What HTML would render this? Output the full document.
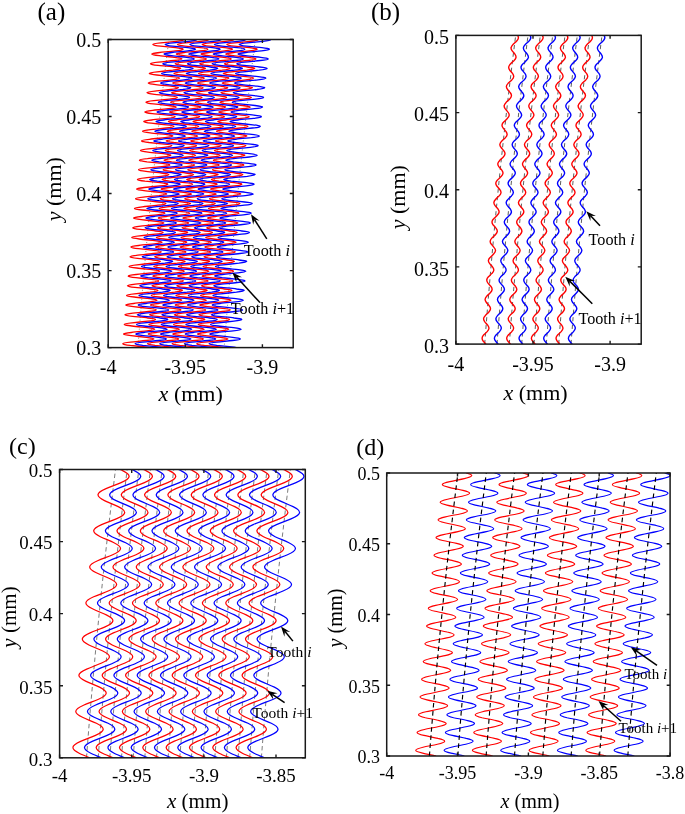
<!DOCTYPE html>
<html><head><meta charset="utf-8"><title>Figure</title>
<style>
html,body{margin:0;padding:0;background:#fff;}
body{width:685px;height:814px;overflow:hidden;}
svg{display:block;will-change:transform;font-family:"Liberation Serif",serif;fill:#000;}
</style></head><body>
<svg width="685" height="814" viewBox="0 0 685 814">
<rect width="685" height="814" fill="#fff"/>
<clipPath id="c0"><rect x="108.2" y="39.5" width="185" height="308.1"/></clipPath>
<g clip-path="url(#c0)" fill="none" stroke-linejoin="round"><g>
<g stroke="#333" stroke-width="0.6" stroke-dasharray="1 2"><path d="M137.9 347.6c1.3 -17.1 2.7 -34.2 4.1 -51.3c1.4 -17.2 2.9 -34.3 4.5 -51.4c1.6 -17.1 3.2 -34.2 4.9 -51.4c1.8 -17.1 3.6 -34.2 5.4 -51.3c1.9 -17.1 3.8 -34.2 5.8 -51.3c2.1 -17.2 4.1 -34.3 6.3 -51.4"/><path d="M150.2 347.6c1.3 -17.1 2.7 -34.2 4.1 -51.3c1.4 -17.2 3 -34.3 4.5 -51.4c1.6 -17.1 3.3 -34.2 5 -51.4c1.7 -17.1 3.5 -34.2 5.4 -51.3c1.8 -17.1 3.8 -34.2 5.8 -51.3c2 -17.2 4.1 -34.3 6.2 -51.4"/><path d="M162.6 347.6c1.3 -17.1 2.6 -34.2 4 -51.3c1.5 -17.2 3 -34.3 4.6 -51.4c1.5 -17.1 3.2 -34.2 4.9 -51.4c1.7 -17.1 3.5 -34.2 5.4 -51.3c1.9 -17.1 3.8 -34.2 5.8 -51.3c2 -17.2 4.1 -34.3 6.3 -51.4"/><path d="M174.9 347.6c1.3 -17.1 2.7 -34.2 4.1 -51.3c1.4 -17.2 2.9 -34.3 4.5 -51.4c1.6 -17.1 3.2 -34.2 4.9 -51.4c1.8 -17.1 3.6 -34.2 5.4 -51.3c1.9 -17.1 3.8 -34.2 5.8 -51.3c2.1 -17.2 4.1 -34.3 6.3 -51.4"/><path d="M187.2 347.6c1.3 -17.1 2.7 -34.2 4.1 -51.3c1.4 -17.2 3 -34.3 4.5 -51.4c1.6 -17.1 3.3 -34.2 5 -51.4c1.7 -17.1 3.5 -34.2 5.4 -51.3c1.8 -17.1 3.8 -34.2 5.8 -51.3c2 -17.2 4.1 -34.3 6.2 -51.4"/><path d="M199.6 347.6c1.3 -17.1 2.6 -34.2 4 -51.3c1.5 -17.2 3 -34.3 4.6 -51.4c1.5 -17.1 3.2 -34.2 4.9 -51.4c1.7 -17.1 3.5 -34.2 5.4 -51.3c1.9 -17.1 3.8 -34.2 5.8 -51.3c2 -17.2 4.1 -34.3 6.3 -51.4"/><path d="M211.9 347.6c1.3 -17.1 2.7 -34.2 4.1 -51.3c1.4 -17.2 2.9 -34.3 4.5 -51.4c1.6 -17.1 3.2 -34.2 4.9 -51.4c1.8 -17.1 3.6 -34.2 5.4 -51.3c1.9 -17.1 3.8 -34.2 5.8 -51.3c2.1 -17.2 4.1 -34.3 6.3 -51.4"/><path d="M224.2 347.6c1.3 -17.1 2.7 -34.2 4.1 -51.3c1.4 -17.2 3 -34.3 4.5 -51.4c1.6 -17.1 3.3 -34.2 5 -51.4c1.7 -17.1 3.5 -34.2 5.4 -51.3c1.8 -17.1 3.8 -34.2 5.8 -51.3c2 -17.2 4.1 -34.3 6.2 -51.4"/></g>
<path d="M150.1 347.6c-1.2 -0.2 -2.7 -0.4 -4.4 -0.6c-4.7 -0.5 -10.7 -1.1 -15.3 -1.6c-4.7 -0.6 -7.7 -1.1 -7.6 -1.6c0 -0.6 3.1 -1.1 7.8 -1.6c4.7 -0.6 10.8 -1.1 15.5 -1.7c4.7 -0.5 7.8 -1 7.9 -1.6c0 -0.5 -3 -1 -7.6 -1.6c-4.6 -0.5 -10.7 -1.1 -15.3 -1.6c-4.6 -0.5 -7.6 -1.1 -7.6 -1.6c0.1 -0.5 3.1 -1.1 7.8 -1.6c4.8 -0.6 10.9 -1.1 15.6 -1.6c4.7 -0.6 7.8 -1.1 7.8 -1.6c0.1 -0.6 -2.9 -1.1 -7.6 -1.7c-4.6 -0.5 -10.6 -1 -15.2 -1.6c-4.7 -0.5 -7.7 -1 -7.6 -1.6c0 -0.5 3.1 -1.1 7.8 -1.6c4.7 -0.5 10.9 -1.1 15.6 -1.6c4.7 -0.5 7.7 -1.1 7.8 -1.6c0 -0.6 -3 -1.1 -7.6 -1.6c-4.6 -0.6 -10.7 -1.1 -15.3 -1.6c-4.6 -0.6 -7.6 -1.1 -7.6 -1.7c0.1 -0.5 3.2 -1 7.9 -1.6c4.7 -0.5 10.8 -1 15.5 -1.6c4.7 -0.5 7.8 -1 7.9 -1.6c0 -0.5 -3 -1.1 -7.6 -1.6c-4.6 -0.5 -10.7 -1.1 -15.3 -1.6c-4.6 -0.5 -7.6 -1.1 -7.6 -1.6c0.1 -0.6 3.2 -1.1 7.9 -1.6c4.7 -0.6 10.8 -1.1 15.5 -1.6c4.7 -0.6 7.8 -1.1 7.9 -1.7c0 -0.5 -3 -1 -7.6 -1.6c-4.6 -0.5 -10.7 -1 -15.3 -1.6c-4.6 -0.5 -7.6 -1.1 -7.6 -1.6c0.1 -0.5 3.2 -1.1 7.9 -1.6c4.7 -0.5 10.8 -1.1 15.5 -1.6c4.7 -0.6 7.8 -1.1 7.9 -1.6c0 -0.6 -3 -1.1 -7.6 -1.6c-4.6 -0.6 -10.7 -1.1 -15.3 -1.6c-4.6 -0.6 -7.6 -1.1 -7.5 -1.7c0 -0.5 3.1 -1 7.8 -1.6c4.7 -0.5 10.8 -1 15.6 -1.6c4.7 -0.5 7.8 -1.1 7.8 -1.6c0 -0.5 -3 -1.1 -7.6 -1.6c-4.6 -0.5 -10.6 -1.1 -15.2 -1.6c-4.7 -0.6 -7.7 -1.1 -7.6 -1.6c0 -0.6 3.1 -1.1 7.8 -1.6c4.7 -0.6 10.9 -1.1 15.6 -1.7c4.7 -0.5 7.8 -1 7.8 -1.6c0.1 -0.5 -2.9 -1 -7.5 -1.6c-4.6 -0.5 -10.7 -1 -15.3 -1.6c-4.6 -0.5 -7.6 -1.1 -7.6 -1.6c0.1 -0.5 3.2 -1.1 7.9 -1.6c4.7 -0.5 10.8 -1.1 15.5 -1.6c4.8 -0.6 7.9 -1.1 7.9 -1.6c0 -0.6 -3 -1.1 -7.6 -1.6c-4.6 -0.6 -10.6 -1.1 -15.2 -1.6c-4.6 -0.6 -7.6 -1.1 -7.6 -1.7c0 -0.5 3.1 -1 7.9 -1.6c4.7 -0.5 10.8 -1 15.5 -1.6c4.7 -0.5 7.8 -1.1 7.9 -1.6c0 -0.5 -3 -1.1 -7.6 -1.6c-4.6 -0.5 -10.6 -1.1 -15.3 -1.6c-4.6 -0.5 -7.6 -1.1 -7.5 -1.6c0 -0.6 3.1 -1.1 7.8 -1.6c4.7 -0.6 10.9 -1.1 15.6 -1.6c4.7 -0.6 7.8 -1.1 7.9 -1.7c0 -0.5 -3 -1 -7.6 -1.6c-4.6 -0.5 -10.7 -1 -15.3 -1.6c-4.6 -0.5 -7.6 -1 -7.5 -1.6c0 -0.5 3.1 -1.1 7.8 -1.6c4.7 -0.5 10.9 -1.1 15.6 -1.6c4.7 -0.5 7.8 -1.1 7.9 -1.6c0 -0.6 -3 -1.1 -7.6 -1.6c-4.6 -0.6 -10.7 -1.1 -15.3 -1.6c-4.6 -0.6 -7.6 -1.1 -7.5 -1.6c0 -0.6 3.1 -1.1 7.8 -1.7c4.8 -0.5 10.9 -1 15.6 -1.6c4.7 -0.5 7.8 -1 7.9 -1.6c0 -0.5 -3 -1 -7.6 -1.6c-4.6 -0.5 -10.6 -1.1 -15.2 -1.6c-4.6 -0.5 -7.6 -1.1 -7.6 -1.6c0.1 -0.5 3.2 -1.1 7.9 -1.6c4.7 -0.6 10.8 -1.1 15.5 -1.6c4.8 -0.6 7.9 -1.1 7.9 -1.6c0.1 -0.6 -2.9 -1.1 -7.5 -1.6c-4.6 -0.6 -10.7 -1.1 -15.3 -1.7c-4.6 -0.5 -7.6 -1 -7.6 -1.6c0.1 -0.5 3.2 -1 7.9 -1.6c4.7 -0.5 10.9 -1 15.6 -1.6c4.7 -0.5 7.8 -1.1 7.9 -1.6c0 -0.5 -3 -1.1 -7.6 -1.6c-4.6 -0.5 -10.6 -1.1 -15.2 -1.6c-4.7 -0.5 -7.6 -1.1 -7.6 -1.6c0.1 -0.6 3.2 -1.1 7.9 -1.6c4.7 -0.6 10.8 -1.1 15.6 -1.6c4.7 -0.6 7.8 -1.1 7.8 -1.6c0.1 -0.6 -2.9 -1.1 -7.5 -1.7c-4.6 -0.5 -10.7 -1 -15.3 -1.6c-4.6 -0.5 -7.6 -1 -7.5 -1.6c0 -0.5 3.1 -1 7.8 -1.6c4.8 -0.5 10.9 -1.1 15.6 -1.6c4.7 -0.5 7.8 -1.1 7.9 -1.6c0.1 -0.5 -2.9 -1.1 -7.5 -1.6c-4.7 -0.5 -10.7 -1.1 -15.3 -1.6c-4.6 -0.6 -7.6 -1.1 -7.5 -1.6c0 -0.6 3.1 -1.1 7.8 -1.6c4.7 -0.6 10.9 -1.1 15.6 -1.6c4.7 -0.6 7.8 -1.1 7.9 -1.7c0 -0.5 -2.9 -1 -7.5 -1.6c-4.7 -0.5 -10.7 -1 -15.3 -1.6c-4.6 -0.5 -7.6 -1 -7.5 -1.6c0 -0.5 3.1 -1.1 7.8 -1.6c4.8 -0.5 10.9 -1.1 15.6 -1.6c4.7 -0.5 7.8 -1.1 7.9 -1.6c0.1 -0.5 -2.9 -1.1 -7.5 -1.6c-4.6 -0.5 -10.7 -1.1 -15.3 -1.6c-4.6 -0.6 -7.6 -1.1 -7.5 -1.6c0 -0.6 3.1 -1.1 7.9 -1.6c4.7 -0.6 10.8 -1.1 15.5 -1.6c4.8 -0.6 7.9 -1.1 7.9 -1.7c0.1 -0.5 -2.9 -1 -7.5 -1.6c-4.6 -0.5 -10.7 -1 -15.3 -1.6c-4.6 -0.5 -7.5 -1 -7.5 -1.6c0.1 -0.5 3.2 -1.1 7.9 -1.6c4.7 -0.5 10.9 -1.1 15.6 -1.6c4.7 -0.5 7.8 -1.1 7.9 -1.6c0 -0.5 -3 -1.1 -7.6 -1.6c-4.6 -0.5 -10.6 -1.1 -15.2 -1.6c-4.6 -0.6 -7.6 -1.1 -7.5 -1.6c0 -0.6 3.1 -1.1 7.8 -1.6c4.8 -0.6 10.9 -1.1 15.6 -1.6c4.8 -0.6 7.9 -1.1 7.9 -1.6c0.1 -0.6 -2.9 -1.1 -7.5 -1.7c-4.6 -0.5 -10.7 -1 -15.3 -1.6c-4.6 -0.5 -7.5 -1 -7.5 -1.6c0.1 -0.5 3.2 -1 7.9 -1.6c4.7 -0.5 10.9 -1.1 15.6 -1.6c4.7 -0.5 7.8 -1.1 7.9 -1.6c0 -0.5 -2.9 -1.1 -7.5 -1.6c-4.6 -0.5 -10.7 -1.1 -15.3 -1.6c-4.6 -0.5 -7.6 -1.1 -7.5 -1.6c0.1 -0.6 3.2 -1.1 7.9 -1.6c4.7 -0.6 10.9 -1.1 15.6 -1.6c4.7 -0.6 7.8 -1.1 7.9 -1.6c0 -0.6 -3 -1.1 -7.6 -1.6c-4.6 -0.6 -10.6 -1.1 -15.2 -1.6c-4.6 -0.6 -7.6 -1.1 -7.5 -1.7c0 -0.5 3.2 -1 7.9 -1.6c4.7 -0.5 10.9 -1 15.6 -1.6c4.7 -0.5 7.8 -1 7.9 -1.6c0 -0.5 -3 -1 -7.6 -1.6c-4.6 -0.5 -10.6 -1.1 -15.2 -1.6c-4.6 -0.5 -7.6 -1.1 -7.5 -1.6c0.1 -0.5 3.2 -1.1 7.9 -1.6c4.7 -0.5 10.9 -1.1 15.6 -1.6c4.7 -0.5 7.8 -1.1 7.9 -1.6c0 -0.6 -2.9 -1.1 -7.5 -1.6c-4.6 -0.6 -10.7 -1.1 -15.3 -1.6c-4.6 -0.6 -7.5 -1.1 -7.5 -1.6c0.1 -0.6 3.2 -1.1 7.9 -1.6c4.7 -0.6 10.9 -1.1 15.6 -1.6c4.7 -0.6 7.9 -1.1 7.9 -1.7c0.1 -0.5 -2.9 -1 -7.5 -1.6c-4.6 -0.5 -10.6 -1 -15.2 -1.6c-4.6 -0.5 -7.6 -1 -7.5 -1.6c0 -0.5 3.1 -1 7.9 -1.6c4.7 -0.5 10.8 -1 15.6 -1.6c4.7 -0.5 7.8 -1.1 7.9 -1.6c0 -0.5 -3 -1.1 -7.6 -1.6c-4.6 -0.5 -10.6 -1.1 -15.2 -1.6c-4.6 -0.5 -7.6 -1.1 -7.5 -1.6c0.1 -0.5 3.2 -1.1 7.9 -1.6c4.7 -0.5 10.9 -1.1 15.6 -1.6c4.7 -0.6 7.9 -1.1 7.9 -1.6c0.1 -0.6 -2.9 -1.1 -7.5 -1.6c-4.6 -0.6 -10.6 -1.1 -15.2 -1.6c-4.6 -0.6 -7.6 -1.1 -7.5 -1.6c0 -0.6 3.2 -1.1 7.9 -1.6c4.7 -0.6 10.9 -1.1 15.6 -1.7c4.7 -0.5 7.8 -1 7.9 -1.6c0.1 -0.5 -2.9 -1 -7.5 -1.6c-4.6 -0.5 -10.6 -1 -15.2 -1.6c-4.6 -0.5 -7.6 -1 -7.5 -1.6c0 -0.5 3.1 -1 7.9 -1.6c4.7 -0.5 10.9 -1 15.6 -1.6c4.7 -0.5 7.8 -1.1 7.9 -1.6c0.1 -0.5 -2.9 -1.1 -7.5 -1.6c-4.6 -0.5 -10.6 -1.1 -15.2 -1.6c-4.6 -0.5 -7.6 -1.1 -7.5 -1.6c0 -0.5 3.1 -1.1 7.9 -1.6c4.7 -0.5 10.9 -1.1 15.6 -1.6c4.7 -0.5 7.8 -1.1 7.9 -1.6c0 -0.1 -0 -0.1 -0.1 -0.2" stroke="#f00" stroke-width="1.3"/>
<path d="M174.8 347.6c-1.2 -0.2 -2.7 -0.4 -4.5 -0.6c-4.6 -0.5 -10.7 -1.1 -15.3 -1.6c-4.6 -0.6 -7.6 -1.1 -7.6 -1.6c0.1 -0.6 3.2 -1.1 7.9 -1.6c4.7 -0.6 10.8 -1.1 15.5 -1.7c4.7 -0.5 7.8 -1 7.8 -1.6c0.1 -0.5 -2.9 -1 -7.5 -1.6c-4.7 -0.5 -10.7 -1.1 -15.3 -1.6c-4.7 -0.5 -7.7 -1.1 -7.6 -1.6c0 -0.5 3.1 -1.1 7.8 -1.6c4.7 -0.6 10.9 -1.1 15.6 -1.6c4.7 -0.6 7.8 -1.1 7.8 -1.6c0 -0.6 -3 -1.1 -7.6 -1.7c-4.6 -0.5 -10.7 -1 -15.3 -1.6c-4.6 -0.5 -7.6 -1 -7.6 -1.6c0.1 -0.5 3.2 -1.1 7.9 -1.6c4.7 -0.5 10.8 -1.1 15.5 -1.6c4.7 -0.5 7.8 -1.1 7.9 -1.6c0 -0.6 -3 -1.1 -7.6 -1.6c-4.6 -0.6 -10.7 -1.1 -15.3 -1.6c-4.6 -0.6 -7.6 -1.1 -7.6 -1.7c0.1 -0.5 3.1 -1 7.9 -1.6c4.7 -0.5 10.8 -1 15.5 -1.6c4.7 -0.5 7.8 -1 7.8 -1.6c0.1 -0.5 -2.9 -1.1 -7.5 -1.6c-4.7 -0.5 -10.7 -1.1 -15.3 -1.6c-4.6 -0.5 -7.6 -1.1 -7.6 -1.6c0 -0.6 3.1 -1.1 7.8 -1.6c4.7 -0.6 10.9 -1.1 15.6 -1.6c4.7 -0.6 7.8 -1.1 7.8 -1.7c0.1 -0.5 -2.9 -1 -7.5 -1.6c-4.7 -0.5 -10.7 -1 -15.3 -1.6c-4.6 -0.5 -7.6 -1.1 -7.6 -1.6c0 -0.5 3.1 -1.1 7.8 -1.6c4.8 -0.5 10.9 -1.1 15.6 -1.6c4.7 -0.6 7.8 -1.1 7.8 -1.6c0.1 -0.6 -2.9 -1.1 -7.5 -1.6c-4.6 -0.6 -10.7 -1.1 -15.3 -1.6c-4.6 -0.6 -7.6 -1.1 -7.6 -1.7c0.1 -0.5 3.2 -1 7.9 -1.6c4.7 -0.5 10.8 -1 15.5 -1.6c4.7 -0.5 7.8 -1.1 7.9 -1.6c0 -0.5 -3 -1.1 -7.6 -1.6c-4.6 -0.5 -10.7 -1.1 -15.3 -1.6c-4.6 -0.6 -7.6 -1.1 -7.5 -1.6c0 -0.6 3.1 -1.1 7.8 -1.6c4.7 -0.6 10.9 -1.1 15.6 -1.7c4.7 -0.5 7.8 -1 7.8 -1.6c0.1 -0.5 -2.9 -1 -7.6 -1.6c-4.6 -0.5 -10.6 -1 -15.2 -1.6c-4.6 -0.5 -7.6 -1.1 -7.6 -1.6c0.1 -0.5 3.1 -1.1 7.9 -1.6c4.7 -0.5 10.8 -1.1 15.5 -1.6c4.7 -0.6 7.8 -1.1 7.9 -1.6c0 -0.6 -3 -1.1 -7.6 -1.6c-4.6 -0.6 -10.7 -1.1 -15.3 -1.6c-4.6 -0.6 -7.6 -1.1 -7.5 -1.7c0 -0.5 3.1 -1 7.8 -1.6c4.7 -0.5 10.9 -1 15.6 -1.6c4.7 -0.5 7.8 -1.1 7.8 -1.6c0.1 -0.5 -2.9 -1.1 -7.5 -1.6c-4.6 -0.5 -10.7 -1.1 -15.3 -1.6c-4.6 -0.5 -7.6 -1.1 -7.6 -1.6c0.1 -0.6 3.2 -1.1 7.9 -1.6c4.7 -0.6 10.9 -1.1 15.6 -1.6c4.7 -0.6 7.8 -1.1 7.8 -1.7c0.1 -0.5 -2.9 -1 -7.5 -1.6c-4.6 -0.5 -10.7 -1 -15.3 -1.6c-4.6 -0.5 -7.6 -1 -7.6 -1.6c0.1 -0.5 3.2 -1.1 7.9 -1.6c4.7 -0.5 10.9 -1.1 15.6 -1.6c4.7 -0.5 7.8 -1.1 7.8 -1.6c0.1 -0.6 -2.9 -1.1 -7.5 -1.6c-4.6 -0.6 -10.7 -1.1 -15.3 -1.6c-4.6 -0.6 -7.6 -1.1 -7.5 -1.6c0 -0.6 3.1 -1.1 7.8 -1.7c4.7 -0.5 10.9 -1 15.6 -1.6c4.7 -0.5 7.8 -1 7.8 -1.6c0.1 -0.5 -2.9 -1 -7.5 -1.6c-4.6 -0.5 -10.7 -1.1 -15.3 -1.6c-4.6 -0.5 -7.6 -1.1 -7.5 -1.6c0 -0.5 3.1 -1.1 7.8 -1.6c4.8 -0.6 10.9 -1.1 15.6 -1.6c4.7 -0.6 7.8 -1.1 7.9 -1.6c0 -0.6 -3 -1.1 -7.6 -1.6c-4.6 -0.6 -10.6 -1.1 -15.2 -1.7c-4.6 -0.5 -7.6 -1 -7.6 -1.6c0.1 -0.5 3.2 -1 7.9 -1.6c4.7 -0.5 10.8 -1 15.6 -1.6c4.7 -0.5 7.8 -1.1 7.8 -1.6c0.1 -0.5 -2.9 -1.1 -7.5 -1.6c-4.6 -0.5 -10.7 -1.1 -15.3 -1.6c-4.6 -0.5 -7.6 -1.1 -7.5 -1.6c0 -0.6 3.1 -1.1 7.8 -1.6c4.8 -0.6 10.9 -1.1 15.6 -1.6c4.7 -0.6 7.8 -1.1 7.9 -1.6c0 -0.6 -3 -1.1 -7.6 -1.7c-4.6 -0.5 -10.6 -1 -15.2 -1.6c-4.6 -0.5 -7.6 -1 -7.6 -1.6c0.1 -0.5 3.2 -1 7.9 -1.6c4.7 -0.5 10.9 -1.1 15.6 -1.6c4.7 -0.5 7.8 -1.1 7.9 -1.6c0 -0.5 -3 -1.1 -7.6 -1.6c-4.6 -0.5 -10.6 -1.1 -15.2 -1.6c-4.6 -0.6 -7.6 -1.1 -7.6 -1.6c0.1 -0.6 3.2 -1.1 7.9 -1.6c4.7 -0.6 10.9 -1.1 15.6 -1.6c4.7 -0.6 7.8 -1.1 7.9 -1.7c0 -0.5 -3 -1 -7.6 -1.6c-4.6 -0.5 -10.6 -1 -15.2 -1.6c-4.6 -0.5 -7.6 -1 -7.6 -1.6c0.1 -0.5 3.2 -1.1 7.9 -1.6c4.7 -0.5 10.9 -1.1 15.6 -1.6c4.7 -0.5 7.8 -1.1 7.9 -1.6c0 -0.5 -3 -1.1 -7.6 -1.6c-4.6 -0.5 -10.6 -1.1 -15.2 -1.6c-4.6 -0.6 -7.6 -1.1 -7.6 -1.6c0.1 -0.6 3.2 -1.1 7.9 -1.6c4.7 -0.6 10.9 -1.1 15.6 -1.6c4.7 -0.6 7.8 -1.1 7.9 -1.7c0 -0.5 -2.9 -1 -7.5 -1.6c-4.6 -0.5 -10.7 -1 -15.3 -1.6c-4.6 -0.5 -7.6 -1 -7.5 -1.6c0 -0.5 3.1 -1.1 7.9 -1.6c4.7 -0.5 10.8 -1.1 15.5 -1.6c4.8 -0.5 7.9 -1.1 7.9 -1.6c0.1 -0.5 -2.9 -1.1 -7.5 -1.6c-4.6 -0.5 -10.6 -1.1 -15.2 -1.6c-4.6 -0.6 -7.6 -1.1 -7.6 -1.6c0.1 -0.6 3.2 -1.1 7.9 -1.6c4.7 -0.6 10.9 -1.1 15.6 -1.6c4.7 -0.6 7.8 -1.1 7.9 -1.6c0 -0.6 -2.9 -1.1 -7.5 -1.7c-4.6 -0.5 -10.7 -1 -15.3 -1.6c-4.6 -0.5 -7.6 -1 -7.5 -1.6c0 -0.5 3.1 -1 7.9 -1.6c4.7 -0.5 10.8 -1.1 15.6 -1.6c4.7 -0.5 7.8 -1.1 7.9 -1.6c0 -0.5 -3 -1.1 -7.6 -1.6c-4.6 -0.5 -10.6 -1.1 -15.2 -1.6c-4.6 -0.5 -7.6 -1.1 -7.5 -1.6c0 -0.6 3.1 -1.1 7.8 -1.6c4.8 -0.6 10.9 -1.1 15.6 -1.6c4.8 -0.6 7.9 -1.1 7.9 -1.6c0.1 -0.6 -2.9 -1.1 -7.5 -1.6c-4.6 -0.6 -10.6 -1.1 -15.2 -1.6c-4.6 -0.6 -7.6 -1.1 -7.5 -1.7c0 -0.5 3.1 -1 7.8 -1.6c4.8 -0.5 10.9 -1 15.6 -1.6c4.8 -0.5 7.9 -1 7.9 -1.6c0.1 -0.5 -2.9 -1 -7.5 -1.6c-4.6 -0.5 -10.6 -1.1 -15.2 -1.6c-4.6 -0.5 -7.6 -1.1 -7.5 -1.6c0 -0.5 3.1 -1.1 7.9 -1.6c4.7 -0.5 10.8 -1.1 15.6 -1.6c4.7 -0.5 7.8 -1.1 7.9 -1.6c0 -0.6 -3 -1.1 -7.6 -1.6c-4.6 -0.6 -10.6 -1.1 -15.2 -1.6c-4.6 -0.6 -7.6 -1.1 -7.5 -1.6c0 -0.6 3.2 -1.1 7.9 -1.6c4.7 -0.6 10.9 -1.1 15.6 -1.6c4.7 -0.6 7.8 -1.1 7.9 -1.7c0 -0.5 -2.9 -1 -7.5 -1.6c-4.6 -0.5 -10.7 -1 -15.3 -1.6c-4.6 -0.5 -7.5 -1 -7.5 -1.6c0.1 -0.5 3.2 -1 7.9 -1.6c4.7 -0.5 10.9 -1 15.6 -1.6c4.8 -0.5 7.9 -1.1 7.9 -1.6c0.1 -0.5 -2.9 -1.1 -7.5 -1.6c-4.6 -0.5 -10.6 -1.1 -15.2 -1.6c-4.6 -0.5 -7.6 -1.1 -7.5 -1.6c0 -0.5 3.1 -1.1 7.9 -1.6c4.7 -0.5 10.9 -1.1 15.6 -1.6c4.7 -0.6 7.8 -1.1 7.9 -1.6c0.1 -0.6 -2.9 -1.1 -7.5 -1.6c-4.6 -0.6 -10.7 -1.1 -15.2 -1.6c-4.6 -0.6 -7.6 -1.1 -7.6 -1.6c0.1 -0.6 3.2 -1.1 7.9 -1.6c4.8 -0.6 10.9 -1.1 15.7 -1.7c4.7 -0.5 7.8 -1 7.9 -1.6c0 -0.5 -3 -1 -7.5 -1.6c-4.6 -0.5 -10.7 -1 -15.3 -1.6c-4.6 -0.5 -7.5 -1 -7.5 -1.6c0.1 -0.5 3.2 -1 7.9 -1.6c4.8 -0.5 10.9 -1 15.6 -1.6c4.8 -0.5 7.9 -1.1 8 -1.6c0 -0.5 -3 -1.1 -7.6 -1.6c-4.5 -0.5 -10.6 -1.1 -15.2 -1.6c-4.6 -0.5 -7.5 -1.1 -7.5 -1.6c0.1 -0.5 3.2 -1.1 7.9 -1.6c4.8 -0.5 10.9 -1.1 15.6 -1.6c4.8 -0.5 7.9 -1.1 8 -1.6c-0 -0.1 -0.1 -0.1 -0.1 -0.2" stroke="#f00" stroke-width="1.3"/>
<path d="M199.5 347.6c-1.3 -0.2 -2.8 -0.4 -4.5 -0.6c-4.6 -0.5 -10.7 -1.1 -15.3 -1.6c-4.6 -0.6 -7.6 -1.1 -7.6 -1.6c0 -0.6 3.1 -1.1 7.8 -1.6c4.7 -0.6 10.9 -1.1 15.6 -1.7c4.7 -0.5 7.8 -1 7.8 -1.6c0.1 -0.5 -3 -1 -7.6 -1.6c-4.6 -0.5 -10.6 -1.1 -15.3 -1.6c-4.6 -0.5 -7.6 -1.1 -7.6 -1.6c0.1 -0.5 3.2 -1.1 7.9 -1.6c4.7 -0.6 10.8 -1.1 15.5 -1.6c4.7 -0.6 7.8 -1.1 7.9 -1.6c0 -0.6 -3 -1.1 -7.6 -1.7c-4.6 -0.5 -10.7 -1 -15.3 -1.6c-4.6 -0.5 -7.6 -1 -7.6 -1.6c0 -0.5 3.1 -1.1 7.8 -1.6c4.7 -0.5 10.9 -1.1 15.6 -1.6c4.7 -0.5 7.8 -1.1 7.8 -1.6c0.1 -0.6 -2.9 -1.1 -7.6 -1.6c-4.6 -0.6 -10.6 -1.1 -15.2 -1.6c-4.7 -0.6 -7.7 -1.1 -7.6 -1.7c0 -0.5 3.1 -1 7.8 -1.6c4.7 -0.5 10.9 -1 15.6 -1.6c4.7 -0.5 7.8 -1 7.8 -1.6c0 -0.5 -3 -1.1 -7.6 -1.6c-4.6 -0.5 -10.6 -1.1 -15.3 -1.6c-4.6 -0.5 -7.6 -1.1 -7.5 -1.6c0 -0.6 3.1 -1.1 7.8 -1.6c4.7 -0.6 10.9 -1.1 15.6 -1.6c4.7 -0.6 7.8 -1.1 7.8 -1.7c0 -0.5 -3 -1 -7.6 -1.6c-4.6 -0.5 -10.6 -1 -15.3 -1.6c-4.6 -0.5 -7.6 -1.1 -7.5 -1.6c0 -0.5 3.1 -1.1 7.8 -1.6c4.7 -0.5 10.9 -1.1 15.6 -1.6c4.7 -0.6 7.8 -1.1 7.8 -1.6c0.1 -0.6 -2.9 -1.1 -7.6 -1.6c-4.6 -0.6 -10.6 -1.1 -15.2 -1.6c-4.7 -0.6 -7.7 -1.1 -7.6 -1.7c0 -0.5 3.1 -1 7.8 -1.6c4.7 -0.5 10.9 -1 15.6 -1.6c4.7 -0.5 7.8 -1.1 7.8 -1.6c0.1 -0.5 -2.9 -1.1 -7.5 -1.6c-4.6 -0.5 -10.7 -1.1 -15.3 -1.6c-4.6 -0.6 -7.6 -1.1 -7.6 -1.6c0.1 -0.6 3.2 -1.1 7.9 -1.6c4.7 -0.6 10.8 -1.1 15.5 -1.7c4.7 -0.5 7.8 -1 7.9 -1.6c0 -0.5 -3 -1 -7.6 -1.6c-4.6 -0.5 -10.7 -1 -15.3 -1.6c-4.6 -0.5 -7.6 -1.1 -7.5 -1.6c0 -0.5 3.1 -1.1 7.8 -1.6c4.7 -0.5 10.9 -1.1 15.6 -1.6c4.7 -0.6 7.8 -1.1 7.8 -1.6c0.1 -0.6 -2.9 -1.1 -7.5 -1.6c-4.6 -0.6 -10.7 -1.1 -15.3 -1.6c-4.6 -0.6 -7.6 -1.1 -7.6 -1.7c0.1 -0.5 3.2 -1 7.9 -1.6c4.7 -0.5 10.8 -1 15.6 -1.6c4.7 -0.5 7.8 -1.1 7.8 -1.6c0.1 -0.5 -2.9 -1.1 -7.6 -1.6c-4.6 -0.5 -10.6 -1.1 -15.2 -1.6c-4.6 -0.5 -7.6 -1.1 -7.6 -1.6c0.1 -0.6 3.2 -1.1 7.9 -1.6c4.7 -0.6 10.8 -1.1 15.5 -1.6c4.7 -0.6 7.8 -1.1 7.9 -1.7c0 -0.5 -3 -1 -7.6 -1.6c-4.6 -0.5 -10.6 -1 -15.2 -1.6c-4.6 -0.5 -7.6 -1 -7.6 -1.6c0.1 -0.5 3.2 -1.1 7.9 -1.6c4.7 -0.5 10.8 -1.1 15.5 -1.6c4.7 -0.5 7.8 -1.1 7.9 -1.6c0 -0.6 -3 -1.1 -7.6 -1.6c-4.6 -0.6 -10.6 -1.1 -15.2 -1.6c-4.6 -0.6 -7.6 -1.1 -7.6 -1.6c0.1 -0.6 3.2 -1.1 7.9 -1.7c4.7 -0.5 10.8 -1 15.5 -1.6c4.8 -0.5 7.9 -1 7.9 -1.6c0.1 -0.5 -2.9 -1 -7.5 -1.6c-4.7 -0.5 -10.7 -1.1 -15.3 -1.6c-4.6 -0.5 -7.6 -1.1 -7.6 -1.6c0.1 -0.5 3.2 -1.1 7.9 -1.6c4.7 -0.6 10.9 -1.1 15.6 -1.6c4.7 -0.6 7.8 -1.1 7.8 -1.6c0.1 -0.6 -2.9 -1.1 -7.5 -1.6c-4.6 -0.6 -10.7 -1.1 -15.3 -1.7c-4.6 -0.5 -7.6 -1 -7.5 -1.6c0 -0.5 3.1 -1 7.8 -1.6c4.8 -0.5 10.9 -1 15.6 -1.6c4.7 -0.5 7.8 -1.1 7.9 -1.6c0 -0.5 -3 -1.1 -7.6 -1.6c-4.6 -0.5 -10.6 -1.1 -15.2 -1.6c-4.6 -0.5 -7.6 -1.1 -7.6 -1.6c0.1 -0.6 3.2 -1.1 7.9 -1.6c4.7 -0.6 10.9 -1.1 15.6 -1.6c4.7 -0.6 7.8 -1.1 7.9 -1.6c0 -0.6 -3 -1.1 -7.6 -1.7c-4.6 -0.5 -10.6 -1 -15.2 -1.6c-4.7 -0.5 -7.6 -1 -7.6 -1.6c0.1 -0.5 3.2 -1 7.9 -1.6c4.7 -0.5 10.8 -1.1 15.6 -1.6c4.7 -0.5 7.8 -1.1 7.8 -1.6c0.1 -0.5 -2.9 -1.1 -7.5 -1.6c-4.6 -0.5 -10.7 -1.1 -15.3 -1.6c-4.6 -0.6 -7.6 -1.1 -7.5 -1.6c0 -0.6 3.2 -1.1 7.9 -1.6c4.7 -0.6 10.8 -1.1 15.6 -1.6c4.7 -0.6 7.8 -1.1 7.8 -1.7c0.1 -0.5 -2.9 -1 -7.5 -1.6c-4.6 -0.5 -10.7 -1 -15.3 -1.6c-4.6 -0.5 -7.6 -1 -7.5 -1.6c0.1 -0.5 3.2 -1.1 7.9 -1.6c4.7 -0.5 10.8 -1.1 15.6 -1.6c4.7 -0.5 7.8 -1.1 7.8 -1.6c0.1 -0.5 -2.9 -1.1 -7.5 -1.6c-4.6 -0.5 -10.6 -1.1 -15.3 -1.6c-4.6 -0.6 -7.5 -1.1 -7.5 -1.6c0.1 -0.6 3.2 -1.1 7.9 -1.6c4.7 -0.6 10.9 -1.1 15.6 -1.6c4.7 -0.6 7.8 -1.1 7.9 -1.7c0 -0.5 -3 -1 -7.6 -1.6c-4.6 -0.5 -10.6 -1 -15.2 -1.6c-4.6 -0.5 -7.6 -1 -7.6 -1.6c0.1 -0.5 3.2 -1.1 7.9 -1.6c4.7 -0.5 10.9 -1.1 15.6 -1.6c4.7 -0.5 7.8 -1.1 7.9 -1.6c0.1 -0.5 -2.9 -1.1 -7.5 -1.6c-4.6 -0.5 -10.7 -1.1 -15.3 -1.6c-4.6 -0.6 -7.6 -1.1 -7.5 -1.6c0 -0.6 3.2 -1.1 7.9 -1.6c4.7 -0.6 10.8 -1.1 15.6 -1.6c4.7 -0.6 7.8 -1.1 7.9 -1.6c0 -0.6 -3 -1.1 -7.6 -1.7c-4.6 -0.5 -10.6 -1 -15.2 -1.6c-4.6 -0.5 -7.6 -1 -7.6 -1.6c0.1 -0.5 3.2 -1 7.9 -1.6c4.8 -0.5 10.9 -1.1 15.6 -1.6c4.8 -0.5 7.9 -1.1 7.9 -1.6c0.1 -0.5 -2.9 -1.1 -7.5 -1.6c-4.6 -0.5 -10.6 -1.1 -15.2 -1.6c-4.6 -0.5 -7.6 -1.1 -7.6 -1.6c0.1 -0.6 3.2 -1.1 7.9 -1.6c4.7 -0.6 10.9 -1.1 15.6 -1.6c4.7 -0.6 7.8 -1.1 7.9 -1.6c0.1 -0.6 -2.9 -1.1 -7.5 -1.6c-4.6 -0.6 -10.7 -1.1 -15.3 -1.6c-4.6 -0.6 -7.5 -1.1 -7.5 -1.7c0.1 -0.5 3.2 -1 7.9 -1.6c4.7 -0.5 10.9 -1 15.6 -1.6c4.7 -0.5 7.8 -1 7.9 -1.6c0.1 -0.5 -2.9 -1 -7.5 -1.6c-4.6 -0.5 -10.7 -1.1 -15.3 -1.6c-4.6 -0.5 -7.5 -1.1 -7.5 -1.6c0.1 -0.5 3.2 -1.1 7.9 -1.6c4.7 -0.5 10.9 -1.1 15.6 -1.6c4.7 -0.5 7.9 -1.1 7.9 -1.6c0.1 -0.6 -2.9 -1.1 -7.5 -1.6c-4.6 -0.6 -10.6 -1.1 -15.2 -1.6c-4.6 -0.6 -7.6 -1.1 -7.6 -1.6c0.1 -0.6 3.2 -1.1 7.9 -1.6c4.8 -0.6 10.9 -1.1 15.7 -1.6c4.7 -0.6 7.8 -1.1 7.8 -1.7c0.1 -0.5 -2.9 -1 -7.5 -1.6c-4.6 -0.5 -10.6 -1 -15.2 -1.6c-4.6 -0.5 -7.6 -1 -7.5 -1.6c0 -0.5 3.2 -1 7.9 -1.6c4.7 -0.5 10.9 -1 15.6 -1.6c4.7 -0.5 7.8 -1.1 7.9 -1.6c0.1 -0.5 -2.9 -1.1 -7.5 -1.6c-4.6 -0.5 -10.6 -1.1 -15.2 -1.6c-4.6 -0.5 -7.6 -1.1 -7.6 -1.6c0.1 -0.5 3.2 -1.1 7.9 -1.6c4.8 -0.5 10.9 -1.1 15.7 -1.6c4.7 -0.6 7.8 -1.1 7.9 -1.6c0 -0.6 -3 -1.1 -7.6 -1.6c-4.6 -0.6 -10.6 -1.1 -15.2 -1.6c-4.6 -0.6 -7.6 -1.1 -7.5 -1.6c0.1 -0.6 3.2 -1.1 7.9 -1.6c4.7 -0.6 10.9 -1.1 15.6 -1.7c4.8 -0.5 7.9 -1 7.9 -1.6c0.1 -0.5 -2.9 -1 -7.5 -1.6c-4.6 -0.5 -10.6 -1 -15.2 -1.6c-4.6 -0.5 -7.6 -1 -7.5 -1.6c0.1 -0.5 3.2 -1 7.9 -1.6c4.7 -0.5 10.9 -1 15.6 -1.6c4.7 -0.5 7.9 -1.1 7.9 -1.6c0.1 -0.5 -2.9 -1.1 -7.5 -1.6c-4.6 -0.5 -10.6 -1.1 -15.2 -1.6c-4.6 -0.5 -7.6 -1.1 -7.5 -1.6c0.1 -0.5 3.2 -1.1 7.9 -1.6c4.7 -0.5 10.9 -1.1 15.6 -1.6c4.7 -0.5 7.9 -1.1 7.9 -1.6c0 -0.1 0 -0.1 -0.1 -0.2" stroke="#f00" stroke-width="1.3"/>
<path d="M224.1 347.6c-1.2 -0.2 -2.7 -0.4 -4.4 -0.6c-4.7 -0.5 -10.7 -1.1 -15.3 -1.6c-4.7 -0.6 -7.7 -1.1 -7.6 -1.6c0 -0.6 3.1 -1.1 7.8 -1.6c4.7 -0.6 10.8 -1.1 15.5 -1.7c4.7 -0.5 7.8 -1 7.9 -1.6c0 -0.5 -3 -1 -7.6 -1.6c-4.6 -0.5 -10.7 -1.1 -15.3 -1.6c-4.6 -0.5 -7.6 -1.1 -7.6 -1.6c0.1 -0.5 3.1 -1.1 7.8 -1.6c4.8 -0.6 10.9 -1.1 15.6 -1.6c4.7 -0.6 7.8 -1.1 7.8 -1.6c0.1 -0.6 -2.9 -1.1 -7.6 -1.7c-4.6 -0.5 -10.6 -1 -15.2 -1.6c-4.7 -0.5 -7.7 -1 -7.6 -1.6c0 -0.5 3.1 -1.1 7.8 -1.6c4.7 -0.5 10.9 -1.1 15.6 -1.6c4.7 -0.5 7.7 -1.1 7.8 -1.6c0 -0.6 -3 -1.1 -7.6 -1.6c-4.6 -0.6 -10.7 -1.1 -15.3 -1.6c-4.6 -0.6 -7.6 -1.1 -7.6 -1.7c0.1 -0.5 3.2 -1 7.9 -1.6c4.7 -0.5 10.8 -1 15.5 -1.6c4.7 -0.5 7.8 -1 7.9 -1.6c0 -0.5 -3 -1.1 -7.6 -1.6c-4.6 -0.5 -10.7 -1.1 -15.3 -1.6c-4.6 -0.5 -7.6 -1.1 -7.6 -1.6c0.1 -0.6 3.2 -1.1 7.9 -1.6c4.7 -0.6 10.8 -1.1 15.5 -1.6c4.7 -0.6 7.8 -1.1 7.9 -1.7c0 -0.5 -3 -1 -7.6 -1.6c-4.6 -0.5 -10.7 -1 -15.3 -1.6c-4.6 -0.5 -7.6 -1.1 -7.6 -1.6c0.1 -0.5 3.2 -1.1 7.9 -1.6c4.7 -0.5 10.8 -1.1 15.5 -1.6c4.7 -0.6 7.8 -1.1 7.9 -1.6c0 -0.6 -3 -1.1 -7.6 -1.6c-4.6 -0.6 -10.7 -1.1 -15.3 -1.6c-4.6 -0.6 -7.6 -1.1 -7.5 -1.7c0 -0.5 3.1 -1 7.8 -1.6c4.7 -0.5 10.8 -1 15.6 -1.6c4.7 -0.5 7.8 -1.1 7.8 -1.6c0 -0.5 -3 -1.1 -7.6 -1.6c-4.6 -0.5 -10.6 -1.1 -15.2 -1.6c-4.7 -0.6 -7.7 -1.1 -7.6 -1.6c0 -0.6 3.1 -1.1 7.8 -1.6c4.7 -0.6 10.9 -1.1 15.6 -1.7c4.7 -0.5 7.8 -1 7.8 -1.6c0.1 -0.5 -2.9 -1 -7.5 -1.6c-4.6 -0.5 -10.7 -1 -15.3 -1.6c-4.6 -0.5 -7.6 -1.1 -7.6 -1.6c0.1 -0.5 3.2 -1.1 7.9 -1.6c4.7 -0.5 10.8 -1.1 15.5 -1.6c4.8 -0.6 7.9 -1.1 7.9 -1.6c0 -0.6 -3 -1.1 -7.6 -1.6c-4.6 -0.6 -10.6 -1.1 -15.2 -1.6c-4.6 -0.6 -7.6 -1.1 -7.6 -1.7c0 -0.5 3.1 -1 7.9 -1.6c4.7 -0.5 10.8 -1 15.5 -1.6c4.7 -0.5 7.8 -1.1 7.9 -1.6c0 -0.5 -3 -1.1 -7.6 -1.6c-4.6 -0.5 -10.6 -1.1 -15.3 -1.6c-4.6 -0.5 -7.6 -1.1 -7.5 -1.6c0 -0.6 3.1 -1.1 7.8 -1.6c4.7 -0.6 10.9 -1.1 15.6 -1.6c4.7 -0.6 7.8 -1.1 7.9 -1.7c0 -0.5 -3 -1 -7.6 -1.6c-4.6 -0.5 -10.7 -1 -15.3 -1.6c-4.6 -0.5 -7.6 -1 -7.5 -1.6c0 -0.5 3.1 -1.1 7.8 -1.6c4.7 -0.5 10.9 -1.1 15.6 -1.6c4.7 -0.5 7.8 -1.1 7.9 -1.6c0 -0.6 -3 -1.1 -7.6 -1.6c-4.6 -0.6 -10.7 -1.1 -15.3 -1.6c-4.6 -0.6 -7.6 -1.1 -7.5 -1.6c0 -0.6 3.1 -1.1 7.8 -1.7c4.8 -0.5 10.9 -1 15.6 -1.6c4.7 -0.5 7.8 -1 7.9 -1.6c0 -0.5 -3 -1 -7.6 -1.6c-4.6 -0.5 -10.6 -1.1 -15.2 -1.6c-4.6 -0.5 -7.6 -1.1 -7.6 -1.6c0.1 -0.5 3.2 -1.1 7.9 -1.6c4.7 -0.6 10.8 -1.1 15.5 -1.6c4.8 -0.6 7.9 -1.1 7.9 -1.6c0.1 -0.6 -2.9 -1.1 -7.5 -1.6c-4.6 -0.6 -10.7 -1.1 -15.3 -1.7c-4.6 -0.5 -7.6 -1 -7.6 -1.6c0.1 -0.5 3.2 -1 7.9 -1.6c4.7 -0.5 10.9 -1 15.6 -1.6c4.7 -0.5 7.8 -1.1 7.9 -1.6c0 -0.5 -3 -1.1 -7.6 -1.6c-4.6 -0.5 -10.6 -1.1 -15.2 -1.6c-4.7 -0.5 -7.6 -1.1 -7.6 -1.6c0.1 -0.6 3.2 -1.1 7.9 -1.6c4.7 -0.6 10.8 -1.1 15.6 -1.6c4.7 -0.6 7.8 -1.1 7.8 -1.6c0.1 -0.6 -2.9 -1.1 -7.5 -1.7c-4.6 -0.5 -10.7 -1 -15.3 -1.6c-4.6 -0.5 -7.6 -1 -7.5 -1.6c0 -0.5 3.1 -1 7.8 -1.6c4.8 -0.5 10.9 -1.1 15.6 -1.6c4.7 -0.5 7.8 -1.1 7.9 -1.6c0.1 -0.5 -2.9 -1.1 -7.5 -1.6c-4.7 -0.5 -10.7 -1.1 -15.3 -1.6c-4.6 -0.6 -7.6 -1.1 -7.5 -1.6c0 -0.6 3.1 -1.1 7.8 -1.6c4.7 -0.6 10.9 -1.1 15.6 -1.6c4.7 -0.6 7.8 -1.1 7.9 -1.7c0 -0.5 -2.9 -1 -7.5 -1.6c-4.7 -0.5 -10.7 -1 -15.3 -1.6c-4.6 -0.5 -7.6 -1 -7.5 -1.6c0 -0.5 3.1 -1.1 7.8 -1.6c4.8 -0.5 10.9 -1.1 15.6 -1.6c4.7 -0.5 7.8 -1.1 7.9 -1.6c0.1 -0.5 -2.9 -1.1 -7.5 -1.6c-4.6 -0.5 -10.7 -1.1 -15.3 -1.6c-4.6 -0.6 -7.6 -1.1 -7.5 -1.6c0 -0.6 3.1 -1.1 7.9 -1.6c4.7 -0.6 10.8 -1.1 15.5 -1.6c4.8 -0.6 7.9 -1.1 7.9 -1.7c0.1 -0.5 -2.9 -1 -7.5 -1.6c-4.6 -0.5 -10.7 -1 -15.3 -1.6c-4.6 -0.5 -7.5 -1 -7.5 -1.6c0.1 -0.5 3.2 -1.1 7.9 -1.6c4.7 -0.5 10.9 -1.1 15.6 -1.6c4.7 -0.5 7.8 -1.1 7.9 -1.6c0 -0.5 -3 -1.1 -7.6 -1.6c-4.6 -0.5 -10.6 -1.1 -15.2 -1.6c-4.6 -0.6 -7.6 -1.1 -7.5 -1.6c0 -0.6 3.1 -1.1 7.8 -1.6c4.8 -0.6 10.9 -1.1 15.6 -1.6c4.8 -0.6 7.9 -1.1 7.9 -1.6c0.1 -0.6 -2.9 -1.1 -7.5 -1.7c-4.6 -0.5 -10.7 -1 -15.3 -1.6c-4.6 -0.5 -7.5 -1 -7.5 -1.6c0.1 -0.5 3.2 -1 7.9 -1.6c4.7 -0.5 10.9 -1.1 15.6 -1.6c4.7 -0.5 7.8 -1.1 7.9 -1.6c0 -0.5 -2.9 -1.1 -7.5 -1.6c-4.6 -0.5 -10.7 -1.1 -15.3 -1.6c-4.6 -0.5 -7.6 -1.1 -7.5 -1.6c0.1 -0.6 3.2 -1.1 7.9 -1.6c4.7 -0.6 10.9 -1.1 15.6 -1.6c4.7 -0.6 7.8 -1.1 7.9 -1.6c0 -0.6 -3 -1.1 -7.6 -1.6c-4.6 -0.6 -10.6 -1.1 -15.2 -1.6c-4.6 -0.6 -7.6 -1.1 -7.5 -1.7c0 -0.5 3.2 -1 7.9 -1.6c4.7 -0.5 10.9 -1 15.6 -1.6c4.7 -0.5 7.8 -1 7.9 -1.6c0 -0.5 -3 -1 -7.6 -1.6c-4.6 -0.5 -10.6 -1.1 -15.2 -1.6c-4.6 -0.5 -7.6 -1.1 -7.5 -1.6c0.1 -0.5 3.2 -1.1 7.9 -1.6c4.7 -0.5 10.9 -1.1 15.6 -1.6c4.7 -0.5 7.8 -1.1 7.9 -1.6c0 -0.6 -2.9 -1.1 -7.5 -1.6c-4.6 -0.6 -10.7 -1.1 -15.3 -1.6c-4.6 -0.6 -7.5 -1.1 -7.5 -1.6c0.1 -0.6 3.2 -1.1 7.9 -1.6c4.7 -0.6 10.9 -1.1 15.6 -1.6c4.7 -0.6 7.9 -1.1 7.9 -1.7c0.1 -0.5 -2.9 -1 -7.5 -1.6c-4.6 -0.5 -10.6 -1 -15.2 -1.6c-4.6 -0.5 -7.6 -1 -7.5 -1.6c0 -0.5 3.1 -1 7.9 -1.6c4.7 -0.5 10.8 -1 15.6 -1.6c4.7 -0.5 7.8 -1.1 7.9 -1.6c0 -0.5 -3 -1.1 -7.6 -1.6c-4.6 -0.5 -10.6 -1.1 -15.2 -1.6c-4.6 -0.5 -7.6 -1.1 -7.5 -1.6c0.1 -0.5 3.2 -1.1 7.9 -1.6c4.7 -0.5 10.9 -1.1 15.6 -1.6c4.7 -0.6 7.9 -1.1 7.9 -1.6c0.1 -0.6 -2.9 -1.1 -7.5 -1.6c-4.6 -0.6 -10.6 -1.1 -15.2 -1.6c-4.6 -0.6 -7.6 -1.1 -7.5 -1.6c0 -0.6 3.2 -1.1 7.9 -1.6c4.7 -0.6 10.9 -1.1 15.6 -1.7c4.7 -0.5 7.8 -1 7.9 -1.6c0.1 -0.5 -2.9 -1 -7.5 -1.6c-4.6 -0.5 -10.6 -1 -15.2 -1.6c-4.6 -0.5 -7.6 -1 -7.5 -1.6c0 -0.5 3.1 -1 7.9 -1.6c4.7 -0.5 10.9 -1 15.6 -1.6c4.7 -0.5 7.8 -1.1 7.9 -1.6c0.1 -0.5 -2.9 -1.1 -7.5 -1.6c-4.6 -0.5 -10.6 -1.1 -15.2 -1.6c-4.6 -0.5 -7.6 -1.1 -7.5 -1.6c0 -0.5 3.1 -1.1 7.9 -1.6c4.7 -0.5 10.9 -1.1 15.6 -1.6c4.7 -0.5 7.8 -1.1 7.9 -1.6c0 -0.1 -0 -0.1 -0.1 -0.2" stroke="#f00" stroke-width="1.3"/>
<path d="M162.5 347.6c-1.3 -0.2 -2.8 -0.4 -4.5 -0.6c-4.6 -0.5 -10.7 -1.1 -15.3 -1.6c-4.6 -0.6 -7.6 -1.1 -7.6 -1.6c0 -0.6 3.1 -1.1 7.8 -1.6c4.7 -0.6 10.9 -1.1 15.6 -1.7c4.7 -0.5 7.8 -1 7.8 -1.6c0.1 -0.5 -3 -1 -7.6 -1.6c-4.6 -0.5 -10.6 -1.1 -15.3 -1.6c-4.6 -0.5 -7.6 -1.1 -7.6 -1.6c0.1 -0.5 3.2 -1.1 7.9 -1.6c4.7 -0.6 10.8 -1.1 15.5 -1.6c4.7 -0.6 7.8 -1.1 7.9 -1.6c0 -0.6 -3 -1.1 -7.6 -1.7c-4.6 -0.5 -10.7 -1 -15.3 -1.6c-4.6 -0.5 -7.6 -1 -7.6 -1.6c0 -0.5 3.1 -1.1 7.8 -1.6c4.7 -0.5 10.9 -1.1 15.6 -1.6c4.7 -0.5 7.8 -1.1 7.8 -1.6c0.1 -0.6 -2.9 -1.1 -7.6 -1.6c-4.6 -0.6 -10.6 -1.1 -15.2 -1.6c-4.7 -0.6 -7.7 -1.1 -7.6 -1.7c0 -0.5 3.1 -1 7.8 -1.6c4.7 -0.5 10.9 -1 15.6 -1.6c4.7 -0.5 7.8 -1 7.8 -1.6c0 -0.5 -3 -1.1 -7.6 -1.6c-4.6 -0.5 -10.6 -1.1 -15.3 -1.6c-4.6 -0.5 -7.6 -1.1 -7.5 -1.6c0 -0.6 3.1 -1.1 7.8 -1.6c4.7 -0.6 10.9 -1.1 15.6 -1.6c4.7 -0.6 7.8 -1.1 7.8 -1.7c0 -0.5 -3 -1 -7.6 -1.6c-4.6 -0.5 -10.6 -1 -15.3 -1.6c-4.6 -0.5 -7.6 -1.1 -7.5 -1.6c0 -0.5 3.1 -1.1 7.8 -1.6c4.7 -0.5 10.9 -1.1 15.6 -1.6c4.7 -0.6 7.8 -1.1 7.8 -1.6c0.1 -0.6 -2.9 -1.1 -7.6 -1.6c-4.6 -0.6 -10.6 -1.1 -15.2 -1.6c-4.7 -0.6 -7.7 -1.1 -7.6 -1.7c0 -0.5 3.1 -1 7.8 -1.6c4.7 -0.5 10.9 -1 15.6 -1.6c4.7 -0.5 7.8 -1.1 7.8 -1.6c0.1 -0.5 -2.9 -1.1 -7.5 -1.6c-4.6 -0.5 -10.7 -1.1 -15.3 -1.6c-4.6 -0.6 -7.6 -1.1 -7.6 -1.6c0.1 -0.6 3.2 -1.1 7.9 -1.6c4.7 -0.6 10.8 -1.1 15.5 -1.7c4.7 -0.5 7.8 -1 7.9 -1.6c0 -0.5 -3 -1 -7.6 -1.6c-4.6 -0.5 -10.7 -1 -15.3 -1.6c-4.6 -0.5 -7.6 -1.1 -7.5 -1.6c0 -0.5 3.1 -1.1 7.8 -1.6c4.7 -0.5 10.9 -1.1 15.6 -1.6c4.7 -0.6 7.8 -1.1 7.8 -1.6c0.1 -0.6 -2.9 -1.1 -7.5 -1.6c-4.6 -0.6 -10.7 -1.1 -15.3 -1.6c-4.6 -0.6 -7.6 -1.1 -7.6 -1.7c0.1 -0.5 3.2 -1 7.9 -1.6c4.7 -0.5 10.8 -1 15.6 -1.6c4.7 -0.5 7.8 -1.1 7.8 -1.6c0.1 -0.5 -2.9 -1.1 -7.6 -1.6c-4.6 -0.5 -10.6 -1.1 -15.2 -1.6c-4.6 -0.5 -7.6 -1.1 -7.6 -1.6c0.1 -0.6 3.2 -1.1 7.9 -1.6c4.7 -0.6 10.8 -1.1 15.5 -1.6c4.7 -0.6 7.8 -1.1 7.9 -1.7c0 -0.5 -3 -1 -7.6 -1.6c-4.6 -0.5 -10.6 -1 -15.2 -1.6c-4.6 -0.5 -7.6 -1 -7.6 -1.6c0.1 -0.5 3.2 -1.1 7.9 -1.6c4.7 -0.5 10.8 -1.1 15.5 -1.6c4.7 -0.5 7.8 -1.1 7.9 -1.6c0 -0.6 -3 -1.1 -7.6 -1.6c-4.6 -0.6 -10.6 -1.1 -15.2 -1.6c-4.6 -0.6 -7.6 -1.1 -7.6 -1.6c0.1 -0.6 3.2 -1.1 7.9 -1.7c4.7 -0.5 10.8 -1 15.5 -1.6c4.8 -0.5 7.9 -1 7.9 -1.6c0.1 -0.5 -2.9 -1 -7.5 -1.6c-4.7 -0.5 -10.7 -1.1 -15.3 -1.6c-4.6 -0.5 -7.6 -1.1 -7.6 -1.6c0.1 -0.5 3.2 -1.1 7.9 -1.6c4.7 -0.6 10.9 -1.1 15.6 -1.6c4.7 -0.6 7.8 -1.1 7.8 -1.6c0.1 -0.6 -2.9 -1.1 -7.5 -1.6c-4.6 -0.6 -10.7 -1.1 -15.3 -1.7c-4.6 -0.5 -7.6 -1 -7.5 -1.6c0 -0.5 3.1 -1 7.8 -1.6c4.8 -0.5 10.9 -1 15.6 -1.6c4.7 -0.5 7.8 -1.1 7.9 -1.6c0 -0.5 -3 -1.1 -7.6 -1.6c-4.6 -0.5 -10.6 -1.1 -15.2 -1.6c-4.6 -0.5 -7.6 -1.1 -7.6 -1.6c0.1 -0.6 3.2 -1.1 7.9 -1.6c4.7 -0.6 10.9 -1.1 15.6 -1.6c4.7 -0.6 7.8 -1.1 7.9 -1.6c0 -0.6 -3 -1.1 -7.6 -1.7c-4.6 -0.5 -10.6 -1 -15.2 -1.6c-4.7 -0.5 -7.6 -1 -7.6 -1.6c0.1 -0.5 3.2 -1 7.9 -1.6c4.7 -0.5 10.8 -1.1 15.6 -1.6c4.7 -0.5 7.8 -1.1 7.8 -1.6c0.1 -0.5 -2.9 -1.1 -7.5 -1.6c-4.6 -0.5 -10.7 -1.1 -15.3 -1.6c-4.6 -0.6 -7.6 -1.1 -7.5 -1.6c0 -0.6 3.2 -1.1 7.9 -1.6c4.7 -0.6 10.8 -1.1 15.6 -1.6c4.7 -0.6 7.8 -1.1 7.8 -1.7c0.1 -0.5 -2.9 -1 -7.5 -1.6c-4.6 -0.5 -10.7 -1 -15.3 -1.6c-4.6 -0.5 -7.6 -1 -7.5 -1.6c0.1 -0.5 3.2 -1.1 7.9 -1.6c4.7 -0.5 10.8 -1.1 15.6 -1.6c4.7 -0.5 7.8 -1.1 7.8 -1.6c0.1 -0.5 -2.9 -1.1 -7.5 -1.6c-4.6 -0.5 -10.6 -1.1 -15.3 -1.6c-4.6 -0.6 -7.5 -1.1 -7.5 -1.6c0.1 -0.6 3.2 -1.1 7.9 -1.6c4.7 -0.6 10.9 -1.1 15.6 -1.6c4.7 -0.6 7.8 -1.1 7.9 -1.7c0 -0.5 -3 -1 -7.6 -1.6c-4.6 -0.5 -10.6 -1 -15.2 -1.6c-4.6 -0.5 -7.6 -1 -7.6 -1.6c0.1 -0.5 3.2 -1.1 7.9 -1.6c4.7 -0.5 10.9 -1.1 15.6 -1.6c4.7 -0.5 7.8 -1.1 7.9 -1.6c0.1 -0.5 -2.9 -1.1 -7.5 -1.6c-4.6 -0.5 -10.7 -1.1 -15.3 -1.6c-4.6 -0.6 -7.6 -1.1 -7.5 -1.6c0 -0.6 3.2 -1.1 7.9 -1.6c4.7 -0.6 10.8 -1.1 15.6 -1.6c4.7 -0.6 7.8 -1.1 7.9 -1.6c0 -0.6 -3 -1.1 -7.6 -1.7c-4.6 -0.5 -10.6 -1 -15.2 -1.6c-4.6 -0.5 -7.6 -1 -7.6 -1.6c0.1 -0.5 3.2 -1 7.9 -1.6c4.8 -0.5 10.9 -1.1 15.6 -1.6c4.8 -0.5 7.9 -1.1 7.9 -1.6c0.1 -0.5 -2.9 -1.1 -7.5 -1.6c-4.6 -0.5 -10.6 -1.1 -15.2 -1.6c-4.6 -0.5 -7.6 -1.1 -7.6 -1.6c0.1 -0.6 3.2 -1.1 7.9 -1.6c4.7 -0.6 10.9 -1.1 15.6 -1.6c4.7 -0.6 7.8 -1.1 7.9 -1.6c0.1 -0.6 -2.9 -1.1 -7.5 -1.6c-4.6 -0.6 -10.7 -1.1 -15.3 -1.6c-4.6 -0.6 -7.5 -1.1 -7.5 -1.7c0.1 -0.5 3.2 -1 7.9 -1.6c4.7 -0.5 10.9 -1 15.6 -1.6c4.7 -0.5 7.8 -1 7.9 -1.6c0.1 -0.5 -2.9 -1 -7.5 -1.6c-4.6 -0.5 -10.7 -1.1 -15.3 -1.6c-4.6 -0.5 -7.5 -1.1 -7.5 -1.6c0.1 -0.5 3.2 -1.1 7.9 -1.6c4.7 -0.5 10.9 -1.1 15.6 -1.6c4.7 -0.5 7.9 -1.1 7.9 -1.6c0.1 -0.6 -2.9 -1.1 -7.5 -1.6c-4.6 -0.6 -10.6 -1.1 -15.2 -1.6c-4.6 -0.6 -7.6 -1.1 -7.6 -1.6c0.1 -0.6 3.2 -1.1 7.9 -1.6c4.8 -0.6 10.9 -1.1 15.7 -1.6c4.7 -0.6 7.8 -1.1 7.8 -1.7c0.1 -0.5 -2.9 -1 -7.5 -1.6c-4.6 -0.5 -10.6 -1 -15.2 -1.6c-4.6 -0.5 -7.6 -1 -7.5 -1.6c0 -0.5 3.2 -1 7.9 -1.6c4.7 -0.5 10.9 -1 15.6 -1.6c4.7 -0.5 7.8 -1.1 7.9 -1.6c0.1 -0.5 -2.9 -1.1 -7.5 -1.6c-4.6 -0.5 -10.6 -1.1 -15.2 -1.6c-4.6 -0.5 -7.6 -1.1 -7.6 -1.6c0.1 -0.5 3.2 -1.1 7.9 -1.6c4.8 -0.5 10.9 -1.1 15.7 -1.6c4.7 -0.6 7.8 -1.1 7.9 -1.6c0 -0.6 -3 -1.1 -7.6 -1.6c-4.6 -0.6 -10.6 -1.1 -15.2 -1.6c-4.6 -0.6 -7.6 -1.1 -7.5 -1.6c0.1 -0.6 3.2 -1.1 7.9 -1.6c4.7 -0.6 10.9 -1.1 15.6 -1.7c4.8 -0.5 7.9 -1 7.9 -1.6c0.1 -0.5 -2.9 -1 -7.5 -1.6c-4.6 -0.5 -10.6 -1 -15.2 -1.6c-4.6 -0.5 -7.6 -1 -7.5 -1.6c0.1 -0.5 3.2 -1 7.9 -1.6c4.7 -0.5 10.9 -1 15.6 -1.6c4.7 -0.5 7.9 -1.1 7.9 -1.6c0.1 -0.5 -2.9 -1.1 -7.5 -1.6c-4.6 -0.5 -10.6 -1.1 -15.2 -1.6c-4.6 -0.5 -7.6 -1.1 -7.5 -1.6c0.1 -0.5 3.2 -1.1 7.9 -1.6c4.7 -0.5 10.9 -1.1 15.6 -1.6c4.7 -0.5 7.9 -1.1 7.9 -1.6c0 -0.1 0 -0.1 -0.1 -0.2" stroke="#00f" stroke-width="1.3"/>
<path d="M187.1 347.6c-1.2 -0.2 -2.7 -0.4 -4.4 -0.6c-4.7 -0.5 -10.7 -1.1 -15.3 -1.6c-4.7 -0.6 -7.7 -1.1 -7.6 -1.6c0 -0.6 3.1 -1.1 7.8 -1.6c4.7 -0.6 10.8 -1.1 15.5 -1.7c4.7 -0.5 7.8 -1 7.9 -1.6c0 -0.5 -3 -1 -7.6 -1.6c-4.6 -0.5 -10.7 -1.1 -15.3 -1.6c-4.6 -0.5 -7.6 -1.1 -7.6 -1.6c0.1 -0.5 3.1 -1.1 7.8 -1.6c4.8 -0.6 10.9 -1.1 15.6 -1.6c4.7 -0.6 7.8 -1.1 7.8 -1.6c0.1 -0.6 -2.9 -1.1 -7.6 -1.7c-4.6 -0.5 -10.6 -1 -15.2 -1.6c-4.7 -0.5 -7.7 -1 -7.6 -1.6c0 -0.5 3.1 -1.1 7.8 -1.6c4.7 -0.5 10.9 -1.1 15.6 -1.6c4.7 -0.5 7.7 -1.1 7.8 -1.6c0 -0.6 -3 -1.1 -7.6 -1.6c-4.6 -0.6 -10.7 -1.1 -15.3 -1.6c-4.6 -0.6 -7.6 -1.1 -7.6 -1.7c0.1 -0.5 3.2 -1 7.9 -1.6c4.7 -0.5 10.8 -1 15.5 -1.6c4.7 -0.5 7.8 -1 7.9 -1.6c0 -0.5 -3 -1.1 -7.6 -1.6c-4.6 -0.5 -10.7 -1.1 -15.3 -1.6c-4.6 -0.5 -7.6 -1.1 -7.6 -1.6c0.1 -0.6 3.2 -1.1 7.9 -1.6c4.7 -0.6 10.8 -1.1 15.5 -1.6c4.7 -0.6 7.8 -1.1 7.9 -1.7c0 -0.5 -3 -1 -7.6 -1.6c-4.6 -0.5 -10.7 -1 -15.3 -1.6c-4.6 -0.5 -7.6 -1.1 -7.6 -1.6c0.1 -0.5 3.2 -1.1 7.9 -1.6c4.7 -0.5 10.8 -1.1 15.5 -1.6c4.7 -0.6 7.8 -1.1 7.9 -1.6c0 -0.6 -3 -1.1 -7.6 -1.6c-4.6 -0.6 -10.7 -1.1 -15.3 -1.6c-4.6 -0.6 -7.6 -1.1 -7.5 -1.7c0 -0.5 3.1 -1 7.8 -1.6c4.7 -0.5 10.8 -1 15.6 -1.6c4.7 -0.5 7.8 -1.1 7.8 -1.6c0 -0.5 -3 -1.1 -7.6 -1.6c-4.6 -0.5 -10.6 -1.1 -15.2 -1.6c-4.7 -0.6 -7.7 -1.1 -7.6 -1.6c0 -0.6 3.1 -1.1 7.8 -1.6c4.7 -0.6 10.9 -1.1 15.6 -1.7c4.7 -0.5 7.8 -1 7.8 -1.6c0.1 -0.5 -2.9 -1 -7.5 -1.6c-4.6 -0.5 -10.7 -1 -15.3 -1.6c-4.6 -0.5 -7.6 -1.1 -7.6 -1.6c0.1 -0.5 3.2 -1.1 7.9 -1.6c4.7 -0.5 10.8 -1.1 15.5 -1.6c4.8 -0.6 7.9 -1.1 7.9 -1.6c0 -0.6 -3 -1.1 -7.6 -1.6c-4.6 -0.6 -10.6 -1.1 -15.2 -1.6c-4.6 -0.6 -7.6 -1.1 -7.6 -1.7c0 -0.5 3.1 -1 7.9 -1.6c4.7 -0.5 10.8 -1 15.5 -1.6c4.7 -0.5 7.8 -1.1 7.9 -1.6c0 -0.5 -3 -1.1 -7.6 -1.6c-4.6 -0.5 -10.6 -1.1 -15.3 -1.6c-4.6 -0.5 -7.6 -1.1 -7.5 -1.6c0 -0.6 3.1 -1.1 7.8 -1.6c4.7 -0.6 10.9 -1.1 15.6 -1.6c4.7 -0.6 7.8 -1.1 7.9 -1.7c0 -0.5 -3 -1 -7.6 -1.6c-4.6 -0.5 -10.7 -1 -15.3 -1.6c-4.6 -0.5 -7.6 -1 -7.5 -1.6c0 -0.5 3.1 -1.1 7.8 -1.6c4.7 -0.5 10.9 -1.1 15.6 -1.6c4.7 -0.5 7.8 -1.1 7.9 -1.6c0 -0.6 -3 -1.1 -7.6 -1.6c-4.6 -0.6 -10.7 -1.1 -15.3 -1.6c-4.6 -0.6 -7.6 -1.1 -7.5 -1.6c0 -0.6 3.1 -1.1 7.8 -1.7c4.8 -0.5 10.9 -1 15.6 -1.6c4.7 -0.5 7.8 -1 7.9 -1.6c0 -0.5 -3 -1 -7.6 -1.6c-4.6 -0.5 -10.6 -1.1 -15.2 -1.6c-4.6 -0.5 -7.6 -1.1 -7.6 -1.6c0.1 -0.5 3.2 -1.1 7.9 -1.6c4.7 -0.6 10.8 -1.1 15.5 -1.6c4.8 -0.6 7.9 -1.1 7.9 -1.6c0.1 -0.6 -2.9 -1.1 -7.5 -1.6c-4.6 -0.6 -10.7 -1.1 -15.3 -1.7c-4.6 -0.5 -7.6 -1 -7.6 -1.6c0.1 -0.5 3.2 -1 7.9 -1.6c4.7 -0.5 10.9 -1 15.6 -1.6c4.7 -0.5 7.8 -1.1 7.9 -1.6c0 -0.5 -3 -1.1 -7.6 -1.6c-4.6 -0.5 -10.6 -1.1 -15.2 -1.6c-4.7 -0.5 -7.6 -1.1 -7.6 -1.6c0.1 -0.6 3.2 -1.1 7.9 -1.6c4.7 -0.6 10.8 -1.1 15.6 -1.6c4.7 -0.6 7.8 -1.1 7.8 -1.6c0.1 -0.6 -2.9 -1.1 -7.5 -1.7c-4.6 -0.5 -10.7 -1 -15.3 -1.6c-4.6 -0.5 -7.6 -1 -7.5 -1.6c0 -0.5 3.1 -1 7.8 -1.6c4.8 -0.5 10.9 -1.1 15.6 -1.6c4.7 -0.5 7.8 -1.1 7.9 -1.6c0.1 -0.5 -2.9 -1.1 -7.5 -1.6c-4.7 -0.5 -10.7 -1.1 -15.3 -1.6c-4.6 -0.6 -7.6 -1.1 -7.5 -1.6c0 -0.6 3.1 -1.1 7.8 -1.6c4.7 -0.6 10.9 -1.1 15.6 -1.6c4.7 -0.6 7.8 -1.1 7.9 -1.7c0 -0.5 -2.9 -1 -7.5 -1.6c-4.7 -0.5 -10.7 -1 -15.3 -1.6c-4.6 -0.5 -7.6 -1 -7.5 -1.6c0 -0.5 3.1 -1.1 7.8 -1.6c4.8 -0.5 10.9 -1.1 15.6 -1.6c4.7 -0.5 7.8 -1.1 7.9 -1.6c0.1 -0.5 -2.9 -1.1 -7.5 -1.6c-4.6 -0.5 -10.7 -1.1 -15.3 -1.6c-4.6 -0.6 -7.6 -1.1 -7.5 -1.6c0 -0.6 3.1 -1.1 7.9 -1.6c4.7 -0.6 10.8 -1.1 15.5 -1.6c4.8 -0.6 7.9 -1.1 7.9 -1.7c0.1 -0.5 -2.9 -1 -7.5 -1.6c-4.6 -0.5 -10.7 -1 -15.3 -1.6c-4.6 -0.5 -7.5 -1 -7.5 -1.6c0.1 -0.5 3.2 -1.1 7.9 -1.6c4.7 -0.5 10.9 -1.1 15.6 -1.6c4.7 -0.5 7.8 -1.1 7.9 -1.6c0 -0.5 -3 -1.1 -7.6 -1.6c-4.6 -0.5 -10.6 -1.1 -15.2 -1.6c-4.6 -0.6 -7.6 -1.1 -7.5 -1.6c0 -0.6 3.1 -1.1 7.8 -1.6c4.8 -0.6 10.9 -1.1 15.6 -1.6c4.8 -0.6 7.9 -1.1 7.9 -1.6c0.1 -0.6 -2.9 -1.1 -7.5 -1.7c-4.6 -0.5 -10.7 -1 -15.3 -1.6c-4.6 -0.5 -7.5 -1 -7.5 -1.6c0.1 -0.5 3.2 -1 7.9 -1.6c4.7 -0.5 10.9 -1.1 15.6 -1.6c4.7 -0.5 7.8 -1.1 7.9 -1.6c0 -0.5 -2.9 -1.1 -7.5 -1.6c-4.6 -0.5 -10.7 -1.1 -15.3 -1.6c-4.6 -0.5 -7.6 -1.1 -7.5 -1.6c0.1 -0.6 3.2 -1.1 7.9 -1.6c4.7 -0.6 10.9 -1.1 15.6 -1.6c4.7 -0.6 7.8 -1.1 7.9 -1.6c0 -0.6 -3 -1.1 -7.6 -1.6c-4.6 -0.6 -10.6 -1.1 -15.2 -1.6c-4.6 -0.6 -7.6 -1.1 -7.5 -1.7c0 -0.5 3.2 -1 7.9 -1.6c4.7 -0.5 10.9 -1 15.6 -1.6c4.7 -0.5 7.8 -1 7.9 -1.6c0 -0.5 -3 -1 -7.6 -1.6c-4.6 -0.5 -10.6 -1.1 -15.2 -1.6c-4.6 -0.5 -7.6 -1.1 -7.5 -1.6c0.1 -0.5 3.2 -1.1 7.9 -1.6c4.7 -0.5 10.9 -1.1 15.6 -1.6c4.7 -0.5 7.8 -1.1 7.9 -1.6c0 -0.6 -2.9 -1.1 -7.5 -1.6c-4.6 -0.6 -10.7 -1.1 -15.3 -1.6c-4.6 -0.6 -7.5 -1.1 -7.5 -1.6c0.1 -0.6 3.2 -1.1 7.9 -1.6c4.7 -0.6 10.9 -1.1 15.6 -1.6c4.7 -0.6 7.9 -1.1 7.9 -1.7c0.1 -0.5 -2.9 -1 -7.5 -1.6c-4.6 -0.5 -10.6 -1 -15.2 -1.6c-4.6 -0.5 -7.6 -1 -7.5 -1.6c0 -0.5 3.1 -1 7.9 -1.6c4.7 -0.5 10.8 -1 15.6 -1.6c4.7 -0.5 7.8 -1.1 7.9 -1.6c0 -0.5 -3 -1.1 -7.6 -1.6c-4.6 -0.5 -10.6 -1.1 -15.2 -1.6c-4.6 -0.5 -7.6 -1.1 -7.5 -1.6c0.1 -0.5 3.2 -1.1 7.9 -1.6c4.7 -0.5 10.9 -1.1 15.6 -1.6c4.7 -0.6 7.9 -1.1 7.9 -1.6c0.1 -0.6 -2.9 -1.1 -7.5 -1.6c-4.6 -0.6 -10.6 -1.1 -15.2 -1.6c-4.6 -0.6 -7.6 -1.1 -7.5 -1.6c0 -0.6 3.2 -1.1 7.9 -1.6c4.7 -0.6 10.9 -1.1 15.6 -1.7c4.7 -0.5 7.8 -1 7.9 -1.6c0.1 -0.5 -2.9 -1 -7.5 -1.6c-4.6 -0.5 -10.6 -1 -15.2 -1.6c-4.6 -0.5 -7.6 -1 -7.5 -1.6c0 -0.5 3.1 -1 7.9 -1.6c4.7 -0.5 10.9 -1 15.6 -1.6c4.7 -0.5 7.8 -1.1 7.9 -1.6c0.1 -0.5 -2.9 -1.1 -7.5 -1.6c-4.6 -0.5 -10.6 -1.1 -15.2 -1.6c-4.6 -0.5 -7.6 -1.1 -7.5 -1.6c0 -0.5 3.1 -1.1 7.9 -1.6c4.7 -0.5 10.9 -1.1 15.6 -1.6c4.7 -0.5 7.8 -1.1 7.9 -1.6c0 -0.1 -0 -0.1 -0.1 -0.2" stroke="#00f" stroke-width="1.3"/>
<path d="M211.8 347.6c-1.2 -0.2 -2.7 -0.4 -4.5 -0.6c-4.6 -0.5 -10.7 -1.1 -15.3 -1.6c-4.6 -0.6 -7.6 -1.1 -7.6 -1.6c0.1 -0.6 3.2 -1.1 7.9 -1.6c4.7 -0.6 10.8 -1.1 15.5 -1.7c4.7 -0.5 7.8 -1 7.8 -1.6c0.1 -0.5 -2.9 -1 -7.5 -1.6c-4.7 -0.5 -10.7 -1.1 -15.3 -1.6c-4.7 -0.5 -7.7 -1.1 -7.6 -1.6c0 -0.5 3.1 -1.1 7.8 -1.6c4.7 -0.6 10.9 -1.1 15.6 -1.6c4.7 -0.6 7.8 -1.1 7.8 -1.6c0 -0.6 -3 -1.1 -7.6 -1.7c-4.6 -0.5 -10.7 -1 -15.3 -1.6c-4.6 -0.5 -7.6 -1 -7.6 -1.6c0.1 -0.5 3.2 -1.1 7.9 -1.6c4.7 -0.5 10.8 -1.1 15.5 -1.6c4.7 -0.5 7.8 -1.1 7.9 -1.6c0 -0.6 -3 -1.1 -7.6 -1.6c-4.6 -0.6 -10.7 -1.1 -15.3 -1.6c-4.6 -0.6 -7.6 -1.1 -7.6 -1.7c0.1 -0.5 3.1 -1 7.9 -1.6c4.7 -0.5 10.8 -1 15.5 -1.6c4.7 -0.5 7.8 -1 7.8 -1.6c0.1 -0.5 -2.9 -1.1 -7.5 -1.6c-4.7 -0.5 -10.7 -1.1 -15.3 -1.6c-4.6 -0.5 -7.6 -1.1 -7.6 -1.6c0 -0.6 3.1 -1.1 7.8 -1.6c4.7 -0.6 10.9 -1.1 15.6 -1.6c4.7 -0.6 7.8 -1.1 7.8 -1.7c0.1 -0.5 -2.9 -1 -7.5 -1.6c-4.7 -0.5 -10.7 -1 -15.3 -1.6c-4.6 -0.5 -7.6 -1.1 -7.6 -1.6c0 -0.5 3.1 -1.1 7.8 -1.6c4.8 -0.5 10.9 -1.1 15.6 -1.6c4.7 -0.6 7.8 -1.1 7.8 -1.6c0.1 -0.6 -2.9 -1.1 -7.5 -1.6c-4.6 -0.6 -10.7 -1.1 -15.3 -1.6c-4.6 -0.6 -7.6 -1.1 -7.6 -1.7c0.1 -0.5 3.2 -1 7.9 -1.6c4.7 -0.5 10.8 -1 15.5 -1.6c4.7 -0.5 7.8 -1.1 7.9 -1.6c0 -0.5 -3 -1.1 -7.6 -1.6c-4.6 -0.5 -10.7 -1.1 -15.3 -1.6c-4.6 -0.6 -7.6 -1.1 -7.5 -1.6c0 -0.6 3.1 -1.1 7.8 -1.6c4.7 -0.6 10.9 -1.1 15.6 -1.7c4.7 -0.5 7.8 -1 7.8 -1.6c0.1 -0.5 -2.9 -1 -7.6 -1.6c-4.6 -0.5 -10.6 -1 -15.2 -1.6c-4.6 -0.5 -7.6 -1.1 -7.6 -1.6c0.1 -0.5 3.1 -1.1 7.9 -1.6c4.7 -0.5 10.8 -1.1 15.5 -1.6c4.7 -0.6 7.8 -1.1 7.9 -1.6c0 -0.6 -3 -1.1 -7.6 -1.6c-4.6 -0.6 -10.7 -1.1 -15.3 -1.6c-4.6 -0.6 -7.6 -1.1 -7.5 -1.7c0 -0.5 3.1 -1 7.8 -1.6c4.7 -0.5 10.9 -1 15.6 -1.6c4.7 -0.5 7.8 -1.1 7.8 -1.6c0.1 -0.5 -2.9 -1.1 -7.5 -1.6c-4.6 -0.5 -10.7 -1.1 -15.3 -1.6c-4.6 -0.5 -7.6 -1.1 -7.6 -1.6c0.1 -0.6 3.2 -1.1 7.9 -1.6c4.7 -0.6 10.9 -1.1 15.6 -1.6c4.7 -0.6 7.8 -1.1 7.8 -1.7c0.1 -0.5 -2.9 -1 -7.5 -1.6c-4.6 -0.5 -10.7 -1 -15.3 -1.6c-4.6 -0.5 -7.6 -1 -7.6 -1.6c0.1 -0.5 3.2 -1.1 7.9 -1.6c4.7 -0.5 10.9 -1.1 15.6 -1.6c4.7 -0.5 7.8 -1.1 7.8 -1.6c0.1 -0.6 -2.9 -1.1 -7.5 -1.6c-4.6 -0.6 -10.7 -1.1 -15.3 -1.6c-4.6 -0.6 -7.6 -1.1 -7.5 -1.6c0 -0.6 3.1 -1.1 7.8 -1.7c4.7 -0.5 10.9 -1 15.6 -1.6c4.7 -0.5 7.8 -1 7.8 -1.6c0.1 -0.5 -2.9 -1 -7.5 -1.6c-4.6 -0.5 -10.7 -1.1 -15.3 -1.6c-4.6 -0.5 -7.6 -1.1 -7.5 -1.6c0 -0.5 3.1 -1.1 7.8 -1.6c4.8 -0.6 10.9 -1.1 15.6 -1.6c4.7 -0.6 7.8 -1.1 7.9 -1.6c0 -0.6 -3 -1.1 -7.6 -1.6c-4.6 -0.6 -10.6 -1.1 -15.2 -1.7c-4.6 -0.5 -7.6 -1 -7.6 -1.6c0.1 -0.5 3.2 -1 7.9 -1.6c4.7 -0.5 10.8 -1 15.6 -1.6c4.7 -0.5 7.8 -1.1 7.8 -1.6c0.1 -0.5 -2.9 -1.1 -7.5 -1.6c-4.6 -0.5 -10.7 -1.1 -15.3 -1.6c-4.6 -0.5 -7.6 -1.1 -7.5 -1.6c0 -0.6 3.1 -1.1 7.8 -1.6c4.8 -0.6 10.9 -1.1 15.6 -1.6c4.7 -0.6 7.8 -1.1 7.9 -1.6c0 -0.6 -3 -1.1 -7.6 -1.7c-4.6 -0.5 -10.6 -1 -15.2 -1.6c-4.6 -0.5 -7.6 -1 -7.6 -1.6c0.1 -0.5 3.2 -1 7.9 -1.6c4.7 -0.5 10.9 -1.1 15.6 -1.6c4.7 -0.5 7.8 -1.1 7.9 -1.6c0 -0.5 -3 -1.1 -7.6 -1.6c-4.6 -0.5 -10.6 -1.1 -15.2 -1.6c-4.6 -0.6 -7.6 -1.1 -7.6 -1.6c0.1 -0.6 3.2 -1.1 7.9 -1.6c4.7 -0.6 10.9 -1.1 15.6 -1.6c4.7 -0.6 7.8 -1.1 7.9 -1.7c0 -0.5 -3 -1 -7.6 -1.6c-4.6 -0.5 -10.6 -1 -15.2 -1.6c-4.6 -0.5 -7.6 -1 -7.6 -1.6c0.1 -0.5 3.2 -1.1 7.9 -1.6c4.7 -0.5 10.9 -1.1 15.6 -1.6c4.7 -0.5 7.8 -1.1 7.9 -1.6c0 -0.5 -3 -1.1 -7.6 -1.6c-4.6 -0.5 -10.6 -1.1 -15.2 -1.6c-4.6 -0.6 -7.6 -1.1 -7.6 -1.6c0.1 -0.6 3.2 -1.1 7.9 -1.6c4.7 -0.6 10.9 -1.1 15.6 -1.6c4.7 -0.6 7.8 -1.1 7.9 -1.7c0 -0.5 -2.9 -1 -7.5 -1.6c-4.6 -0.5 -10.7 -1 -15.3 -1.6c-4.6 -0.5 -7.6 -1 -7.5 -1.6c0 -0.5 3.1 -1.1 7.9 -1.6c4.7 -0.5 10.8 -1.1 15.5 -1.6c4.8 -0.5 7.9 -1.1 7.9 -1.6c0.1 -0.5 -2.9 -1.1 -7.5 -1.6c-4.6 -0.5 -10.6 -1.1 -15.2 -1.6c-4.6 -0.6 -7.6 -1.1 -7.6 -1.6c0.1 -0.6 3.2 -1.1 7.9 -1.6c4.7 -0.6 10.9 -1.1 15.6 -1.6c4.7 -0.6 7.8 -1.1 7.9 -1.6c0 -0.6 -2.9 -1.1 -7.5 -1.7c-4.6 -0.5 -10.7 -1 -15.3 -1.6c-4.6 -0.5 -7.6 -1 -7.5 -1.6c0 -0.5 3.1 -1 7.9 -1.6c4.7 -0.5 10.8 -1.1 15.6 -1.6c4.7 -0.5 7.8 -1.1 7.9 -1.6c0 -0.5 -3 -1.1 -7.6 -1.6c-4.6 -0.5 -10.6 -1.1 -15.2 -1.6c-4.6 -0.5 -7.6 -1.1 -7.5 -1.6c0 -0.6 3.1 -1.1 7.8 -1.6c4.8 -0.6 10.9 -1.1 15.6 -1.6c4.8 -0.6 7.9 -1.1 7.9 -1.6c0.1 -0.6 -2.9 -1.1 -7.5 -1.6c-4.6 -0.6 -10.6 -1.1 -15.2 -1.6c-4.6 -0.6 -7.6 -1.1 -7.5 -1.7c0 -0.5 3.1 -1 7.8 -1.6c4.8 -0.5 10.9 -1 15.6 -1.6c4.8 -0.5 7.9 -1 7.9 -1.6c0.1 -0.5 -2.9 -1 -7.5 -1.6c-4.6 -0.5 -10.6 -1.1 -15.2 -1.6c-4.6 -0.5 -7.6 -1.1 -7.5 -1.6c0 -0.5 3.1 -1.1 7.9 -1.6c4.7 -0.5 10.8 -1.1 15.6 -1.6c4.7 -0.5 7.8 -1.1 7.9 -1.6c0 -0.6 -3 -1.1 -7.6 -1.6c-4.6 -0.6 -10.6 -1.1 -15.2 -1.6c-4.6 -0.6 -7.6 -1.1 -7.5 -1.6c0 -0.6 3.2 -1.1 7.9 -1.6c4.7 -0.6 10.9 -1.1 15.6 -1.6c4.7 -0.6 7.8 -1.1 7.9 -1.7c0 -0.5 -2.9 -1 -7.5 -1.6c-4.6 -0.5 -10.7 -1 -15.3 -1.6c-4.6 -0.5 -7.5 -1 -7.5 -1.6c0.1 -0.5 3.2 -1 7.9 -1.6c4.7 -0.5 10.9 -1 15.6 -1.6c4.8 -0.5 7.9 -1.1 7.9 -1.6c0.1 -0.5 -2.9 -1.1 -7.5 -1.6c-4.6 -0.5 -10.6 -1.1 -15.2 -1.6c-4.6 -0.5 -7.6 -1.1 -7.5 -1.6c0 -0.5 3.1 -1.1 7.9 -1.6c4.7 -0.5 10.9 -1.1 15.6 -1.6c4.7 -0.6 7.8 -1.1 7.9 -1.6c0.1 -0.6 -2.9 -1.1 -7.5 -1.6c-4.6 -0.6 -10.7 -1.1 -15.2 -1.6c-4.6 -0.6 -7.6 -1.1 -7.6 -1.6c0.1 -0.6 3.2 -1.1 7.9 -1.6c4.8 -0.6 10.9 -1.1 15.7 -1.7c4.7 -0.5 7.8 -1 7.9 -1.6c0 -0.5 -3 -1 -7.5 -1.6c-4.6 -0.5 -10.7 -1 -15.3 -1.6c-4.6 -0.5 -7.5 -1 -7.5 -1.6c0.1 -0.5 3.2 -1 7.9 -1.6c4.8 -0.5 10.9 -1 15.6 -1.6c4.8 -0.5 7.9 -1.1 8 -1.6c0 -0.5 -3 -1.1 -7.6 -1.6c-4.5 -0.5 -10.6 -1.1 -15.2 -1.6c-4.6 -0.5 -7.5 -1.1 -7.5 -1.6c0.1 -0.5 3.2 -1.1 7.9 -1.6c4.8 -0.5 10.9 -1.1 15.6 -1.6c4.8 -0.5 7.9 -1.1 8 -1.6c-0 -0.1 -0.1 -0.1 -0.1 -0.2" stroke="#00f" stroke-width="1.3"/>
<path d="M236.5 347.6c-1.3 -0.2 -2.8 -0.4 -4.5 -0.6c-4.6 -0.5 -10.7 -1.1 -15.3 -1.6c-4.6 -0.6 -7.6 -1.1 -7.6 -1.6c0 -0.6 3.1 -1.1 7.8 -1.6c4.7 -0.6 10.9 -1.1 15.6 -1.7c4.7 -0.5 7.8 -1 7.8 -1.6c0.1 -0.5 -3 -1 -7.6 -1.6c-4.6 -0.5 -10.6 -1.1 -15.3 -1.6c-4.6 -0.5 -7.6 -1.1 -7.6 -1.6c0.1 -0.5 3.2 -1.1 7.9 -1.6c4.7 -0.6 10.8 -1.1 15.5 -1.6c4.7 -0.6 7.8 -1.1 7.9 -1.6c0 -0.6 -3 -1.1 -7.6 -1.7c-4.6 -0.5 -10.7 -1 -15.3 -1.6c-4.6 -0.5 -7.6 -1 -7.6 -1.6c0 -0.5 3.1 -1.1 7.8 -1.6c4.7 -0.5 10.9 -1.1 15.6 -1.6c4.7 -0.5 7.8 -1.1 7.8 -1.6c0.1 -0.6 -2.9 -1.1 -7.6 -1.6c-4.6 -0.6 -10.6 -1.1 -15.2 -1.6c-4.7 -0.6 -7.7 -1.1 -7.6 -1.7c0 -0.5 3.1 -1 7.8 -1.6c4.7 -0.5 10.9 -1 15.6 -1.6c4.7 -0.5 7.8 -1 7.8 -1.6c0 -0.5 -3 -1.1 -7.6 -1.6c-4.6 -0.5 -10.6 -1.1 -15.3 -1.6c-4.6 -0.5 -7.6 -1.1 -7.5 -1.6c0 -0.6 3.1 -1.1 7.8 -1.6c4.7 -0.6 10.9 -1.1 15.6 -1.6c4.7 -0.6 7.8 -1.1 7.8 -1.7c0 -0.5 -3 -1 -7.6 -1.6c-4.6 -0.5 -10.6 -1 -15.3 -1.6c-4.6 -0.5 -7.6 -1.1 -7.5 -1.6c0 -0.5 3.1 -1.1 7.8 -1.6c4.7 -0.5 10.9 -1.1 15.6 -1.6c4.7 -0.6 7.8 -1.1 7.8 -1.6c0.1 -0.6 -2.9 -1.1 -7.6 -1.6c-4.6 -0.6 -10.6 -1.1 -15.2 -1.6c-4.7 -0.6 -7.7 -1.1 -7.6 -1.7c0 -0.5 3.1 -1 7.8 -1.6c4.7 -0.5 10.9 -1 15.6 -1.6c4.7 -0.5 7.8 -1.1 7.8 -1.6c0.1 -0.5 -2.9 -1.1 -7.5 -1.6c-4.6 -0.5 -10.7 -1.1 -15.3 -1.6c-4.6 -0.6 -7.6 -1.1 -7.6 -1.6c0.1 -0.6 3.2 -1.1 7.9 -1.6c4.7 -0.6 10.8 -1.1 15.5 -1.7c4.7 -0.5 7.8 -1 7.9 -1.6c0 -0.5 -3 -1 -7.6 -1.6c-4.6 -0.5 -10.7 -1 -15.3 -1.6c-4.6 -0.5 -7.6 -1.1 -7.5 -1.6c0 -0.5 3.1 -1.1 7.8 -1.6c4.7 -0.5 10.9 -1.1 15.6 -1.6c4.7 -0.6 7.8 -1.1 7.8 -1.6c0.1 -0.6 -2.9 -1.1 -7.5 -1.6c-4.6 -0.6 -10.7 -1.1 -15.3 -1.6c-4.6 -0.6 -7.6 -1.1 -7.6 -1.7c0.1 -0.5 3.2 -1 7.9 -1.6c4.7 -0.5 10.8 -1 15.6 -1.6c4.7 -0.5 7.8 -1.1 7.8 -1.6c0.1 -0.5 -2.9 -1.1 -7.6 -1.6c-4.6 -0.5 -10.6 -1.1 -15.2 -1.6c-4.6 -0.5 -7.6 -1.1 -7.6 -1.6c0.1 -0.6 3.2 -1.1 7.9 -1.6c4.7 -0.6 10.8 -1.1 15.5 -1.6c4.7 -0.6 7.8 -1.1 7.9 -1.7c0 -0.5 -3 -1 -7.6 -1.6c-4.6 -0.5 -10.6 -1 -15.2 -1.6c-4.6 -0.5 -7.6 -1 -7.6 -1.6c0.1 -0.5 3.2 -1.1 7.9 -1.6c4.7 -0.5 10.8 -1.1 15.5 -1.6c4.7 -0.5 7.8 -1.1 7.9 -1.6c0 -0.6 -3 -1.1 -7.6 -1.6c-4.6 -0.6 -10.6 -1.1 -15.2 -1.6c-4.6 -0.6 -7.6 -1.1 -7.6 -1.6c0.1 -0.6 3.2 -1.1 7.9 -1.7c4.7 -0.5 10.8 -1 15.5 -1.6c4.8 -0.5 7.9 -1 7.9 -1.6c0.1 -0.5 -2.9 -1 -7.5 -1.6c-4.7 -0.5 -10.7 -1.1 -15.3 -1.6c-4.6 -0.5 -7.6 -1.1 -7.6 -1.6c0.1 -0.5 3.2 -1.1 7.9 -1.6c4.7 -0.6 10.9 -1.1 15.6 -1.6c4.7 -0.6 7.8 -1.1 7.8 -1.6c0.1 -0.6 -2.9 -1.1 -7.5 -1.6c-4.6 -0.6 -10.7 -1.1 -15.3 -1.7c-4.6 -0.5 -7.6 -1 -7.5 -1.6c0 -0.5 3.1 -1 7.8 -1.6c4.8 -0.5 10.9 -1 15.6 -1.6c4.7 -0.5 7.8 -1.1 7.9 -1.6c0 -0.5 -3 -1.1 -7.6 -1.6c-4.6 -0.5 -10.6 -1.1 -15.2 -1.6c-4.6 -0.5 -7.6 -1.1 -7.6 -1.6c0.1 -0.6 3.2 -1.1 7.9 -1.6c4.7 -0.6 10.9 -1.1 15.6 -1.6c4.7 -0.6 7.8 -1.1 7.9 -1.6c0 -0.6 -3 -1.1 -7.6 -1.7c-4.6 -0.5 -10.6 -1 -15.2 -1.6c-4.7 -0.5 -7.6 -1 -7.6 -1.6c0.1 -0.5 3.2 -1 7.9 -1.6c4.7 -0.5 10.8 -1.1 15.6 -1.6c4.7 -0.5 7.8 -1.1 7.8 -1.6c0.1 -0.5 -2.9 -1.1 -7.5 -1.6c-4.6 -0.5 -10.7 -1.1 -15.3 -1.6c-4.6 -0.6 -7.6 -1.1 -7.5 -1.6c0 -0.6 3.2 -1.1 7.9 -1.6c4.7 -0.6 10.8 -1.1 15.6 -1.6c4.7 -0.6 7.8 -1.1 7.8 -1.7c0.1 -0.5 -2.9 -1 -7.5 -1.6c-4.6 -0.5 -10.7 -1 -15.3 -1.6c-4.6 -0.5 -7.6 -1 -7.5 -1.6c0.1 -0.5 3.2 -1.1 7.9 -1.6c4.7 -0.5 10.8 -1.1 15.6 -1.6c4.7 -0.5 7.8 -1.1 7.8 -1.6c0.1 -0.5 -2.9 -1.1 -7.5 -1.6c-4.6 -0.5 -10.6 -1.1 -15.3 -1.6c-4.6 -0.6 -7.5 -1.1 -7.5 -1.6c0.1 -0.6 3.2 -1.1 7.9 -1.6c4.7 -0.6 10.9 -1.1 15.6 -1.6c4.7 -0.6 7.8 -1.1 7.9 -1.7c0 -0.5 -3 -1 -7.6 -1.6c-4.6 -0.5 -10.6 -1 -15.2 -1.6c-4.6 -0.5 -7.6 -1 -7.6 -1.6c0.1 -0.5 3.2 -1.1 7.9 -1.6c4.7 -0.5 10.9 -1.1 15.6 -1.6c4.7 -0.5 7.8 -1.1 7.9 -1.6c0.1 -0.5 -2.9 -1.1 -7.5 -1.6c-4.6 -0.5 -10.7 -1.1 -15.3 -1.6c-4.6 -0.6 -7.6 -1.1 -7.5 -1.6c0 -0.6 3.2 -1.1 7.9 -1.6c4.7 -0.6 10.8 -1.1 15.6 -1.6c4.7 -0.6 7.8 -1.1 7.9 -1.6c0 -0.6 -3 -1.1 -7.6 -1.7c-4.6 -0.5 -10.6 -1 -15.2 -1.6c-4.6 -0.5 -7.6 -1 -7.6 -1.6c0.1 -0.5 3.2 -1 7.9 -1.6c4.8 -0.5 10.9 -1.1 15.6 -1.6c4.8 -0.5 7.9 -1.1 7.9 -1.6c0.1 -0.5 -2.9 -1.1 -7.5 -1.6c-4.6 -0.5 -10.6 -1.1 -15.2 -1.6c-4.6 -0.5 -7.6 -1.1 -7.6 -1.6c0.1 -0.6 3.2 -1.1 7.9 -1.6c4.7 -0.6 10.9 -1.1 15.6 -1.6c4.7 -0.6 7.8 -1.1 7.9 -1.6c0.1 -0.6 -2.9 -1.1 -7.5 -1.6c-4.6 -0.6 -10.7 -1.1 -15.3 -1.6c-4.6 -0.6 -7.5 -1.1 -7.5 -1.7c0.1 -0.5 3.2 -1 7.9 -1.6c4.7 -0.5 10.9 -1 15.6 -1.6c4.7 -0.5 7.8 -1 7.9 -1.6c0.1 -0.5 -2.9 -1 -7.5 -1.6c-4.6 -0.5 -10.7 -1.1 -15.3 -1.6c-4.6 -0.5 -7.5 -1.1 -7.5 -1.6c0.1 -0.5 3.2 -1.1 7.9 -1.6c4.7 -0.5 10.9 -1.1 15.6 -1.6c4.7 -0.5 7.9 -1.1 7.9 -1.6c0.1 -0.6 -2.9 -1.1 -7.5 -1.6c-4.6 -0.6 -10.6 -1.1 -15.2 -1.6c-4.6 -0.6 -7.6 -1.1 -7.6 -1.6c0.1 -0.6 3.2 -1.1 7.9 -1.6c4.8 -0.6 10.9 -1.1 15.7 -1.6c4.7 -0.6 7.8 -1.1 7.8 -1.7c0.1 -0.5 -2.9 -1 -7.5 -1.6c-4.6 -0.5 -10.6 -1 -15.2 -1.6c-4.6 -0.5 -7.6 -1 -7.5 -1.6c0 -0.5 3.2 -1 7.9 -1.6c4.7 -0.5 10.9 -1 15.6 -1.6c4.7 -0.5 7.8 -1.1 7.9 -1.6c0.1 -0.5 -2.9 -1.1 -7.5 -1.6c-4.6 -0.5 -10.6 -1.1 -15.2 -1.6c-4.6 -0.5 -7.6 -1.1 -7.6 -1.6c0.1 -0.5 3.2 -1.1 7.9 -1.6c4.8 -0.5 10.9 -1.1 15.7 -1.6c4.7 -0.6 7.8 -1.1 7.9 -1.6c0 -0.6 -3 -1.1 -7.6 -1.6c-4.6 -0.6 -10.6 -1.1 -15.2 -1.6c-4.6 -0.6 -7.6 -1.1 -7.5 -1.6c0.1 -0.6 3.2 -1.1 7.9 -1.6c4.7 -0.6 10.9 -1.1 15.6 -1.7c4.8 -0.5 7.9 -1 7.9 -1.6c0.1 -0.5 -2.9 -1 -7.5 -1.6c-4.6 -0.5 -10.6 -1 -15.2 -1.6c-4.6 -0.5 -7.6 -1 -7.5 -1.6c0.1 -0.5 3.2 -1 7.9 -1.6c4.7 -0.5 10.9 -1 15.6 -1.6c4.7 -0.5 7.9 -1.1 7.9 -1.6c0.1 -0.5 -2.9 -1.1 -7.5 -1.6c-4.6 -0.5 -10.6 -1.1 -15.2 -1.6c-4.6 -0.5 -7.6 -1.1 -7.5 -1.6c0.1 -0.5 3.2 -1.1 7.9 -1.6c4.7 -0.5 10.9 -1.1 15.6 -1.6c4.7 -0.5 7.9 -1.1 7.9 -1.6c0 -0.1 0 -0.1 -0.1 -0.2" stroke="#00f" stroke-width="1.3"/>
</g></g>
<rect x="108.2" y="39.5" width="185" height="308.1" fill="none" stroke="#1a1a1a" stroke-width="1.5"/>
<path d="M108.2 347.6 v-3.4 M108.2 39.5 v3.4 M185.3 347.6 v-3.4 M185.3 39.5 v3.4 M262.4 347.6 v-3.4 M262.4 39.5 v3.4 M108.2 347.6 h3.4 M293.2 347.6 h-3.4 M108.2 270.6 h3.4 M293.2 270.6 h-3.4 M108.2 193.5 h3.4 M293.2 193.5 h-3.4 M108.2 116.5 h3.4 M293.2 116.5 h-3.4 M108.2 39.5 h3.4 M293.2 39.5 h-3.4" stroke="#1a1a1a" stroke-width="1.4" fill="none"/>
<g font-size="20">
<text x="108.2" y="374.1" text-anchor="middle">-4</text>
<text x="185.3" y="374.1" text-anchor="middle">-3.95</text>
<text x="262.4" y="374.1" text-anchor="middle">-3.9</text>
<text x="101.2" y="355.4" text-anchor="end">0.3</text>
<text x="101.2" y="278.4" text-anchor="end">0.35</text>
<text x="101.2" y="201.3" text-anchor="end">0.4</text>
<text x="101.2" y="124.3" text-anchor="end">0.45</text>
<text x="101.2" y="47.3" text-anchor="end">0.5</text>
<text x="190.7" y="400.5" font-size="22.0" text-anchor="middle"><tspan font-style="italic">x</tspan> (mm)</text>
<text transform="translate(60.6 189.2) rotate(-90)" font-size="22.0" text-anchor="middle"><tspan font-style="italic">y</tspan> (mm)</text>
</g>
<text x="37.5" y="20.3" font-size="25">(a)</text>
<text x="243.8" y="256.3" font-size="16.2">Tooth <tspan font-style="italic">i</tspan></text>
<text x="230.8" y="314.3" font-size="16.2">Tooth <tspan font-style="italic">i</tspan>+1</text>
<path d="M266.8 238.9 L254.4 219.5" stroke="#000" stroke-width="1.5" fill="none"/><polygon points="251,214.3 259.6,220.7 254.4,219.5 253.2,224.8" fill="#000"/>
<path d="M259.9 302.6 L236.6 277.1" stroke="#000" stroke-width="1.5" fill="none"/><polygon points="232.4,272.5 242,277.3 236.6,277.1 236.3,282.4" fill="#000"/>
<clipPath id="c1"><rect x="455.9" y="35.4" width="185.3" height="308.7"/></clipPath>
<g clip-path="url(#c1)" fill="none" stroke-linejoin="round"><g>
<g stroke="#333" stroke-width="0.8" stroke-dasharray="4.2 3.4"><path d="M484.7 344.1c1.3 -17.1 2.6 -34.3 4.1 -51.4c1.4 -17.2 2.9 -34.3 4.5 -51.5c1.5 -17.1 3.2 -34.3 4.9 -51.4c1.7 -17.2 3.5 -34.4 5.4 -51.5c1.9 -17.2 3.8 -34.3 5.8 -51.5c2 -17.1 4.1 -34.2 6.3 -51.4"/><path d="M497 344.1c1.3 -17.1 2.7 -34.3 4.1 -51.4c1.4 -17.2 2.9 -34.3 4.5 -51.5c1.6 -17.1 3.2 -34.3 5 -51.4c1.7 -17.2 3.5 -34.4 5.3 -51.5c1.9 -17.2 3.8 -34.3 5.9 -51.5c2 -17.1 4 -34.2 6.2 -51.4"/><path d="M509.3 344.1c1.3 -17.1 2.7 -34.3 4.1 -51.4c1.5 -17.2 3 -34.3 4.5 -51.5c1.6 -17.1 3.3 -34.3 5 -51.4c1.7 -17.2 3.5 -34.4 5.4 -51.5c1.8 -17.2 3.8 -34.3 5.8 -51.5c2 -17.1 4.1 -34.2 6.2 -51.4"/><path d="M521.7 344.1c1.3 -17.1 2.6 -34.3 4.1 -51.4c1.4 -17.2 2.9 -34.3 4.5 -51.5c1.5 -17.1 3.2 -34.3 4.9 -51.4c1.7 -17.2 3.5 -34.4 5.4 -51.5c1.9 -17.2 3.8 -34.3 5.8 -51.5c2 -17.1 4.1 -34.2 6.3 -51.4"/><path d="M534 344.1c1.3 -17.1 2.7 -34.3 4.1 -51.4c1.4 -17.2 2.9 -34.3 4.5 -51.5c1.6 -17.1 3.2 -34.3 4.9 -51.4c1.8 -17.2 3.6 -34.4 5.4 -51.5c1.9 -17.2 3.8 -34.3 5.8 -51.5c2.1 -17.1 4.1 -34.2 6.3 -51.4"/><path d="M546.3 344.1c1.3 -17.1 2.7 -34.3 4.1 -51.4c1.5 -17.2 3 -34.3 4.5 -51.5c1.6 -17.1 3.3 -34.3 5 -51.4c1.7 -17.2 3.5 -34.4 5.4 -51.5c1.8 -17.2 3.8 -34.3 5.8 -51.5c2 -17.1 4.1 -34.2 6.2 -51.4"/><path d="M558.7 344.1c1.3 -17.1 2.6 -34.3 4.1 -51.4c1.4 -17.2 2.9 -34.3 4.5 -51.5c1.5 -17.1 3.2 -34.3 4.9 -51.4c1.7 -17.2 3.5 -34.4 5.4 -51.5c1.9 -17.2 3.8 -34.3 5.8 -51.5c2 -17.1 4.1 -34.2 6.3 -51.4"/><path d="M571 344.1c1.3 -17.1 2.7 -34.3 4.1 -51.4c1.4 -17.2 2.9 -34.3 4.5 -51.5c1.6 -17.1 3.2 -34.3 4.9 -51.4c1.8 -17.2 3.6 -34.4 5.4 -51.5c1.9 -17.2 3.8 -34.3 5.8 -51.5c2.1 -17.1 4.1 -34.2 6.3 -51.4"/></g>
<path d="M485.9 344.1c-0.8 -0.9 -1.8 -1.9 -2.6 -2.8c-0.8 -1.1 -1.3 -2.2 -1.2 -3.3c0 -1 0.7 -2.1 1.7 -3.2c1.1 -1.1 2.4 -2.1 3.4 -3.2c1 -1.1 1.7 -2.2 1.8 -3.3c0 -1 -0.5 -2.1 -1.3 -3.2c-0.9 -1.1 -2 -2.1 -2.9 -3.2c-0.8 -1.1 -1.3 -2.2 -1.2 -3.3c0 -1 0.7 -2.1 1.8 -3.2c1 -1.1 2.3 -2.1 3.3 -3.2c1 -1.1 1.7 -2.2 1.8 -3.3c0.1 -1 -0.4 -2.1 -1.3 -3.2c-0.8 -1.1 -2 -2.1 -2.8 -3.2c-0.8 -1.1 -1.4 -2.2 -1.3 -3.2c0.1 -1.1 0.8 -2.2 1.8 -3.3c1.1 -1.1 2.4 -2.1 3.4 -3.2c1 -1.1 1.7 -2.2 1.8 -3.2c0.1 -1.1 -0.4 -2.2 -1.3 -3.3c-0.8 -1 -1.9 -2.1 -2.8 -3.2c-0.8 -1.1 -1.3 -2.2 -1.2 -3.2c0 -1.1 0.7 -2.2 1.8 -3.3c1 -1 2.3 -2.1 3.3 -3.2c1.1 -1.1 1.8 -2.1 1.9 -3.2c0.1 -1.1 -0.5 -2.2 -1.3 -3.3c-0.8 -1 -2 -2.1 -2.8 -3.2c-0.8 -1.1 -1.4 -2.1 -1.3 -3.2c0.1 -1.1 0.8 -2.2 1.9 -3.2c1 -1.1 2.3 -2.2 3.3 -3.3c1.1 -1 1.8 -2.1 1.9 -3.2c0.1 -1.1 -0.4 -2.2 -1.3 -3.2c-0.8 -1.1 -1.9 -2.2 -2.8 -3.3c-0.8 -1 -1.3 -2.1 -1.2 -3.2c0.1 -1.1 0.8 -2.1 1.8 -3.2c1.1 -1.1 2.4 -2.2 3.4 -3.2c1 -1.1 1.8 -2.2 1.9 -3.3c0.1 -1.1 -0.4 -2.1 -1.3 -3.2c-0.8 -1.1 -1.9 -2.2 -2.8 -3.2c-0.8 -1.1 -1.3 -2.2 -1.2 -3.3c0.1 -1 0.8 -2.1 1.9 -3.2c1 -1.1 2.3 -2.1 3.3 -3.2c1.1 -1.1 1.8 -2.2 1.9 -3.2c0.1 -1.1 -0.4 -2.2 -1.2 -3.3c-0.9 -1 -2 -2.1 -2.8 -3.2c-0.8 -1.1 -1.3 -2.1 -1.2 -3.2c0.1 -1.1 0.8 -2.2 1.8 -3.2c1.1 -1.1 2.4 -2.2 3.4 -3.3c1.1 -1.1 1.8 -2.1 1.9 -3.2c0.1 -1.1 -0.4 -2.2 -1.2 -3.2c-0.8 -1.1 -1.9 -2.2 -2.8 -3.3c-0.8 -1 -1.3 -2.1 -1.2 -3.2c0.1 -1.1 0.8 -2.1 1.9 -3.2c1 -1.1 2.4 -2.2 3.4 -3.2c1 -1.1 1.8 -2.2 1.9 -3.3c0.1 -1 -0.4 -2.1 -1.2 -3.2c-0.9 -1.1 -2 -2.1 -2.8 -3.2c-0.8 -1.1 -1.3 -2.2 -1.2 -3.2c0.1 -1.1 0.8 -2.2 1.9 -3.3c1 -1 2.4 -2.1 3.4 -3.2c1.1 -1.1 1.8 -2.1 1.9 -3.2c0.1 -1.1 -0.4 -2.2 -1.2 -3.2c-0.8 -1.1 -1.9 -2.2 -2.7 -3.3c-0.9 -1 -1.4 -2.1 -1.2 -3.2c0.1 -1.1 0.8 -2.1 1.9 -3.2c1 -1.1 2.3 -2.1 3.4 -3.2c1 -1.1 1.8 -2.2 1.9 -3.2c0.1 -1.1 -0.4 -2.2 -1.2 -3.3c-0.8 -1 -1.9 -2.1 -2.7 -3.2c-0.8 -1.1 -1.3 -2.1 -1.2 -3.2c0.1 -1.1 0.8 -2.2 1.9 -3.2c1 -1.1 2.4 -2.2 3.4 -3.3c1.1 -1 1.8 -2.1 1.9 -3.2c0.1 -1.1 -0.3 -2.1 -1.2 -3.2c-0.8 -1.1 -1.9 -2.2 -2.7 -3.2c-0.8 -1.1 -1.3 -2.2 -1.1 -3.2c0.1 -1.1 0.8 -2.2 1.9 -3.3c1 -1 2.4 -2.1 3.4 -3.2c1.1 -1.1 1.8 -2.1 1.9 -3.2c0.2 -1.1 -0.3 -2.2 -1.1 -3.2c-0.8 -1.1 -1.9 -2.2 -2.7 -3.3c-0.8 -1 -1.3 -2.1 -1.2 -3.2c0.1 -1 0.9 -2.1 1.9 -3.2c1.1 -1.1 2.4 -2.1 3.5 -3.2c1 -1.1 1.8 -2.2 1.9 -3.2c0.1 -1.1 -0.4 -2.2 -1.2 -3.3c-0.8 -1 -1.8 -2.1 -2.7 -3.2c-0.8 -1 -1.2 -2.1 -1.1 -3.2c0.1 -1.1 0.9 -2.1 1.9 -3.2c1.1 -1.1 2.4 -2.2 3.5 -3.2c1.1 -1.1 1.8 -2.2 1.9 -3.2c0.2 -1.1 -0.3 -2.2 -1.1 -3.3c-0.8 -1 -1.9 -2.1 -2.7 -3.2c-0.8 -1.1 -1.3 -2.1 -1.1 -3.2c0.1 -1.1 0.8 -2.1 1.9 -3.2c1.1 -1.1 2.4 -2.2 3.5 -3.2c1 -1.1 1.8 -2.2 1.9 -3.3c0.1 -0.8 -0.2 -1.7 -0.7 -2.6" stroke="#f00" stroke-width="1.4"/>
<path d="M510.5 344.1c-0.8 -0.9 -1.7 -1.9 -2.5 -2.8c-0.8 -1.1 -1.4 -2.2 -1.3 -3.3c0.1 -1 0.8 -2.1 1.8 -3.2c1 -1.1 2.3 -2.1 3.3 -3.2c1.1 -1.1 1.7 -2.2 1.8 -3.3c0.1 -1 -0.4 -2.1 -1.3 -3.2c-0.8 -1.1 -1.9 -2.1 -2.8 -3.2c-0.8 -1.1 -1.4 -2.2 -1.3 -3.3c0.1 -1 0.8 -2.1 1.8 -3.2c1 -1.1 2.3 -2.1 3.4 -3.2c1 -1.1 1.7 -2.2 1.8 -3.3c0.1 -1 -0.5 -2.1 -1.3 -3.2c-0.9 -1.1 -2 -2.1 -2.8 -3.2c-0.9 -1.1 -1.4 -2.2 -1.3 -3.2c0.1 -1.1 0.8 -2.2 1.8 -3.3c1 -1.1 2.3 -2.1 3.4 -3.2c1 -1.1 1.7 -2.2 1.8 -3.2c0.1 -1.1 -0.5 -2.2 -1.3 -3.3c-0.8 -1 -2 -2.1 -2.8 -3.2c-0.9 -1.1 -1.4 -2.2 -1.3 -3.2c0.1 -1.1 0.8 -2.2 1.8 -3.3c1.1 -1 2.4 -2.1 3.4 -3.2c1 -1.1 1.7 -2.1 1.8 -3.2c0.1 -1.1 -0.4 -2.2 -1.2 -3.3c-0.9 -1 -2 -2.1 -2.8 -3.2c-0.9 -1.1 -1.4 -2.1 -1.3 -3.2c0.1 -1.1 0.8 -2.2 1.8 -3.2c1.1 -1.1 2.4 -2.2 3.4 -3.3c1 -1 1.7 -2.1 1.8 -3.2c0.1 -1.1 -0.4 -2.2 -1.2 -3.2c-0.8 -1.1 -2 -2.2 -2.8 -3.3c-0.8 -1 -1.3 -2.1 -1.2 -3.2c0.1 -1.1 0.8 -2.1 1.8 -3.2c1 -1.1 2.4 -2.2 3.4 -3.2c1 -1.1 1.7 -2.2 1.8 -3.3c0.1 -1.1 -0.4 -2.1 -1.2 -3.2c-0.8 -1.1 -2 -2.2 -2.8 -3.2c-0.8 -1.1 -1.3 -2.2 -1.2 -3.3c0.1 -1 0.8 -2.1 1.8 -3.2c1.1 -1.1 2.4 -2.1 3.4 -3.2c1.1 -1.1 1.8 -2.2 1.9 -3.2c0.1 -1.1 -0.4 -2.2 -1.3 -3.3c-0.8 -1 -1.9 -2.1 -2.7 -3.2c-0.9 -1.1 -1.4 -2.1 -1.3 -3.2c0.2 -1.1 0.9 -2.2 1.9 -3.2c1 -1.1 2.4 -2.2 3.4 -3.3c1 -1.1 1.8 -2.1 1.9 -3.2c0.1 -1.1 -0.4 -2.2 -1.2 -3.2c-0.9 -1.1 -2 -2.2 -2.8 -3.3c-0.8 -1 -1.3 -2.1 -1.2 -3.2c0.1 -1.1 0.8 -2.1 1.8 -3.2c1.1 -1.1 2.4 -2.2 3.5 -3.2c1 -1.1 1.7 -2.2 1.8 -3.3c0.1 -1 -0.4 -2.1 -1.2 -3.2c-0.8 -1.1 -1.9 -2.1 -2.7 -3.2c-0.8 -1.1 -1.3 -2.2 -1.2 -3.2c0.1 -1.1 0.8 -2.2 1.9 -3.3c1 -1 2.3 -2.1 3.4 -3.2c1 -1.1 1.7 -2.1 1.9 -3.2c0.1 -1.1 -0.4 -2.2 -1.2 -3.2c-0.9 -1.1 -2 -2.2 -2.8 -3.3c-0.8 -1 -1.3 -2.1 -1.2 -3.2c0.1 -1.1 0.9 -2.1 1.9 -3.2c1.1 -1.1 2.4 -2.1 3.5 -3.2c1 -1.1 1.7 -2.2 1.8 -3.2c0.2 -1.1 -0.3 -2.2 -1.1 -3.3c-0.9 -1 -2 -2.1 -2.8 -3.2c-0.8 -1.1 -1.3 -2.1 -1.2 -3.2c0.2 -1.1 0.9 -2.2 1.9 -3.2c1.1 -1.1 2.4 -2.2 3.5 -3.3c1 -1 1.8 -2.1 1.9 -3.2c0.1 -1.1 -0.4 -2.1 -1.2 -3.2c-0.8 -1.1 -1.9 -2.2 -2.7 -3.2c-0.8 -1.1 -1.3 -2.2 -1.2 -3.2c0.1 -1.1 0.9 -2.2 1.9 -3.3c1.1 -1 2.4 -2.1 3.5 -3.2c1 -1.1 1.8 -2.1 1.9 -3.2c0.1 -1.1 -0.4 -2.2 -1.2 -3.2c-0.8 -1.1 -1.9 -2.2 -2.7 -3.3c-0.8 -1 -1.3 -2.1 -1.1 -3.2c0.1 -1 0.8 -2.1 1.9 -3.2c1 -1.1 2.4 -2.1 3.4 -3.2c1.1 -1.1 1.8 -2.2 2 -3.2c0.1 -1.1 -0.4 -2.2 -1.2 -3.3c-0.8 -1 -1.9 -2.1 -2.7 -3.2c-0.8 -1 -1.3 -2.1 -1.1 -3.2c0.1 -1.1 0.8 -2.1 1.9 -3.2c1.1 -1.1 2.4 -2.2 3.5 -3.2c1 -1.1 1.8 -2.2 1.9 -3.2c0.1 -1.1 -0.3 -2.2 -1.1 -3.3c-0.8 -1 -1.9 -2.1 -2.7 -3.2c-0.8 -1.1 -1.3 -2.1 -1.2 -3.2c0.2 -1.1 0.9 -2.1 2 -3.2c1 -1.1 2.4 -2.2 3.4 -3.2c1.1 -1.1 1.9 -2.2 2 -3.3c0.1 -0.8 -0.2 -1.7 -0.8 -2.6" stroke="#f00" stroke-width="1.4"/>
<path d="M535.2 344.1c-0.8 -0.9 -1.8 -1.9 -2.5 -2.8c-0.9 -1.1 -1.4 -2.2 -1.3 -3.3c0.1 -1 0.8 -2.1 1.8 -3.2c1 -1.1 2.3 -2.1 3.3 -3.2c1 -1.1 1.7 -2.2 1.8 -3.3c0.1 -1 -0.4 -2.1 -1.3 -3.2c-0.8 -1.1 -2 -2.1 -2.8 -3.2c-0.9 -1.1 -1.4 -2.2 -1.3 -3.3c0.1 -1 0.8 -2.1 1.8 -3.2c1 -1.1 2.3 -2.1 3.3 -3.2c1 -1.1 1.7 -2.2 1.8 -3.3c0.1 -1 -0.4 -2.1 -1.2 -3.2c-0.9 -1.1 -2 -2.1 -2.9 -3.2c-0.8 -1.1 -1.3 -2.2 -1.2 -3.2c0 -1.1 0.7 -2.2 1.8 -3.3c1 -1.1 2.3 -2.1 3.3 -3.2c1 -1.1 1.7 -2.2 1.8 -3.2c0.1 -1.1 -0.4 -2.2 -1.2 -3.3c-0.9 -1 -2 -2.1 -2.8 -3.2c-0.9 -1.1 -1.4 -2.2 -1.3 -3.2c0.1 -1.1 0.8 -2.2 1.8 -3.3c1 -1 2.3 -2.1 3.4 -3.2c1 -1.1 1.7 -2.1 1.8 -3.2c0.1 -1.1 -0.4 -2.2 -1.3 -3.3c-0.8 -1 -1.9 -2.1 -2.8 -3.2c-0.8 -1.1 -1.3 -2.1 -1.2 -3.2c0.1 -1.1 0.8 -2.2 1.8 -3.2c1 -1.1 2.3 -2.2 3.4 -3.3c1 -1 1.7 -2.1 1.8 -3.2c0.1 -1.1 -0.4 -2.2 -1.2 -3.2c-0.9 -1.1 -2 -2.2 -2.8 -3.3c-0.9 -1 -1.4 -2.1 -1.3 -3.2c0.1 -1.1 0.8 -2.1 1.9 -3.2c1 -1.1 2.3 -2.2 3.3 -3.2c1.1 -1.1 1.8 -2.2 1.9 -3.3c0.1 -1.1 -0.4 -2.1 -1.2 -3.2c-0.9 -1.1 -2 -2.2 -2.8 -3.2c-0.9 -1.1 -1.4 -2.2 -1.3 -3.3c0.1 -1 0.9 -2.1 1.9 -3.2c1 -1.1 2.3 -2.1 3.4 -3.2c1 -1.1 1.7 -2.2 1.8 -3.2c0.1 -1.1 -0.4 -2.2 -1.2 -3.3c-0.8 -1 -1.9 -2.1 -2.8 -3.2c-0.8 -1.1 -1.3 -2.1 -1.2 -3.2c0.1 -1.1 0.8 -2.2 1.9 -3.2c1 -1.1 2.3 -2.2 3.4 -3.3c1 -1.1 1.7 -2.1 1.8 -3.2c0.1 -1.1 -0.4 -2.2 -1.2 -3.2c-0.8 -1.1 -1.9 -2.2 -2.7 -3.3c-0.9 -1 -1.4 -2.1 -1.3 -3.2c0.2 -1.1 0.9 -2.1 1.9 -3.2c1.1 -1.1 2.4 -2.2 3.4 -3.2c1.1 -1.1 1.8 -2.2 1.9 -3.3c0.1 -1 -0.4 -2.1 -1.2 -3.2c-0.8 -1.1 -1.9 -2.1 -2.8 -3.2c-0.8 -1.1 -1.3 -2.2 -1.2 -3.2c0.2 -1.1 0.9 -2.2 1.9 -3.3c1.1 -1 2.4 -2.1 3.4 -3.2c1.1 -1.1 1.8 -2.1 1.9 -3.2c0.1 -1.1 -0.4 -2.2 -1.2 -3.2c-0.8 -1.1 -1.9 -2.2 -2.7 -3.3c-0.8 -1 -1.3 -2.1 -1.2 -3.2c0.1 -1.1 0.8 -2.1 1.9 -3.2c1 -1.1 2.4 -2.1 3.4 -3.2c1.1 -1.1 1.8 -2.2 1.9 -3.2c0.1 -1.1 -0.4 -2.2 -1.2 -3.3c-0.8 -1 -1.9 -2.1 -2.7 -3.2c-0.8 -1.1 -1.3 -2.1 -1.2 -3.2c0.1 -1.1 0.9 -2.2 1.9 -3.2c1.1 -1.1 2.4 -2.2 3.5 -3.3c1 -1 1.7 -2.1 1.9 -3.2c0.1 -1.1 -0.4 -2.1 -1.2 -3.2c-0.8 -1.1 -1.9 -2.2 -2.7 -3.2c-0.8 -1.1 -1.3 -2.2 -1.2 -3.2c0.1 -1.1 0.8 -2.2 1.9 -3.3c1.1 -1 2.4 -2.1 3.5 -3.2c1 -1.1 1.7 -2.1 1.9 -3.2c0.1 -1.1 -0.4 -2.2 -1.2 -3.2c-0.8 -1.1 -1.9 -2.2 -2.7 -3.3c-0.8 -1 -1.3 -2.1 -1.2 -3.2c0.2 -1 0.9 -2.1 1.9 -3.2c1.1 -1.1 2.5 -2.1 3.5 -3.2c1.1 -1.1 1.8 -2.2 1.9 -3.2c0.2 -1.1 -0.3 -2.2 -1.1 -3.3c-0.8 -1 -1.9 -2.1 -2.7 -3.2c-0.8 -1 -1.3 -2.1 -1.2 -3.2c0.2 -1.1 0.9 -2.1 2 -3.2c1 -1.1 2.4 -2.2 3.4 -3.2c1.1 -1.1 1.8 -2.2 2 -3.2c0.1 -1.1 -0.4 -2.2 -1.2 -3.3c-0.8 -1 -1.9 -2.1 -2.7 -3.2c-0.8 -1.1 -1.2 -2.1 -1.1 -3.2c0.1 -1.1 0.9 -2.1 1.9 -3.2c1.1 -1.1 2.4 -2.2 3.5 -3.2c1.1 -1.1 1.8 -2.2 2 -3.3c0.1 -0.8 -0.2 -1.7 -0.8 -2.6" stroke="#f00" stroke-width="1.4"/>
<path d="M559.8 344.1c-0.7 -0.9 -1.7 -1.9 -2.5 -2.8c-0.8 -1.1 -1.3 -2.2 -1.3 -3.3c0.1 -1 0.8 -2.1 1.8 -3.2c1.1 -1.1 2.4 -2.1 3.4 -3.2c1 -1.1 1.7 -2.2 1.8 -3.3c0 -1 -0.5 -2.1 -1.3 -3.2c-0.9 -1.1 -2 -2.1 -2.9 -3.2c-0.8 -1.1 -1.3 -2.2 -1.2 -3.3c0 -1 0.7 -2.1 1.8 -3.2c1 -1.1 2.3 -2.1 3.3 -3.2c1 -1.1 1.7 -2.2 1.8 -3.3c0.1 -1 -0.4 -2.1 -1.3 -3.2c-0.8 -1.1 -2 -2.1 -2.8 -3.2c-0.8 -1.1 -1.4 -2.2 -1.3 -3.2c0.1 -1.1 0.8 -2.2 1.8 -3.3c1.1 -1.1 2.4 -2.1 3.4 -3.2c1 -1.1 1.7 -2.2 1.8 -3.2c0.1 -1.1 -0.4 -2.2 -1.3 -3.3c-0.8 -1 -1.9 -2.1 -2.8 -3.2c-0.8 -1.1 -1.3 -2.2 -1.2 -3.2c0 -1.1 0.7 -2.2 1.8 -3.3c1 -1 2.3 -2.1 3.3 -3.2c1.1 -1.1 1.8 -2.1 1.9 -3.2c0 -1.1 -0.5 -2.2 -1.3 -3.3c-0.8 -1 -2 -2.1 -2.8 -3.2c-0.8 -1.1 -1.4 -2.1 -1.3 -3.2c0.1 -1.1 0.8 -2.2 1.9 -3.2c1 -1.1 2.3 -2.2 3.3 -3.3c1.1 -1 1.8 -2.1 1.9 -3.2c0.1 -1.1 -0.4 -2.2 -1.3 -3.2c-0.8 -1.1 -1.9 -2.2 -2.8 -3.3c-0.8 -1 -1.3 -2.1 -1.2 -3.2c0.1 -1.1 0.8 -2.1 1.8 -3.2c1.1 -1.1 2.4 -2.2 3.4 -3.2c1 -1.1 1.8 -2.2 1.9 -3.3c0.1 -1.1 -0.5 -2.1 -1.3 -3.2c-0.8 -1.1 -1.9 -2.2 -2.8 -3.2c-0.8 -1.1 -1.3 -2.2 -1.2 -3.3c0.1 -1 0.8 -2.1 1.9 -3.2c1 -1.1 2.3 -2.1 3.3 -3.2c1.1 -1.1 1.8 -2.2 1.9 -3.2c0.1 -1.1 -0.4 -2.2 -1.2 -3.3c-0.9 -1 -2 -2.1 -2.8 -3.2c-0.8 -1.1 -1.3 -2.1 -1.2 -3.2c0.1 -1.1 0.8 -2.2 1.8 -3.2c1.1 -1.1 2.4 -2.2 3.4 -3.3c1.1 -1.1 1.8 -2.1 1.9 -3.2c0.1 -1.1 -0.4 -2.2 -1.2 -3.2c-0.8 -1.1 -2 -2.2 -2.8 -3.3c-0.8 -1 -1.3 -2.1 -1.2 -3.2c0.1 -1.1 0.8 -2.1 1.9 -3.2c1 -1.1 2.4 -2.2 3.4 -3.2c1 -1.1 1.8 -2.2 1.9 -3.3c0.1 -1 -0.4 -2.1 -1.2 -3.2c-0.9 -1.1 -2 -2.1 -2.8 -3.2c-0.8 -1.1 -1.3 -2.2 -1.2 -3.2c0.1 -1.1 0.8 -2.2 1.9 -3.3c1 -1 2.4 -2.1 3.4 -3.2c1.1 -1.1 1.8 -2.1 1.9 -3.2c0.1 -1.1 -0.4 -2.2 -1.2 -3.2c-0.8 -1.1 -1.9 -2.2 -2.7 -3.3c-0.9 -1 -1.4 -2.1 -1.2 -3.2c0.1 -1.1 0.8 -2.1 1.9 -3.2c1 -1.1 2.3 -2.1 3.4 -3.2c1 -1.1 1.8 -2.2 1.9 -3.2c0.1 -1.1 -0.4 -2.2 -1.2 -3.3c-0.8 -1 -1.9 -2.1 -2.7 -3.2c-0.9 -1.1 -1.3 -2.1 -1.2 -3.2c0.1 -1.1 0.8 -2.2 1.9 -3.2c1 -1.1 2.4 -2.2 3.4 -3.3c1.1 -1 1.8 -2.1 1.9 -3.2c0.1 -1.1 -0.3 -2.1 -1.2 -3.2c-0.8 -1.1 -1.9 -2.2 -2.7 -3.2c-0.8 -1.1 -1.3 -2.2 -1.1 -3.2c0.1 -1.1 0.8 -2.2 1.9 -3.3c1 -1 2.4 -2.1 3.4 -3.2c1.1 -1.1 1.8 -2.1 1.9 -3.2c0.2 -1.1 -0.3 -2.2 -1.1 -3.2c-0.8 -1.1 -1.9 -2.2 -2.7 -3.3c-0.9 -1 -1.3 -2.1 -1.2 -3.2c0.1 -1 0.9 -2.1 1.9 -3.2c1.1 -1.1 2.4 -2.1 3.5 -3.2c1 -1.1 1.8 -2.2 1.9 -3.2c0.1 -1.1 -0.4 -2.2 -1.2 -3.3c-0.8 -1 -1.9 -2.1 -2.7 -3.2c-0.8 -1 -1.2 -2.1 -1.1 -3.2c0.1 -1.1 0.9 -2.1 1.9 -3.2c1.1 -1.1 2.4 -2.2 3.5 -3.2c1.1 -1.1 1.8 -2.2 1.9 -3.2c0.2 -1.1 -0.3 -2.2 -1.1 -3.3c-0.8 -1 -1.9 -2.1 -2.7 -3.2c-0.8 -1.1 -1.3 -2.1 -1.1 -3.2c0.1 -1.1 0.8 -2.1 1.9 -3.2c1.1 -1.1 2.4 -2.2 3.5 -3.2c1 -1.1 1.8 -2.2 1.9 -3.3c0.1 -0.8 -0.2 -1.7 -0.7 -2.6" stroke="#f00" stroke-width="1.4"/>
<path d="M498.2 344.1c-0.8 -0.9 -1.8 -1.9 -2.5 -2.8c-0.9 -1.1 -1.4 -2.2 -1.3 -3.3c0.1 -1 0.8 -2.1 1.8 -3.2c1 -1.1 2.3 -2.1 3.3 -3.2c1 -1.1 1.7 -2.2 1.8 -3.3c0.1 -1 -0.4 -2.1 -1.3 -3.2c-0.8 -1.1 -2 -2.1 -2.8 -3.2c-0.9 -1.1 -1.4 -2.2 -1.3 -3.3c0.1 -1 0.8 -2.1 1.8 -3.2c1 -1.1 2.3 -2.1 3.3 -3.2c1 -1.1 1.7 -2.2 1.8 -3.3c0.1 -1 -0.4 -2.1 -1.2 -3.2c-0.9 -1.1 -2 -2.1 -2.9 -3.2c-0.8 -1.1 -1.3 -2.2 -1.2 -3.2c0 -1.1 0.7 -2.2 1.8 -3.3c1 -1.1 2.3 -2.1 3.3 -3.2c1 -1.1 1.7 -2.2 1.8 -3.2c0.1 -1.1 -0.4 -2.2 -1.2 -3.3c-0.9 -1 -2 -2.1 -2.8 -3.2c-0.9 -1.1 -1.4 -2.2 -1.3 -3.2c0.1 -1.1 0.8 -2.2 1.8 -3.3c1 -1 2.3 -2.1 3.4 -3.2c1 -1.1 1.7 -2.1 1.8 -3.2c0.1 -1.1 -0.4 -2.2 -1.3 -3.3c-0.8 -1 -1.9 -2.1 -2.8 -3.2c-0.8 -1.1 -1.3 -2.1 -1.2 -3.2c0.1 -1.1 0.8 -2.2 1.8 -3.2c1 -1.1 2.3 -2.2 3.4 -3.3c1 -1 1.7 -2.1 1.8 -3.2c0.1 -1.1 -0.4 -2.2 -1.2 -3.2c-0.9 -1.1 -2 -2.2 -2.8 -3.3c-0.9 -1 -1.4 -2.1 -1.3 -3.2c0.1 -1.1 0.8 -2.1 1.9 -3.2c1 -1.1 2.3 -2.2 3.3 -3.2c1.1 -1.1 1.8 -2.2 1.9 -3.3c0.1 -1.1 -0.4 -2.1 -1.2 -3.2c-0.9 -1.1 -2 -2.2 -2.8 -3.2c-0.9 -1.1 -1.4 -2.2 -1.3 -3.3c0.1 -1 0.9 -2.1 1.9 -3.2c1 -1.1 2.3 -2.1 3.4 -3.2c1 -1.1 1.7 -2.2 1.8 -3.2c0.1 -1.1 -0.4 -2.2 -1.2 -3.3c-0.8 -1 -1.9 -2.1 -2.8 -3.2c-0.8 -1.1 -1.3 -2.1 -1.2 -3.2c0.1 -1.1 0.8 -2.2 1.9 -3.2c1 -1.1 2.3 -2.2 3.4 -3.3c1 -1.1 1.7 -2.1 1.8 -3.2c0.1 -1.1 -0.4 -2.2 -1.2 -3.2c-0.8 -1.1 -1.9 -2.2 -2.7 -3.3c-0.9 -1 -1.4 -2.1 -1.3 -3.2c0.2 -1.1 0.9 -2.1 1.9 -3.2c1.1 -1.1 2.4 -2.2 3.4 -3.2c1.1 -1.1 1.8 -2.2 1.9 -3.3c0.1 -1 -0.4 -2.1 -1.2 -3.2c-0.8 -1.1 -1.9 -2.1 -2.8 -3.2c-0.8 -1.1 -1.3 -2.2 -1.2 -3.2c0.2 -1.1 0.9 -2.2 1.9 -3.3c1.1 -1 2.4 -2.1 3.4 -3.2c1.1 -1.1 1.8 -2.1 1.9 -3.2c0.1 -1.1 -0.4 -2.2 -1.2 -3.2c-0.8 -1.1 -1.9 -2.2 -2.7 -3.3c-0.8 -1 -1.3 -2.1 -1.2 -3.2c0.1 -1.1 0.8 -2.1 1.9 -3.2c1 -1.1 2.4 -2.1 3.4 -3.2c1.1 -1.1 1.8 -2.2 1.9 -3.2c0.1 -1.1 -0.4 -2.2 -1.2 -3.3c-0.8 -1 -1.9 -2.1 -2.7 -3.2c-0.8 -1.1 -1.3 -2.1 -1.2 -3.2c0.1 -1.1 0.9 -2.2 1.9 -3.2c1.1 -1.1 2.4 -2.2 3.5 -3.3c1 -1 1.7 -2.1 1.9 -3.2c0.1 -1.1 -0.4 -2.1 -1.2 -3.2c-0.8 -1.1 -1.9 -2.2 -2.7 -3.2c-0.8 -1.1 -1.3 -2.2 -1.2 -3.2c0.1 -1.1 0.8 -2.2 1.9 -3.3c1.1 -1 2.4 -2.1 3.5 -3.2c1 -1.1 1.7 -2.1 1.9 -3.2c0.1 -1.1 -0.4 -2.2 -1.2 -3.2c-0.8 -1.1 -1.9 -2.2 -2.7 -3.3c-0.8 -1 -1.3 -2.1 -1.2 -3.2c0.2 -1 0.9 -2.1 1.9 -3.2c1.1 -1.1 2.5 -2.1 3.5 -3.2c1.1 -1.1 1.8 -2.2 1.9 -3.2c0.2 -1.1 -0.3 -2.2 -1.1 -3.3c-0.8 -1 -1.9 -2.1 -2.7 -3.2c-0.8 -1 -1.3 -2.1 -1.2 -3.2c0.2 -1.1 0.9 -2.1 2 -3.2c1 -1.1 2.4 -2.2 3.4 -3.2c1.1 -1.1 1.8 -2.2 2 -3.2c0.1 -1.1 -0.4 -2.2 -1.2 -3.3c-0.8 -1 -1.9 -2.1 -2.7 -3.2c-0.8 -1.1 -1.2 -2.1 -1.1 -3.2c0.1 -1.1 0.9 -2.1 1.9 -3.2c1.1 -1.1 2.4 -2.2 3.5 -3.2c1.1 -1.1 1.8 -2.2 2 -3.3c0.1 -0.8 -0.2 -1.7 -0.8 -2.6" stroke="#00f" stroke-width="1.4"/>
<path d="M522.9 344.1c-0.8 -0.9 -1.8 -1.9 -2.6 -2.8c-0.8 -1.1 -1.3 -2.2 -1.3 -3.3c0.1 -1 0.8 -2.1 1.8 -3.2c1.1 -1.1 2.4 -2.1 3.4 -3.2c1 -1.1 1.7 -2.2 1.8 -3.3c0 -1 -0.5 -2.1 -1.3 -3.2c-0.9 -1.1 -2 -2.1 -2.9 -3.2c-0.8 -1.1 -1.3 -2.2 -1.2 -3.3c0 -1 0.7 -2.1 1.8 -3.2c1 -1.1 2.3 -2.1 3.3 -3.2c1 -1.1 1.7 -2.2 1.8 -3.3c0.1 -1 -0.4 -2.1 -1.3 -3.2c-0.8 -1.1 -2 -2.1 -2.8 -3.2c-0.8 -1.1 -1.4 -2.2 -1.3 -3.2c0.1 -1.1 0.8 -2.2 1.8 -3.3c1.1 -1.1 2.4 -2.1 3.4 -3.2c1 -1.1 1.7 -2.2 1.8 -3.2c0.1 -1.1 -0.4 -2.2 -1.3 -3.3c-0.8 -1 -1.9 -2.1 -2.8 -3.2c-0.8 -1.1 -1.3 -2.2 -1.2 -3.2c0 -1.1 0.7 -2.2 1.8 -3.3c1 -1 2.3 -2.1 3.3 -3.2c1.1 -1.1 1.8 -2.1 1.9 -3.2c0 -1.1 -0.5 -2.2 -1.3 -3.3c-0.8 -1 -2 -2.1 -2.8 -3.2c-0.8 -1.1 -1.4 -2.1 -1.3 -3.2c0.1 -1.1 0.8 -2.2 1.9 -3.2c1 -1.1 2.3 -2.2 3.3 -3.3c1.1 -1 1.8 -2.1 1.9 -3.2c0.1 -1.1 -0.4 -2.2 -1.3 -3.2c-0.8 -1.1 -1.9 -2.2 -2.8 -3.3c-0.8 -1 -1.3 -2.1 -1.2 -3.2c0.1 -1.1 0.8 -2.1 1.8 -3.2c1.1 -1.1 2.4 -2.2 3.4 -3.2c1 -1.1 1.8 -2.2 1.9 -3.3c0.1 -1.1 -0.5 -2.1 -1.3 -3.2c-0.8 -1.1 -1.9 -2.2 -2.8 -3.2c-0.8 -1.1 -1.3 -2.2 -1.2 -3.3c0.1 -1 0.8 -2.1 1.9 -3.2c1 -1.1 2.3 -2.1 3.3 -3.2c1.1 -1.1 1.8 -2.2 1.9 -3.2c0.1 -1.1 -0.4 -2.2 -1.2 -3.3c-0.9 -1 -2 -2.1 -2.8 -3.2c-0.8 -1.1 -1.3 -2.1 -1.2 -3.2c0.1 -1.1 0.8 -2.2 1.8 -3.2c1.1 -1.1 2.4 -2.2 3.4 -3.3c1.1 -1.1 1.8 -2.1 1.9 -3.2c0.1 -1.1 -0.4 -2.2 -1.2 -3.2c-0.8 -1.1 -1.9 -2.2 -2.8 -3.3c-0.8 -1 -1.3 -2.1 -1.2 -3.2c0.1 -1.1 0.8 -2.1 1.9 -3.2c1 -1.1 2.4 -2.2 3.4 -3.2c1 -1.1 1.8 -2.2 1.9 -3.3c0.1 -1 -0.4 -2.1 -1.2 -3.2c-0.9 -1.1 -2 -2.1 -2.8 -3.2c-0.8 -1.1 -1.3 -2.2 -1.2 -3.2c0.1 -1.1 0.8 -2.2 1.9 -3.3c1 -1 2.4 -2.1 3.4 -3.2c1.1 -1.1 1.8 -2.1 1.9 -3.2c0.1 -1.1 -0.4 -2.2 -1.2 -3.2c-0.8 -1.1 -1.9 -2.2 -2.7 -3.3c-0.9 -1 -1.4 -2.1 -1.2 -3.2c0.1 -1.1 0.8 -2.1 1.9 -3.2c1 -1.1 2.3 -2.1 3.4 -3.2c1 -1.1 1.8 -2.2 1.9 -3.2c0.1 -1.1 -0.4 -2.2 -1.2 -3.3c-0.8 -1 -1.9 -2.1 -2.7 -3.2c-0.9 -1.1 -1.3 -2.1 -1.2 -3.2c0.1 -1.1 0.8 -2.2 1.9 -3.2c1 -1.1 2.4 -2.2 3.4 -3.3c1.1 -1 1.8 -2.1 1.9 -3.2c0.1 -1.1 -0.3 -2.1 -1.2 -3.2c-0.8 -1.1 -1.9 -2.2 -2.7 -3.2c-0.8 -1.1 -1.3 -2.2 -1.1 -3.2c0.1 -1.1 0.8 -2.2 1.9 -3.3c1 -1 2.4 -2.1 3.4 -3.2c1.1 -1.1 1.8 -2.1 1.9 -3.2c0.2 -1.1 -0.3 -2.2 -1.1 -3.2c-0.8 -1.1 -1.9 -2.2 -2.7 -3.3c-0.8 -1 -1.3 -2.1 -1.2 -3.2c0.1 -1 0.9 -2.1 1.9 -3.2c1.1 -1.1 2.4 -2.1 3.5 -3.2c1 -1.1 1.8 -2.2 1.9 -3.2c0.1 -1.1 -0.4 -2.2 -1.2 -3.3c-0.8 -1 -1.8 -2.1 -2.7 -3.2c-0.8 -1 -1.2 -2.1 -1.1 -3.2c0.1 -1.1 0.9 -2.1 1.9 -3.2c1.1 -1.1 2.4 -2.2 3.5 -3.2c1.1 -1.1 1.8 -2.2 1.9 -3.2c0.2 -1.1 -0.3 -2.2 -1.1 -3.3c-0.8 -1 -1.9 -2.1 -2.7 -3.2c-0.8 -1.1 -1.3 -2.1 -1.1 -3.2c0.1 -1.1 0.8 -2.1 1.9 -3.2c1.1 -1.1 2.4 -2.2 3.5 -3.2c1 -1.1 1.8 -2.2 1.9 -3.3c0.1 -0.8 -0.2 -1.7 -0.7 -2.6" stroke="#00f" stroke-width="1.4"/>
<path d="M547.5 344.1c-0.8 -0.9 -1.7 -1.9 -2.5 -2.8c-0.8 -1.1 -1.4 -2.2 -1.3 -3.3c0.1 -1 0.8 -2.1 1.8 -3.2c1 -1.1 2.3 -2.1 3.3 -3.2c1 -1.1 1.7 -2.2 1.8 -3.3c0.1 -1 -0.4 -2.1 -1.3 -3.2c-0.8 -1.1 -1.9 -2.1 -2.8 -3.2c-0.8 -1.1 -1.4 -2.2 -1.3 -3.3c0.1 -1 0.8 -2.1 1.8 -3.2c1 -1.1 2.3 -2.1 3.4 -3.2c1 -1.1 1.7 -2.2 1.8 -3.3c0.1 -1 -0.5 -2.1 -1.3 -3.2c-0.9 -1.1 -2 -2.1 -2.8 -3.2c-0.9 -1.1 -1.4 -2.2 -1.3 -3.2c0.1 -1.1 0.8 -2.2 1.8 -3.3c1 -1.1 2.3 -2.1 3.3 -3.2c1.1 -1.1 1.8 -2.2 1.9 -3.2c0.1 -1.1 -0.5 -2.2 -1.3 -3.3c-0.8 -1 -2 -2.1 -2.8 -3.2c-0.9 -1.1 -1.4 -2.2 -1.3 -3.2c0.1 -1.1 0.8 -2.2 1.8 -3.3c1.1 -1 2.4 -2.1 3.4 -3.2c1 -1.1 1.7 -2.1 1.8 -3.2c0.1 -1.1 -0.4 -2.2 -1.2 -3.3c-0.9 -1 -2 -2.1 -2.8 -3.2c-0.9 -1.1 -1.4 -2.1 -1.3 -3.2c0.1 -1.1 0.8 -2.2 1.8 -3.2c1.1 -1.1 2.4 -2.2 3.4 -3.3c1 -1 1.7 -2.1 1.8 -3.2c0.1 -1.1 -0.4 -2.2 -1.2 -3.2c-0.8 -1.1 -2 -2.2 -2.8 -3.3c-0.8 -1 -1.3 -2.1 -1.2 -3.2c0.1 -1.1 0.8 -2.1 1.8 -3.2c1 -1.1 2.3 -2.2 3.4 -3.2c1 -1.1 1.7 -2.2 1.8 -3.3c0.1 -1.1 -0.4 -2.1 -1.2 -3.2c-0.8 -1.1 -2 -2.2 -2.8 -3.2c-0.8 -1.1 -1.3 -2.2 -1.2 -3.3c0.1 -1 0.8 -2.1 1.8 -3.2c1.1 -1.1 2.4 -2.1 3.4 -3.2c1 -1.1 1.8 -2.2 1.9 -3.2c0.1 -1.1 -0.4 -2.2 -1.3 -3.3c-0.8 -1 -1.9 -2.1 -2.7 -3.2c-0.9 -1.1 -1.4 -2.1 -1.3 -3.2c0.1 -1.1 0.9 -2.2 1.9 -3.2c1 -1.1 2.4 -2.2 3.4 -3.3c1 -1.1 1.8 -2.1 1.9 -3.2c0.1 -1.1 -0.4 -2.2 -1.2 -3.2c-0.9 -1.1 -2 -2.2 -2.8 -3.3c-0.8 -1 -1.3 -2.1 -1.2 -3.2c0.1 -1.1 0.8 -2.1 1.8 -3.2c1.1 -1.1 2.4 -2.2 3.5 -3.2c1 -1.1 1.7 -2.2 1.8 -3.3c0.1 -1 -0.4 -2.1 -1.2 -3.2c-0.8 -1.1 -1.9 -2.1 -2.7 -3.2c-0.8 -1.1 -1.3 -2.2 -1.2 -3.2c0.1 -1.1 0.8 -2.2 1.9 -3.3c1 -1 2.3 -2.1 3.4 -3.2c1 -1.1 1.7 -2.1 1.9 -3.2c0.1 -1.1 -0.4 -2.2 -1.2 -3.2c-0.9 -1.1 -2 -2.2 -2.8 -3.3c-0.8 -1 -1.3 -2.1 -1.2 -3.2c0.1 -1.1 0.9 -2.1 1.9 -3.2c1.1 -1.1 2.4 -2.1 3.5 -3.2c1 -1.1 1.7 -2.2 1.8 -3.2c0.2 -1.1 -0.3 -2.2 -1.1 -3.3c-0.9 -1 -2 -2.1 -2.8 -3.2c-0.8 -1.1 -1.3 -2.1 -1.2 -3.2c0.2 -1.1 0.9 -2.2 1.9 -3.2c1.1 -1.1 2.4 -2.2 3.5 -3.3c1 -1 1.8 -2.1 1.9 -3.2c0.1 -1.1 -0.4 -2.1 -1.2 -3.2c-0.8 -1.1 -1.9 -2.2 -2.7 -3.2c-0.8 -1.1 -1.3 -2.2 -1.2 -3.2c0.1 -1.1 0.9 -2.2 1.9 -3.3c1.1 -1 2.4 -2.1 3.5 -3.2c1 -1.1 1.8 -2.1 1.9 -3.2c0.1 -1.1 -0.4 -2.2 -1.2 -3.2c-0.8 -1.1 -1.9 -2.2 -2.7 -3.3c-0.8 -1 -1.3 -2.1 -1.1 -3.2c0.1 -1 0.8 -2.1 1.9 -3.2c1 -1.1 2.4 -2.1 3.4 -3.2c1.1 -1.1 1.8 -2.2 2 -3.2c0.1 -1.1 -0.4 -2.2 -1.2 -3.3c-0.8 -1 -1.9 -2.1 -2.7 -3.2c-0.8 -1 -1.3 -2.1 -1.1 -3.2c0.1 -1.1 0.8 -2.1 1.9 -3.2c1.1 -1.1 2.4 -2.2 3.5 -3.2c1 -1.1 1.8 -2.2 1.9 -3.2c0.1 -1.1 -0.4 -2.2 -1.2 -3.3c-0.8 -1 -1.8 -2.1 -2.6 -3.2c-0.8 -1.1 -1.3 -2.1 -1.2 -3.2c0.2 -1.1 0.9 -2.1 2 -3.2c1 -1.1 2.4 -2.2 3.4 -3.2c1.1 -1.1 1.9 -2.2 2 -3.3c0.1 -0.8 -0.2 -1.7 -0.8 -2.6" stroke="#00f" stroke-width="1.4"/>
<path d="M572.2 344.1c-0.8 -0.9 -1.8 -1.9 -2.5 -2.8c-0.9 -1.1 -1.4 -2.2 -1.3 -3.3c0.1 -1 0.8 -2.1 1.8 -3.2c1 -1.1 2.3 -2.1 3.3 -3.2c1 -1.1 1.7 -2.2 1.8 -3.3c0.1 -1 -0.4 -2.1 -1.3 -3.2c-0.8 -1.1 -2 -2.1 -2.8 -3.2c-0.9 -1.1 -1.4 -2.2 -1.3 -3.3c0.1 -1 0.8 -2.1 1.8 -3.2c1 -1.1 2.3 -2.1 3.3 -3.2c1 -1.1 1.7 -2.2 1.8 -3.3c0.1 -1 -0.4 -2.1 -1.3 -3.2c-0.8 -1.1 -1.9 -2.1 -2.8 -3.2c-0.8 -1.1 -1.3 -2.2 -1.2 -3.2c0 -1.1 0.7 -2.2 1.8 -3.3c1 -1.1 2.3 -2.1 3.3 -3.2c1 -1.1 1.7 -2.2 1.8 -3.2c0.1 -1.1 -0.4 -2.2 -1.2 -3.3c-0.9 -1 -2 -2.1 -2.9 -3.2c-0.8 -1.1 -1.3 -2.2 -1.2 -3.2c0.1 -1.1 0.8 -2.2 1.8 -3.3c1 -1 2.3 -2.1 3.4 -3.2c1 -1.1 1.7 -2.1 1.8 -3.2c0.1 -1.1 -0.4 -2.2 -1.3 -3.3c-0.8 -1 -1.9 -2.1 -2.8 -3.2c-0.8 -1.1 -1.3 -2.1 -1.2 -3.2c0.1 -1.1 0.8 -2.2 1.8 -3.2c1 -1.1 2.3 -2.2 3.4 -3.3c1 -1 1.7 -2.1 1.8 -3.2c0.1 -1.1 -0.4 -2.2 -1.2 -3.2c-0.9 -1.1 -2 -2.2 -2.8 -3.3c-0.9 -1 -1.4 -2.1 -1.3 -3.2c0.1 -1.1 0.8 -2.1 1.9 -3.2c1 -1.1 2.3 -2.2 3.3 -3.2c1.1 -1.1 1.8 -2.2 1.9 -3.3c0.1 -1.1 -0.4 -2.1 -1.2 -3.2c-0.9 -1.1 -2 -2.2 -2.8 -3.2c-0.9 -1.1 -1.4 -2.2 -1.3 -3.3c0.1 -1 0.9 -2.1 1.9 -3.2c1 -1.1 2.3 -2.1 3.4 -3.2c1 -1.1 1.7 -2.2 1.8 -3.2c0.1 -1.1 -0.4 -2.2 -1.2 -3.3c-0.8 -1 -1.9 -2.1 -2.8 -3.2c-0.8 -1.1 -1.3 -2.1 -1.2 -3.2c0.1 -1.1 0.8 -2.2 1.9 -3.2c1 -1.1 2.3 -2.2 3.4 -3.3c1 -1.1 1.7 -2.1 1.8 -3.2c0.1 -1.1 -0.4 -2.2 -1.2 -3.2c-0.8 -1.1 -1.9 -2.2 -2.7 -3.3c-0.9 -1 -1.4 -2.1 -1.3 -3.2c0.2 -1.1 0.9 -2.1 1.9 -3.2c1.1 -1.1 2.4 -2.2 3.4 -3.2c1.1 -1.1 1.8 -2.2 1.9 -3.3c0.1 -1 -0.4 -2.1 -1.2 -3.2c-0.8 -1.1 -1.9 -2.1 -2.8 -3.2c-0.8 -1.1 -1.3 -2.2 -1.2 -3.2c0.1 -1.1 0.9 -2.2 1.9 -3.3c1.1 -1 2.4 -2.1 3.4 -3.2c1.1 -1.1 1.8 -2.1 1.9 -3.2c0.1 -1.1 -0.4 -2.2 -1.2 -3.2c-0.8 -1.1 -1.9 -2.2 -2.7 -3.3c-0.8 -1 -1.3 -2.1 -1.2 -3.2c0.1 -1.1 0.8 -2.1 1.9 -3.2c1 -1.1 2.4 -2.1 3.4 -3.2c1.1 -1.1 1.8 -2.2 1.9 -3.2c0.1 -1.1 -0.4 -2.2 -1.2 -3.3c-0.8 -1 -1.9 -2.1 -2.7 -3.2c-0.8 -1.1 -1.3 -2.1 -1.2 -3.2c0.1 -1.1 0.9 -2.2 1.9 -3.2c1.1 -1.1 2.4 -2.2 3.5 -3.3c1 -1 1.7 -2.1 1.9 -3.2c0.1 -1.1 -0.4 -2.1 -1.2 -3.2c-0.8 -1.1 -1.9 -2.2 -2.7 -3.2c-0.8 -1.1 -1.3 -2.2 -1.2 -3.2c0.1 -1.1 0.8 -2.2 1.9 -3.3c1.1 -1 2.4 -2.1 3.5 -3.2c1 -1.1 1.7 -2.1 1.9 -3.2c0.1 -1.1 -0.4 -2.2 -1.2 -3.2c-0.8 -1.1 -1.9 -2.2 -2.7 -3.3c-0.8 -1 -1.3 -2.1 -1.2 -3.2c0.2 -1 0.9 -2.1 1.9 -3.2c1.1 -1.1 2.4 -2.1 3.5 -3.2c1.1 -1.1 1.8 -2.2 1.9 -3.2c0.2 -1.1 -0.3 -2.2 -1.1 -3.3c-0.8 -1 -1.9 -2.1 -2.7 -3.2c-0.8 -1 -1.3 -2.1 -1.2 -3.2c0.2 -1.1 0.9 -2.1 2 -3.2c1 -1.1 2.4 -2.2 3.4 -3.2c1.1 -1.1 1.8 -2.2 2 -3.2c0.1 -1.1 -0.4 -2.2 -1.2 -3.3c-0.8 -1 -1.9 -2.1 -2.7 -3.2c-0.8 -1.1 -1.2 -2.1 -1.1 -3.2c0.1 -1.1 0.9 -2.1 1.9 -3.2c1.1 -1.1 2.4 -2.2 3.5 -3.2c1.1 -1.1 1.8 -2.2 2 -3.3c0.1 -0.8 -0.2 -1.7 -0.8 -2.6" stroke="#00f" stroke-width="1.4"/>
</g></g>
<rect x="455.9" y="35.4" width="185.3" height="308.7" fill="none" stroke="#1a1a1a" stroke-width="1.5"/>
<path d="M455.9 344.1 v-3.4 M455.9 35.4 v3.4 M533 344.1 v-3.4 M533 35.4 v3.4 M610.1 344.1 v-3.4 M610.1 35.4 v3.4 M455.9 344.1 h3.4 M641.2 344.1 h-3.4 M455.9 266.9 h3.4 M641.2 266.9 h-3.4 M455.9 189.8 h3.4 M641.2 189.8 h-3.4 M455.9 112.6 h3.4 M641.2 112.6 h-3.4 M455.9 35.4 h3.4 M641.2 35.4 h-3.4" stroke="#1a1a1a" stroke-width="1.4" fill="none"/>
<g font-size="20">
<text x="455.9" y="370.9" text-anchor="middle">-4</text>
<text x="533" y="370.9" text-anchor="middle">-3.95</text>
<text x="610.1" y="370.9" text-anchor="middle">-3.9</text>
<text x="448.9" y="352.7" text-anchor="end">0.3</text>
<text x="448.9" y="275.5" text-anchor="end">0.35</text>
<text x="448.9" y="198.3" text-anchor="end">0.4</text>
<text x="448.9" y="121.2" text-anchor="end">0.45</text>
<text x="448.9" y="44" text-anchor="end">0.5</text>
<text x="535.6" y="399.8" font-size="22.0" text-anchor="middle"><tspan font-style="italic">x</tspan> (mm)</text>
<text transform="translate(404.6 197.2) rotate(-90)" font-size="22.0" text-anchor="middle"><tspan font-style="italic">y</tspan> (mm)</text>
</g>
<text x="371" y="20.2" font-size="25">(b)</text>
<text x="588.6" y="244.9" font-size="16.2">Tooth <tspan font-style="italic">i</tspan></text>
<text x="578.4" y="323.7" font-size="16.2">Tooth <tspan font-style="italic">i</tspan>+1</text>
<path d="M600 225.7 L590.6 215.7" stroke="#000" stroke-width="1.5" fill="none"/><polygon points="586.3,211.2 595.9,215.9 590.6,215.7 590.4,221.1" fill="#000"/>
<path d="M592.3 303.7 L569.7 281.1" stroke="#000" stroke-width="1.5" fill="none"/><polygon points="565.3,276.7 575.1,281.1 569.7,281.1 569.7,286.5" fill="#000"/>
<clipPath id="c2"><rect x="59.6" y="469.5" width="245.7" height="288.3"/></clipPath>
<g clip-path="url(#c2)" fill="none" stroke-linejoin="round"><g>
<g stroke="#444" stroke-width="0.7" stroke-dasharray="4.4 3"><path d="M86.5 757.8c1.2 -16 2.5 -32 3.8 -48c1.4 -16.1 2.8 -32.1 4.3 -48.1c1.4 -16 3 -32 4.6 -48.1c1.6 -16 3.3 -32 5 -48c1.8 -16 3.6 -32 5.5 -48.1c1.9 -16 3.8 -32 5.8 -48"/><path d="M98.2 757.8c1.2 -16 2.5 -32 3.8 -48c1.3 -16.1 2.8 -32.1 4.2 -48.1c1.5 -16 3.1 -32 4.7 -48.1c1.6 -16 3.3 -32 5 -48c1.7 -16 3.6 -32 5.4 -48.1c1.9 -16 3.9 -32 5.9 -48"/><path d="M109.8 757.8c1.3 -16 2.5 -32 3.9 -48c1.3 -16.1 2.7 -32.1 4.2 -48.1c1.5 -16 3 -32 4.6 -48.1c1.6 -16 3.3 -32 5.1 -48c1.7 -16 3.5 -32 5.4 -48.1c1.9 -16 3.8 -32 5.9 -48"/><path d="M121.5 757.8c1.2 -16 2.5 -32 3.8 -48c1.4 -16.1 2.8 -32.1 4.2 -48.1c1.5 -16 3.1 -32 4.7 -48.1c1.6 -16 3.3 -32 5 -48c1.8 -16 3.6 -32 5.5 -48.1c1.8 -16 3.8 -32 5.8 -48"/><path d="M133.2 757.8c1.2 -16 2.4 -32 3.8 -48c1.3 -16.1 2.7 -32.1 4.2 -48.1c1.5 -16 3 -32 4.6 -48.1c1.6 -16 3.3 -32 5.1 -48c1.7 -16 3.5 -32 5.4 -48.1c1.9 -16 3.8 -32 5.9 -48"/><path d="M144.8 757.8c1.2 -16 2.5 -32 3.8 -48c1.4 -16.1 2.8 -32.1 4.3 -48.1c1.4 -16 3 -32 4.6 -48.1c1.6 -16 3.3 -32 5 -48c1.8 -16 3.6 -32 5.5 -48.1c1.9 -16 3.8 -32 5.8 -48"/><path d="M156.5 757.8c1.2 -16 2.5 -32 3.8 -48c1.3 -16.1 2.7 -32.1 4.2 -48.1c1.5 -16 3 -32 4.6 -48.1c1.7 -16 3.3 -32 5.1 -48c1.7 -16 3.5 -32 5.4 -48.1c1.9 -16 3.9 -32 5.9 -48"/><path d="M168.1 757.8c1.2 -16 2.5 -32 3.9 -48c1.3 -16.1 2.7 -32.1 4.2 -48.1c1.5 -16 3 -32 4.6 -48.1c1.6 -16 3.3 -32 5 -48c1.8 -16 3.6 -32 5.5 -48.1c1.9 -16 3.8 -32 5.8 -48"/><path d="M179.8 757.8c1.2 -16 2.5 -32 3.8 -48c1.3 -16.1 2.8 -32.1 4.2 -48.1c1.5 -16 3.1 -32 4.7 -48.1c1.6 -16 3.3 -32 5 -48c1.7 -16 3.6 -32 5.4 -48.1c1.9 -16 3.9 -32 5.9 -48"/><path d="M191.4 757.8c1.3 -16 2.5 -32 3.9 -48c1.3 -16.1 2.7 -32.1 4.2 -48.1c1.5 -16 3 -32 4.6 -48.1c1.6 -16 3.3 -32 5.1 -48c1.7 -16 3.5 -32 5.4 -48.1c1.9 -16 3.8 -32 5.9 -48"/><path d="M203.1 757.8c1.2 -16 2.5 -32 3.8 -48c1.4 -16.1 2.8 -32.1 4.2 -48.1c1.5 -16 3.1 -32 4.7 -48.1c1.6 -16 3.3 -32 5 -48c1.8 -16 3.6 -32 5.5 -48.1c1.8 -16 3.8 -32 5.8 -48"/><path d="M214.8 757.8c1.2 -16 2.4 -32 3.8 -48c1.3 -16.1 2.7 -32.1 4.2 -48.1c1.5 -16 3 -32 4.6 -48.1c1.6 -16 3.3 -32 5.1 -48c1.7 -16 3.5 -32 5.4 -48.1c1.9 -16 3.9 -32 5.9 -48"/><path d="M226.4 757.8c1.2 -16 2.5 -32 3.8 -48c1.4 -16.1 2.8 -32.1 4.3 -48.1c1.4 -16 3 -32 4.6 -48.1c1.6 -16 3.3 -32 5 -48c1.8 -16 3.6 -32 5.5 -48.1c1.9 -16 3.8 -32 5.8 -48"/><path d="M238.1 757.8c1.2 -16 2.5 -32 3.8 -48c1.3 -16.1 2.7 -32.1 4.2 -48.1c1.5 -16 3 -32 4.7 -48.1c1.6 -16 3.2 -32 5 -48c1.7 -16 3.5 -32 5.4 -48.1c1.9 -16 3.9 -32 5.9 -48"/><path d="M249.7 757.8c1.2 -16 2.5 -32 3.9 -48c1.3 -16.1 2.7 -32.1 4.2 -48.1c1.5 -16 3 -32 4.6 -48.1c1.6 -16 3.3 -32 5 -48c1.8 -16 3.6 -32 5.5 -48.1c1.9 -16 3.8 -32 5.8 -48"/><path d="M261.4 757.8c1.2 -16 2.5 -32 3.8 -48c1.4 -16.1 2.8 -32.1 4.2 -48.1c1.5 -16 3.1 -32 4.7 -48.1c1.6 -16 3.3 -32 5 -48c1.7 -16 3.6 -32 5.4 -48.1c1.9 -16 3.9 -32 5.9 -48"/></g>
<path d="M89.8 757.8c-3.4 -1.4 -7.1 -2.9 -10.2 -4.3c-4.2 -2 -6.9 -4 -6.7 -6.1c0.1 -2 3.2 -4 7.7 -6c4.5 -2 10.4 -4 14.9 -6c4.5 -2 7.5 -4 7.7 -6c0.1 -2.1 -2.6 -4.1 -6.8 -6.1c-4.2 -2 -9.7 -4 -13.9 -6c-4.2 -2 -6.9 -4 -6.7 -6c0.2 -2 3.2 -4.1 7.7 -6.1c4.5 -2 10.4 -4 15 -6c4.5 -2 7.5 -4 7.7 -6c0.2 -2 -2.5 -4 -6.7 -6.1c-4.2 -2 -9.7 -4 -13.9 -6c-4.2 -2 -6.9 -4 -6.7 -6c0.2 -2 3.2 -4 7.8 -6c4.5 -2 10.4 -4 15 -6.1c4.5 -2 7.5 -4 7.7 -6c0.2 -2 -2.4 -4 -6.6 -6c-4.2 -2 -9.7 -4 -13.9 -6c-4.1 -2 -6.8 -4 -6.6 -6.1c0.2 -2 3.2 -4 7.8 -6c4.5 -2 10.4 -4 15 -6c4.6 -2 7.6 -4 7.8 -6c0.2 -2 -2.4 -4 -6.6 -6c-4.2 -2 -9.7 -4 -13.8 -6.1c-4.2 -2 -6.8 -4 -6.6 -6c0.2 -2 3.2 -4 7.8 -6c4.6 -2 10.5 -4 15.1 -6c4.5 -2 7.6 -4 7.8 -6c0.2 -2 -2.4 -4 -6.6 -6c-4.1 -2 -9.6 -4.1 -13.7 -6.1c-4.2 -2 -6.8 -4 -6.6 -6c0.2 -2 3.3 -4 7.9 -6c4.5 -2 10.5 -4 15.1 -6c4.5 -2 7.6 -4 7.8 -6c0.3 -2 -2.4 -4 -6.5 -6c-4.1 -2 -9.6 -4 -13.7 -6c-4.2 -2 -6.8 -4 -6.6 -6.1c0.3 -2 3.3 -4 7.9 -6c4.6 -2 10.6 -4 15.2 -6c4.6 -2 7.7 -4 7.9 -6c0.2 -2 -2.4 -4 -6.5 -6c-4.1 -2 -9.6 -4 -13.7 -6c-4.1 -2 -6.7 -4 -6.5 -6c0.2 -2 3.3 -4 8 -6c4.6 -2 10.5 -4 15.1 -6c4.6 -2 7.7 -4 8 -6c0.2 -2 -2.4 -4 -6.5 -6c-0.7 -0.4 -1.5 -0.7 -2.3 -1.1" stroke="#f00" stroke-width="1.25"/>
<path d="M113.1 757.8c-3.4 -1.4 -7.1 -2.9 -10.1 -4.3c-4.3 -2 -6.9 -4 -6.8 -6.1c0.2 -2 3.2 -4 7.7 -6c4.5 -2 10.4 -4 14.9 -6c4.5 -2 7.5 -4 7.7 -6c0.1 -2.1 -2.5 -4.1 -6.7 -6.1c-4.2 -2 -9.8 -4 -14 -6c-4.2 -2 -6.9 -4 -6.7 -6c0.2 -2 3.2 -4.1 7.7 -6.1c4.6 -2 10.4 -4 15 -6c4.5 -2 7.5 -4 7.7 -6c0.2 -2 -2.5 -4 -6.7 -6.1c-4.2 -2 -9.7 -4 -13.9 -6c-4.2 -2 -6.8 -4 -6.7 -6c0.2 -2 3.3 -4 7.8 -6c4.5 -2 10.4 -4 15 -6.1c4.5 -2 7.6 -4 7.7 -6c0.2 -2 -2.4 -4 -6.6 -6c-4.2 -2 -9.7 -4 -13.9 -6c-4.1 -2 -6.8 -4 -6.6 -6.1c0.2 -2 3.2 -4 7.8 -6c4.6 -2 10.5 -4 15 -6c4.6 -2 7.6 -4 7.8 -6c0.2 -2 -2.4 -4 -6.6 -6c-4.1 -2 -9.7 -4 -13.8 -6.1c-4.2 -2 -6.8 -4 -6.6 -6c0.2 -2 3.3 -4 7.8 -6c4.6 -2 10.5 -4 15.1 -6c4.5 -2 7.6 -4 7.8 -6c0.2 -2 -2.4 -4 -6.6 -6c-4.1 -2 -9.6 -4.1 -13.7 -6.1c-4.2 -2 -6.8 -4 -6.6 -6c0.2 -2 3.3 -4 7.9 -6c4.6 -2 10.5 -4 15.1 -6c4.6 -2 7.6 -4 7.9 -6c0.2 -2 -2.4 -4 -6.6 -6c-4.1 -2 -9.6 -4 -13.7 -6c-4.2 -2 -6.8 -4 -6.6 -6.1c0.3 -2 3.4 -4 8 -6c4.6 -2 10.5 -4 15.1 -6c4.6 -2 7.7 -4 7.9 -6c0.2 -2 -2.4 -4 -6.5 -6c-4.1 -2 -9.6 -4 -13.7 -6c-4.1 -2 -6.7 -4 -6.5 -6c0.3 -2 3.4 -4 8 -6c4.6 -2 10.5 -4 15.1 -6c4.6 -2 7.7 -4 8 -6c0.2 -2 -2.4 -4 -6.5 -6c-0.7 -0.4 -1.5 -0.7 -2.3 -1.1" stroke="#f00" stroke-width="1.25"/>
<path d="M136.4 757.8c-3.4 -1.4 -7.1 -2.9 -10.1 -4.3c-4.2 -2 -6.9 -4 -6.8 -6.1c0.2 -2 3.2 -4 7.7 -6c4.5 -2 10.4 -4 14.9 -6c4.5 -2 7.5 -4 7.7 -6c0.2 -2.1 -2.5 -4.1 -6.7 -6.1c-4.2 -2 -9.8 -4 -14 -6c-4.2 -2 -6.8 -4 -6.7 -6c0.2 -2 3.2 -4.1 7.7 -6.1c4.6 -2 10.5 -4 15 -6c4.5 -2 7.5 -4 7.7 -6c0.2 -2 -2.5 -4 -6.7 -6.1c-4.2 -2 -9.7 -4 -13.9 -6c-4.1 -2 -6.8 -4 -6.6 -6c0.1 -2 3.2 -4 7.7 -6c4.6 -2 10.4 -4 15 -6.1c4.5 -2 7.6 -4 7.8 -6c0.2 -2 -2.5 -4 -6.7 -6c-4.2 -2 -9.7 -4 -13.8 -6c-4.2 -2 -6.9 -4 -6.7 -6.1c0.2 -2 3.3 -4 7.8 -6c4.6 -2 10.5 -4 15 -6c4.6 -2 7.6 -4 7.8 -6c0.2 -2 -2.4 -4 -6.6 -6c-4.1 -2 -9.6 -4 -13.8 -6.1c-4.2 -2 -6.8 -4 -6.6 -6c0.2 -2 3.3 -4 7.8 -6c4.6 -2 10.5 -4 15.1 -6c4.6 -2 7.6 -4 7.8 -6c0.3 -2 -2.4 -4 -6.5 -6c-4.2 -2 -9.7 -4.1 -13.8 -6.1c-4.2 -2 -6.8 -4 -6.6 -6c0.2 -2 3.3 -4 7.9 -6c4.6 -2 10.5 -4 15.1 -6c4.6 -2 7.6 -4 7.9 -6c0.2 -2 -2.4 -4 -6.6 -6c-4.1 -2 -9.6 -4 -13.7 -6c-4.1 -2 -6.8 -4 -6.5 -6.1c0.2 -2 3.3 -4 7.9 -6c4.6 -2 10.5 -4 15.1 -6c4.6 -2 7.7 -4 7.9 -6c0.3 -2 -2.4 -4 -6.5 -6c-4.1 -2 -9.6 -4 -13.7 -6c-4.1 -2 -6.7 -4 -6.5 -6c0.3 -2 3.4 -4 8 -6c4.6 -2 10.5 -4 15.1 -6c4.7 -2 7.8 -4 8 -6c0.3 -2 -2.3 -4 -6.5 -6c-0.7 -0.4 -1.5 -0.7 -2.3 -1.1" stroke="#f00" stroke-width="1.25"/>
<path d="M159.7 757.8c-3.4 -1.4 -7.1 -2.9 -10.1 -4.3c-4.2 -2 -6.9 -4 -6.8 -6.1c0.2 -2 3.2 -4 7.7 -6c4.5 -2 10.4 -4 14.9 -6c4.5 -2 7.6 -4 7.7 -6c0.2 -2.1 -2.5 -4.1 -6.7 -6.1c-4.2 -2 -9.8 -4 -13.9 -6c-4.2 -2 -6.9 -4 -6.8 -6c0.2 -2 3.2 -4.1 7.8 -6.1c4.5 -2 10.4 -4 14.9 -6c4.5 -2 7.6 -4 7.7 -6c0.2 -2 -2.5 -4 -6.7 -6.1c-4.1 -2 -9.7 -4 -13.9 -6c-4.1 -2 -6.8 -4 -6.6 -6c0.2 -2 3.2 -4 7.7 -6c4.6 -2 10.5 -4 15 -6.1c4.6 -2 7.6 -4 7.8 -6c0.2 -2 -2.5 -4 -6.7 -6c-4.1 -2 -9.7 -4 -13.8 -6c-4.2 -2 -6.9 -4 -6.7 -6.1c0.2 -2 3.3 -4 7.8 -6c4.6 -2 10.5 -4 15 -6c4.6 -2 7.7 -4 7.9 -6c0.2 -2 -2.5 -4 -6.7 -6c-4.1 -2 -9.6 -4 -13.8 -6.1c-4.1 -2 -6.8 -4 -6.6 -6c0.2 -2 3.3 -4 7.9 -6c4.5 -2 10.4 -4 15 -6c4.6 -2 7.6 -4 7.9 -6c0.2 -2 -2.5 -4 -6.6 -6c-4.2 -2 -9.7 -4.1 -13.8 -6.1c-4.1 -2 -6.8 -4 -6.6 -6c0.3 -2 3.3 -4 7.9 -6c4.6 -2 10.5 -4 15.1 -6c4.6 -2 7.7 -4 7.9 -6c0.2 -2 -2.4 -4 -6.6 -6c-4.1 -2 -9.6 -4 -13.7 -6c-4.1 -2 -6.8 -4 -6.5 -6.1c0.2 -2 3.3 -4 7.9 -6c4.6 -2 10.5 -4 15.1 -6c4.6 -2 7.7 -4 7.9 -6c0.3 -2 -2.3 -4 -6.5 -6c-4.1 -2 -9.5 -4 -13.7 -6c-4.1 -2 -6.7 -4 -6.5 -6c0.3 -2 3.4 -4 8 -6c4.6 -2 10.6 -4 15.2 -6c4.6 -2 7.7 -4 7.9 -6c0.3 -2 -2.3 -4 -6.4 -6c-0.8 -0.4 -1.6 -0.7 -2.4 -1.1" stroke="#f00" stroke-width="1.25"/>
<path d="M183 757.8c-3.4 -1.4 -7.1 -2.9 -10.1 -4.3c-4.2 -2 -6.9 -4 -6.7 -6.1c0.1 -2 3.1 -4 7.6 -6c4.6 -2 10.4 -4 14.9 -6c4.6 -2 7.6 -4 7.7 -6c0.2 -2.1 -2.5 -4.1 -6.7 -6.1c-4.2 -2 -9.7 -4 -13.9 -6c-4.2 -2 -6.9 -4 -6.7 -6c0.1 -2 3.1 -4.1 7.7 -6.1c4.5 -2 10.4 -4 14.9 -6c4.5 -2 7.6 -4 7.7 -6c0.2 -2 -2.5 -4 -6.6 -6.1c-4.2 -2 -9.8 -4 -13.9 -6c-4.2 -2 -6.9 -4 -6.7 -6c0.2 -2 3.2 -4 7.7 -6c4.6 -2 10.5 -4 15 -6.1c4.6 -2 7.6 -4 7.8 -6c0.2 -2 -2.5 -4 -6.7 -6c-4.1 -2 -9.6 -4 -13.8 -6c-4.2 -2 -6.8 -4 -6.7 -6.1c0.2 -2 3.3 -4 7.8 -6c4.6 -2 10.5 -4 15.1 -6c4.5 -2 7.6 -4 7.8 -6c0.2 -2 -2.5 -4 -6.6 -6c-4.2 -2 -9.7 -4 -13.9 -6.1c-4.1 -2 -6.8 -4 -6.6 -6c0.2 -2 3.3 -4 7.9 -6c4.5 -2 10.5 -4 15 -6c4.6 -2 7.7 -4 7.9 -6c0.2 -2 -2.5 -4 -6.6 -6c-4.2 -2 -9.6 -4.1 -13.8 -6.1c-4.1 -2 -6.8 -4 -6.6 -6c0.3 -2 3.3 -4 7.9 -6c4.6 -2 10.5 -4 15.1 -6c4.6 -2 7.7 -4 7.9 -6c0.2 -2 -2.4 -4 -6.5 -6c-4.2 -2 -9.7 -4 -13.8 -6c-4.1 -2 -6.7 -4 -6.5 -6.1c0.2 -2 3.3 -4 7.9 -6c4.6 -2 10.5 -4 15.1 -6c4.6 -2 7.7 -4 8 -6c0.2 -2 -2.4 -4 -6.5 -6c-4.2 -2 -9.6 -4 -13.8 -6c-4.1 -2 -6.7 -4 -6.4 -6c0.2 -2 3.3 -4 7.9 -6c4.6 -2 10.6 -4 15.2 -6c4.6 -2 7.7 -4 7.9 -6c0.3 -2 -2.3 -4 -6.4 -6c-0.8 -0.4 -1.5 -0.7 -2.4 -1.1" stroke="#f00" stroke-width="1.25"/>
<path d="M206.3 757.8c-3.4 -1.4 -7.1 -2.9 -10.1 -4.3c-4.2 -2 -6.9 -4 -6.7 -6.1c0.1 -2 3.1 -4 7.6 -6c4.6 -2 10.4 -4 14.9 -6c4.6 -2 7.6 -4 7.7 -6c0.2 -2.1 -2.5 -4.1 -6.7 -6.1c-4.2 -2 -9.7 -4 -13.9 -6c-4.2 -2 -6.9 -4 -6.7 -6c0.1 -2 3.2 -4.1 7.7 -6.1c4.5 -2 10.4 -4 14.9 -6c4.6 -2 7.6 -4 7.8 -6c0.1 -2 -2.5 -4 -6.7 -6.1c-4.2 -2 -9.7 -4 -13.9 -6c-4.2 -2 -6.9 -4 -6.7 -6c0.2 -2 3.2 -4 7.8 -6c4.5 -2 10.4 -4 14.9 -6.1c4.6 -2 7.6 -4 7.8 -6c0.2 -2 -2.5 -4 -6.6 -6c-4.2 -2 -9.7 -4 -13.9 -6c-4.2 -2 -6.8 -4 -6.6 -6.1c0.2 -2 3.2 -4 7.8 -6c4.5 -2 10.4 -4 15 -6c4.5 -2 7.6 -4 7.8 -6c0.2 -2 -2.5 -4 -6.6 -6c-4.2 -2 -9.7 -4 -13.9 -6.1c-4.1 -2 -6.8 -4 -6.6 -6c0.3 -2 3.3 -4 7.9 -6c4.6 -2 10.5 -4 15 -6c4.6 -2 7.7 -4 7.9 -6c0.2 -2 -2.4 -4 -6.6 -6c-4.1 -2 -9.6 -4.1 -13.8 -6.1c-4.1 -2 -6.8 -4 -6.5 -6c0.2 -2 3.3 -4 7.8 -6c4.6 -2 10.5 -4 15.1 -6c4.6 -2 7.7 -4 7.9 -6c0.2 -2 -2.4 -4 -6.5 -6c-4.2 -2 -9.6 -4 -13.8 -6c-4.1 -2 -6.7 -4 -6.5 -6.1c0.2 -2 3.3 -4 7.9 -6c4.6 -2 10.5 -4 15.1 -6c4.6 -2 7.7 -4 8 -6c0.2 -2 -2.4 -4 -6.5 -6c-4.2 -2 -9.6 -4 -13.7 -6c-4.2 -2 -6.8 -4 -6.5 -6c0.2 -2 3.3 -4 7.9 -6c4.6 -2 10.6 -4 15.2 -6c4.6 -2 7.7 -4 8 -6c0.2 -2 -2.4 -4 -6.5 -6c-0.7 -0.4 -1.5 -0.7 -2.3 -1.1" stroke="#f00" stroke-width="1.25"/>
<path d="M229.7 757.8c-3.4 -1.4 -7.2 -2.9 -10.2 -4.3c-4.2 -2 -6.9 -4 -6.7 -6.1c0.1 -2 3.1 -4 7.7 -6c4.5 -2 10.3 -4 14.9 -6c4.5 -2 7.5 -4 7.7 -6c0.1 -2.1 -2.6 -4.1 -6.8 -6.1c-4.2 -2 -9.7 -4 -13.9 -6c-4.2 -2 -6.9 -4 -6.7 -6c0.2 -2 3.2 -4.1 7.7 -6.1c4.5 -2 10.4 -4 14.9 -6c4.6 -2 7.6 -4 7.8 -6c0.2 -2 -2.5 -4 -6.7 -6.1c-4.2 -2 -9.7 -4 -13.9 -6c-4.2 -2 -6.9 -4 -6.7 -6c0.2 -2 3.2 -4 7.8 -6c4.5 -2 10.4 -4 15 -6.1c4.5 -2 7.5 -4 7.7 -6c0.2 -2 -2.5 -4 -6.6 -6c-4.2 -2 -9.7 -4 -13.9 -6c-4.2 -2 -6.8 -4 -6.6 -6.1c0.2 -2 3.2 -4 7.8 -6c4.5 -2 10.4 -4 15 -6c4.5 -2 7.6 -4 7.8 -6c0.2 -2 -2.5 -4 -6.6 -6c-4.2 -2 -9.7 -4 -13.8 -6.1c-4.2 -2 -6.8 -4 -6.6 -6c0.2 -2 3.2 -4 7.8 -6c4.6 -2 10.5 -4 15.1 -6c4.5 -2 7.6 -4 7.8 -6c0.2 -2 -2.4 -4 -6.6 -6c-4.1 -2 -9.6 -4.1 -13.8 -6.1c-4.1 -2 -6.7 -4 -6.5 -6c0.2 -2 3.3 -4 7.9 -6c4.5 -2 10.5 -4 15 -6c4.6 -2 7.7 -4 7.9 -6c0.3 -2 -2.4 -4 -6.5 -6c-4.1 -2 -9.6 -4 -13.8 -6c-4.1 -2 -6.7 -4 -6.5 -6.1c0.3 -2 3.3 -4 7.9 -6c4.6 -2 10.6 -4 15.2 -6c4.6 -2 7.6 -4 7.9 -6c0.2 -2 -2.4 -4 -6.5 -6c-4.1 -2 -9.6 -4 -13.7 -6c-4.1 -2 -6.8 -4 -6.5 -6c0.2 -2 3.3 -4 7.9 -6c4.6 -2 10.6 -4 15.2 -6c4.6 -2 7.7 -4 8 -6c0.2 -2 -2.4 -4 -6.5 -6c-0.7 -0.4 -1.5 -0.7 -2.3 -1.1" stroke="#f00" stroke-width="1.25"/>
<path d="M253 757.8c-3.4 -1.4 -7.1 -2.9 -10.2 -4.3c-4.2 -2 -6.9 -4 -6.7 -6.1c0.2 -2 3.2 -4 7.7 -6c4.5 -2 10.4 -4 14.9 -6c4.5 -2 7.5 -4 7.7 -6c0.1 -2.1 -2.6 -4.1 -6.8 -6.1c-4.2 -2 -9.7 -4 -13.9 -6c-4.2 -2 -6.9 -4 -6.7 -6c0.2 -2 3.2 -4.1 7.7 -6.1c4.6 -2 10.4 -4 15 -6c4.5 -2 7.5 -4 7.7 -6c0.2 -2 -2.5 -4 -6.7 -6.1c-4.2 -2 -9.7 -4 -13.9 -6c-4.2 -2 -6.8 -4 -6.7 -6c0.2 -2 3.2 -4 7.8 -6c4.5 -2 10.4 -4 15 -6.1c4.5 -2 7.6 -4 7.7 -6c0.2 -2 -2.4 -4 -6.6 -6c-4.2 -2 -9.7 -4 -13.9 -6c-4.1 -2 -6.8 -4 -6.6 -6.1c0.2 -2 3.2 -4 7.8 -6c4.5 -2 10.4 -4 15 -6c4.6 -2 7.6 -4 7.8 -6c0.2 -2 -2.4 -4 -6.6 -6c-4.2 -2 -9.7 -4 -13.8 -6.1c-4.2 -2 -6.8 -4 -6.6 -6c0.2 -2 3.2 -4 7.8 -6c4.6 -2 10.5 -4 15.1 -6c4.5 -2 7.6 -4 7.8 -6c0.2 -2 -2.4 -4 -6.6 -6c-4.1 -2 -9.6 -4.1 -13.7 -6.1c-4.2 -2 -6.8 -4 -6.6 -6c0.2 -2 3.3 -4 7.9 -6c4.5 -2 10.5 -4 15.1 -6c4.5 -2 7.6 -4 7.8 -6c0.3 -2 -2.4 -4 -6.5 -6c-4.1 -2 -9.6 -4 -13.7 -6c-4.2 -2 -6.8 -4 -6.6 -6.1c0.3 -2 3.4 -4 7.9 -6c4.6 -2 10.6 -4 15.2 -6c4.6 -2 7.7 -4 7.9 -6c0.2 -2 -2.4 -4 -6.5 -6c-4.1 -2 -9.6 -4 -13.7 -6c-4.1 -2 -6.7 -4 -6.5 -6c0.3 -2 3.3 -4 8 -6c4.6 -2 10.5 -4 15.1 -6c4.6 -2 7.7 -4 8 -6c0.2 -2 -2.4 -4 -6.5 -6c-0.7 -0.4 -1.5 -0.7 -2.3 -1.1" stroke="#f00" stroke-width="1.25"/>
<path d="M101.4 757.8c-3.4 -1.4 -7.1 -2.9 -10.1 -4.3c-4.2 -2 -6.9 -4 -6.8 -6.1c0.2 -2 3.2 -4 7.7 -6c4.5 -2 10.4 -4 14.9 -6c4.6 -2 7.6 -4 7.7 -6c0.2 -2.1 -2.5 -4.1 -6.7 -6.1c-4.2 -2 -9.7 -4 -13.9 -6c-4.2 -2 -6.9 -4 -6.7 -6c0.1 -2 3.1 -4.1 7.7 -6.1c4.5 -2 10.4 -4 14.9 -6c4.5 -2 7.6 -4 7.7 -6c0.2 -2 -2.5 -4 -6.6 -6.1c-4.2 -2 -9.8 -4 -13.9 -6c-4.2 -2 -6.9 -4 -6.7 -6c0.2 -2 3.2 -4 7.7 -6c4.6 -2 10.5 -4 15 -6.1c4.6 -2 7.6 -4 7.8 -6c0.2 -2 -2.5 -4 -6.7 -6c-4.1 -2 -9.6 -4 -13.8 -6c-4.2 -2 -6.8 -4 -6.7 -6.1c0.2 -2 3.3 -4 7.8 -6c4.6 -2 10.5 -4 15.1 -6c4.5 -2 7.6 -4 7.8 -6c0.2 -2 -2.5 -4 -6.6 -6c-4.2 -2 -9.7 -4 -13.9 -6.1c-4.1 -2 -6.8 -4 -6.6 -6c0.2 -2 3.3 -4 7.9 -6c4.5 -2 10.4 -4 15 -6c4.6 -2 7.7 -4 7.9 -6c0.2 -2 -2.5 -4 -6.6 -6c-4.2 -2 -9.6 -4.1 -13.8 -6.1c-4.1 -2 -6.8 -4 -6.6 -6c0.3 -2 3.3 -4 7.9 -6c4.6 -2 10.5 -4 15.1 -6c4.6 -2 7.7 -4 7.9 -6c0.2 -2 -2.4 -4 -6.5 -6c-4.2 -2 -9.7 -4 -13.8 -6c-4.1 -2 -6.7 -4 -6.5 -6.1c0.2 -2 3.3 -4 7.9 -6c4.6 -2 10.5 -4 15.1 -6c4.6 -2 7.7 -4 8 -6c0.2 -2 -2.4 -4 -6.5 -6c-4.2 -2 -9.6 -4 -13.8 -6c-4.1 -2 -6.7 -4 -6.4 -6c0.2 -2 3.3 -4 7.9 -6c4.6 -2 10.6 -4 15.2 -6c4.6 -2 7.7 -4 7.9 -6c0.3 -2 -2.3 -4 -6.4 -6c-0.8 -0.4 -1.5 -0.7 -2.4 -1.1" stroke="#00f" stroke-width="1.25"/>
<path d="M124.7 757.8c-3.4 -1.4 -7.1 -2.9 -10.1 -4.3c-4.2 -2 -6.9 -4 -6.7 -6.1c0.1 -2 3.1 -4 7.6 -6c4.6 -2 10.4 -4 14.9 -6c4.6 -2 7.6 -4 7.7 -6c0.2 -2.1 -2.5 -4.1 -6.7 -6.1c-4.2 -2 -9.7 -4 -13.9 -6c-4.2 -2 -6.9 -4 -6.7 -6c0.1 -2 3.2 -4.1 7.7 -6.1c4.5 -2 10.4 -4 14.9 -6c4.6 -2 7.6 -4 7.8 -6c0.1 -2 -2.5 -4 -6.7 -6.1c-4.2 -2 -9.7 -4 -13.9 -6c-4.2 -2 -6.9 -4 -6.7 -6c0.2 -2 3.2 -4 7.8 -6c4.5 -2 10.4 -4 14.9 -6.1c4.6 -2 7.6 -4 7.8 -6c0.2 -2 -2.5 -4 -6.6 -6c-4.2 -2 -9.7 -4 -13.9 -6c-4.2 -2 -6.8 -4 -6.6 -6.1c0.2 -2 3.2 -4 7.8 -6c4.5 -2 10.4 -4 15 -6c4.5 -2 7.6 -4 7.8 -6c0.2 -2 -2.5 -4 -6.6 -6c-4.2 -2 -9.7 -4 -13.9 -6.1c-4.1 -2 -6.8 -4 -6.6 -6c0.3 -2 3.3 -4 7.9 -6c4.6 -2 10.5 -4 15 -6c4.6 -2 7.7 -4 7.9 -6c0.2 -2 -2.4 -4 -6.6 -6c-4.1 -2 -9.6 -4.1 -13.8 -6.1c-4.1 -2 -6.8 -4 -6.5 -6c0.2 -2 3.3 -4 7.8 -6c4.6 -2 10.5 -4 15.1 -6c4.6 -2 7.7 -4 7.9 -6c0.2 -2 -2.4 -4 -6.5 -6c-4.2 -2 -9.6 -4 -13.8 -6c-4.1 -2 -6.7 -4 -6.5 -6.1c0.2 -2 3.3 -4 7.9 -6c4.6 -2 10.5 -4 15.1 -6c4.6 -2 7.7 -4 8 -6c0.2 -2 -2.4 -4 -6.5 -6c-4.2 -2 -9.6 -4 -13.7 -6c-4.2 -2 -6.8 -4 -6.5 -6c0.2 -2 3.3 -4 7.9 -6c4.6 -2 10.6 -4 15.2 -6c4.6 -2 7.7 -4 8 -6c0.2 -2 -2.4 -4 -6.5 -6c-0.8 -0.4 -1.5 -0.7 -2.3 -1.1" stroke="#00f" stroke-width="1.25"/>
<path d="M148.1 757.8c-3.5 -1.4 -7.2 -2.9 -10.2 -4.3c-4.2 -2 -6.9 -4 -6.7 -6.1c0.1 -2 3.1 -4 7.7 -6c4.5 -2 10.3 -4 14.9 -6c4.5 -2 7.5 -4 7.7 -6c0.1 -2.1 -2.6 -4.1 -6.8 -6.1c-4.2 -2 -9.7 -4 -13.9 -6c-4.2 -2 -6.9 -4 -6.7 -6c0.2 -2 3.2 -4.1 7.7 -6.1c4.5 -2 10.4 -4 14.9 -6c4.6 -2 7.6 -4 7.8 -6c0.1 -2 -2.5 -4 -6.7 -6.1c-4.2 -2 -9.7 -4 -13.9 -6c-4.2 -2 -6.9 -4 -6.7 -6c0.2 -2 3.2 -4 7.8 -6c4.5 -2 10.4 -4 15 -6.1c4.5 -2 7.5 -4 7.7 -6c0.2 -2 -2.5 -4 -6.6 -6c-4.2 -2 -9.7 -4 -13.9 -6c-4.2 -2 -6.8 -4 -6.6 -6.1c0.2 -2 3.2 -4 7.8 -6c4.5 -2 10.4 -4 15 -6c4.5 -2 7.6 -4 7.8 -6c0.2 -2 -2.5 -4 -6.6 -6c-4.2 -2 -9.7 -4 -13.8 -6.1c-4.2 -2 -6.8 -4 -6.6 -6c0.2 -2 3.2 -4 7.8 -6c4.6 -2 10.5 -4 15.1 -6c4.5 -2 7.6 -4 7.8 -6c0.2 -2 -2.4 -4 -6.6 -6c-4.1 -2 -9.6 -4.1 -13.8 -6.1c-4.1 -2 -6.7 -4 -6.5 -6c0.2 -2 3.3 -4 7.8 -6c4.6 -2 10.6 -4 15.1 -6c4.6 -2 7.7 -4 7.9 -6c0.3 -2 -2.4 -4 -6.5 -6c-4.1 -2 -9.6 -4 -13.8 -6c-4.1 -2 -6.7 -4 -6.5 -6.1c0.3 -2 3.3 -4 7.9 -6c4.6 -2 10.6 -4 15.2 -6c4.6 -2 7.6 -4 7.9 -6c0.2 -2 -2.4 -4 -6.5 -6c-4.1 -2 -9.6 -4 -13.7 -6c-4.1 -2 -6.8 -4 -6.5 -6c0.2 -2 3.3 -4 7.9 -6c4.6 -2 10.6 -4 15.2 -6c4.6 -2 7.7 -4 8 -6c0.2 -2 -2.4 -4 -6.5 -6c-0.7 -0.4 -1.5 -0.7 -2.3 -1.1" stroke="#00f" stroke-width="1.25"/>
<path d="M171.4 757.8c-3.4 -1.4 -7.1 -2.9 -10.2 -4.3c-4.2 -2 -6.9 -4 -6.7 -6.1c0.1 -2 3.2 -4 7.7 -6c4.5 -2 10.4 -4 14.9 -6c4.5 -2 7.5 -4 7.7 -6c0.1 -2.1 -2.6 -4.1 -6.8 -6.1c-4.2 -2 -9.7 -4 -13.9 -6c-4.2 -2 -6.9 -4 -6.7 -6c0.2 -2 3.2 -4.1 7.7 -6.1c4.5 -2 10.4 -4 15 -6c4.5 -2 7.5 -4 7.7 -6c0.2 -2 -2.5 -4 -6.7 -6.1c-4.2 -2 -9.7 -4 -13.9 -6c-4.2 -2 -6.9 -4 -6.7 -6c0.2 -2 3.2 -4 7.8 -6c4.5 -2 10.4 -4 15 -6.1c4.5 -2 7.5 -4 7.7 -6c0.2 -2 -2.4 -4 -6.6 -6c-4.2 -2 -9.7 -4 -13.9 -6c-4.1 -2 -6.8 -4 -6.6 -6.1c0.2 -2 3.2 -4 7.8 -6c4.5 -2 10.4 -4 15 -6c4.6 -2 7.6 -4 7.8 -6c0.2 -2 -2.4 -4 -6.6 -6c-4.2 -2 -9.7 -4 -13.8 -6.1c-4.2 -2 -6.8 -4 -6.6 -6c0.2 -2 3.2 -4 7.8 -6c4.6 -2 10.5 -4 15.1 -6c4.5 -2 7.6 -4 7.8 -6c0.2 -2 -2.4 -4 -6.6 -6c-4.1 -2 -9.6 -4.1 -13.7 -6.1c-4.2 -2 -6.8 -4 -6.6 -6c0.2 -2 3.3 -4 7.9 -6c4.5 -2 10.5 -4 15.1 -6c4.5 -2 7.6 -4 7.8 -6c0.3 -2 -2.4 -4 -6.5 -6c-4.1 -2 -9.6 -4 -13.7 -6c-4.2 -2 -6.8 -4 -6.6 -6.1c0.3 -2 3.4 -4 7.9 -6c4.6 -2 10.6 -4 15.2 -6c4.6 -2 7.7 -4 7.9 -6c0.2 -2 -2.4 -4 -6.5 -6c-4.1 -2 -9.6 -4 -13.7 -6c-4.1 -2 -6.7 -4 -6.5 -6c0.2 -2 3.3 -4 8 -6c4.6 -2 10.5 -4 15.1 -6c4.6 -2 7.7 -4 8 -6c0.2 -2 -2.4 -4 -6.5 -6c-0.7 -0.4 -1.5 -0.7 -2.3 -1.1" stroke="#00f" stroke-width="1.25"/>
<path d="M194.7 757.8c-3.4 -1.4 -7.1 -2.9 -10.1 -4.3c-4.2 -2 -6.9 -4 -6.8 -6.1c0.2 -2 3.2 -4 7.7 -6c4.5 -2 10.4 -4 14.9 -6c4.5 -2 7.5 -4 7.7 -6c0.1 -2.1 -2.5 -4.1 -6.7 -6.1c-4.2 -2 -9.8 -4 -14 -6c-4.2 -2 -6.9 -4 -6.7 -6c0.2 -2 3.2 -4.1 7.7 -6.1c4.6 -2 10.4 -4 15 -6c4.5 -2 7.5 -4 7.7 -6c0.2 -2 -2.5 -4 -6.7 -6.1c-4.2 -2 -9.7 -4 -13.9 -6c-4.2 -2 -6.8 -4 -6.7 -6c0.2 -2 3.3 -4 7.8 -6c4.5 -2 10.4 -4 15 -6.1c4.5 -2 7.6 -4 7.8 -6c0.1 -2 -2.5 -4 -6.7 -6c-4.2 -2 -9.7 -4 -13.9 -6c-4.1 -2 -6.8 -4 -6.6 -6.1c0.2 -2 3.2 -4 7.8 -6c4.6 -2 10.5 -4 15 -6c4.6 -2 7.6 -4 7.8 -6c0.2 -2 -2.4 -4 -6.6 -6c-4.1 -2 -9.6 -4 -13.8 -6.1c-4.2 -2 -6.8 -4 -6.6 -6c0.2 -2 3.3 -4 7.8 -6c4.6 -2 10.5 -4 15.1 -6c4.6 -2 7.6 -4 7.8 -6c0.2 -2 -2.4 -4 -6.5 -6c-4.2 -2 -9.7 -4.1 -13.8 -6.1c-4.2 -2 -6.8 -4 -6.6 -6c0.2 -2 3.3 -4 7.9 -6c4.6 -2 10.5 -4 15.1 -6c4.6 -2 7.6 -4 7.9 -6c0.2 -2 -2.4 -4 -6.6 -6c-4.1 -2 -9.6 -4 -13.7 -6c-4.2 -2 -6.8 -4 -6.6 -6.1c0.3 -2 3.4 -4 8 -6c4.6 -2 10.5 -4 15.1 -6c4.6 -2 7.7 -4 7.9 -6c0.2 -2 -2.4 -4 -6.5 -6c-4.1 -2 -9.6 -4 -13.7 -6c-4.1 -2 -6.7 -4 -6.5 -6c0.3 -2 3.4 -4 8 -6c4.6 -2 10.5 -4 15.1 -6c4.6 -2 7.7 -4 8 -6c0.2 -2 -2.4 -4 -6.5 -6c-0.7 -0.4 -1.5 -0.7 -2.3 -1.1" stroke="#00f" stroke-width="1.25"/>
<path d="M218 757.8c-3.4 -1.4 -7.1 -2.9 -10.1 -4.3c-4.2 -2 -6.9 -4 -6.8 -6.1c0.2 -2 3.2 -4 7.7 -6c4.5 -2 10.4 -4 14.9 -6c4.5 -2 7.5 -4 7.7 -6c0.2 -2.1 -2.5 -4.1 -6.7 -6.1c-4.2 -2 -9.8 -4 -14 -6c-4.2 -2 -6.8 -4 -6.7 -6c0.2 -2 3.2 -4.1 7.7 -6.1c4.6 -2 10.5 -4 15 -6c4.5 -2 7.5 -4 7.7 -6c0.2 -2 -2.5 -4 -6.7 -6.1c-4.2 -2 -9.7 -4 -13.9 -6c-4.1 -2 -6.8 -4 -6.6 -6c0.1 -2 3.2 -4 7.7 -6c4.6 -2 10.4 -4 15 -6.1c4.5 -2 7.6 -4 7.8 -6c0.2 -2 -2.5 -4 -6.7 -6c-4.2 -2 -9.7 -4 -13.8 -6c-4.2 -2 -6.9 -4 -6.7 -6.1c0.2 -2 3.3 -4 7.8 -6c4.6 -2 10.5 -4 15 -6c4.6 -2 7.6 -4 7.8 -6c0.2 -2 -2.4 -4 -6.6 -6c-4.1 -2 -9.6 -4 -13.8 -6.1c-4.2 -2 -6.8 -4 -6.6 -6c0.2 -2 3.3 -4 7.8 -6c4.6 -2 10.5 -4 15.1 -6c4.6 -2 7.6 -4 7.8 -6c0.3 -2 -2.4 -4 -6.5 -6c-4.2 -2 -9.7 -4.1 -13.8 -6.1c-4.2 -2 -6.8 -4 -6.6 -6c0.2 -2 3.3 -4 7.9 -6c4.6 -2 10.5 -4 15.1 -6c4.6 -2 7.6 -4 7.9 -6c0.2 -2 -2.4 -4 -6.6 -6c-4.1 -2 -9.6 -4 -13.7 -6c-4.1 -2 -6.8 -4 -6.5 -6.1c0.2 -2 3.3 -4 7.9 -6c4.6 -2 10.5 -4 15.1 -6c4.6 -2 7.7 -4 7.9 -6c0.3 -2 -2.4 -4 -6.5 -6c-4.1 -2 -9.6 -4 -13.7 -6c-4.1 -2 -6.7 -4 -6.5 -6c0.3 -2 3.4 -4 8 -6c4.6 -2 10.5 -4 15.1 -6c4.7 -2 7.8 -4 8 -6c0.3 -2 -2.3 -4 -6.5 -6c-0.7 -0.4 -1.5 -0.7 -2.3 -1.1" stroke="#00f" stroke-width="1.25"/>
<path d="M241.3 757.8c-3.4 -1.4 -7.1 -2.9 -10.1 -4.3c-4.2 -2 -6.9 -4 -6.8 -6.1c0.2 -2 3.2 -4 7.7 -6c4.5 -2 10.4 -4 14.9 -6c4.5 -2 7.6 -4 7.7 -6c0.2 -2.1 -2.5 -4.1 -6.7 -6.1c-4.2 -2 -9.7 -4 -13.9 -6c-4.2 -2 -6.9 -4 -6.8 -6c0.2 -2 3.2 -4.1 7.8 -6.1c4.5 -2 10.4 -4 14.9 -6c4.5 -2 7.6 -4 7.7 -6c0.2 -2 -2.5 -4 -6.7 -6.1c-4.1 -2 -9.7 -4 -13.9 -6c-4.1 -2 -6.8 -4 -6.6 -6c0.2 -2 3.2 -4 7.7 -6c4.6 -2 10.5 -4 15 -6.1c4.6 -2 7.6 -4 7.8 -6c0.2 -2 -2.5 -4 -6.7 -6c-4.1 -2 -9.7 -4 -13.8 -6c-4.2 -2 -6.9 -4 -6.7 -6.1c0.2 -2 3.3 -4 7.8 -6c4.6 -2 10.5 -4 15 -6c4.6 -2 7.7 -4 7.9 -6c0.2 -2 -2.5 -4 -6.7 -6c-4.1 -2 -9.6 -4 -13.8 -6.1c-4.1 -2 -6.8 -4 -6.6 -6c0.2 -2 3.3 -4 7.9 -6c4.5 -2 10.4 -4 15 -6c4.6 -2 7.6 -4 7.9 -6c0.2 -2 -2.5 -4 -6.6 -6c-4.2 -2 -9.7 -4.1 -13.8 -6.1c-4.1 -2 -6.8 -4 -6.6 -6c0.3 -2 3.3 -4 7.9 -6c4.6 -2 10.5 -4 15.1 -6c4.6 -2 7.7 -4 7.9 -6c0.2 -2 -2.4 -4 -6.6 -6c-4.1 -2 -9.6 -4 -13.7 -6c-4.1 -2 -6.8 -4 -6.5 -6.1c0.2 -2 3.3 -4 7.9 -6c4.6 -2 10.5 -4 15.1 -6c4.6 -2 7.7 -4 7.9 -6c0.3 -2 -2.3 -4 -6.5 -6c-4.1 -2 -9.5 -4 -13.7 -6c-4.1 -2 -6.7 -4 -6.5 -6c0.3 -2 3.4 -4 8 -6c4.6 -2 10.6 -4 15.2 -6c4.6 -2 7.7 -4 7.9 -6c0.3 -2 -2.3 -4 -6.4 -6c-0.8 -0.4 -1.6 -0.7 -2.4 -1.1" stroke="#00f" stroke-width="1.25"/>
<path d="M264.6 757.8c-3.4 -1.4 -7.1 -2.9 -10.1 -4.3c-4.2 -2 -6.9 -4 -6.7 -6.1c0.1 -2 3.1 -4 7.6 -6c4.6 -2 10.4 -4 14.9 -6c4.6 -2 7.6 -4 7.7 -6c0.2 -2.1 -2.5 -4.1 -6.7 -6.1c-4.2 -2 -9.7 -4 -13.9 -6c-4.2 -2 -6.9 -4 -6.7 -6c0.1 -2 3.1 -4.1 7.7 -6.1c4.5 -2 10.4 -4 14.9 -6c4.5 -2 7.6 -4 7.7 -6c0.2 -2 -2.5 -4 -6.6 -6.1c-4.2 -2 -9.8 -4 -13.9 -6c-4.2 -2 -6.9 -4 -6.7 -6c0.2 -2 3.2 -4 7.7 -6c4.6 -2 10.5 -4 15 -6.1c4.6 -2 7.6 -4 7.8 -6c0.2 -2 -2.5 -4 -6.7 -6c-4.1 -2 -9.6 -4 -13.8 -6c-4.2 -2 -6.8 -4 -6.7 -6.1c0.2 -2 3.3 -4 7.8 -6c4.6 -2 10.5 -4 15.1 -6c4.5 -2 7.6 -4 7.8 -6c0.2 -2 -2.5 -4 -6.6 -6c-4.2 -2 -9.7 -4 -13.9 -6.1c-4.1 -2 -6.8 -4 -6.6 -6c0.2 -2 3.3 -4 7.9 -6c4.5 -2 10.5 -4 15 -6c4.6 -2 7.7 -4 7.9 -6c0.2 -2 -2.5 -4 -6.6 -6c-4.2 -2 -9.6 -4.1 -13.8 -6.1c-4.1 -2 -6.8 -4 -6.5 -6c0.2 -2 3.2 -4 7.8 -6c4.6 -2 10.5 -4 15.1 -6c4.6 -2 7.7 -4 7.9 -6c0.2 -2 -2.4 -4 -6.5 -6c-4.2 -2 -9.6 -4 -13.8 -6c-4.1 -2 -6.7 -4 -6.5 -6.1c0.2 -2 3.3 -4 7.9 -6c4.6 -2 10.5 -4 15.1 -6c4.6 -2 7.7 -4 8 -6c0.2 -2 -2.4 -4 -6.5 -6c-4.2 -2 -9.6 -4 -13.7 -6c-4.2 -2 -6.8 -4 -6.5 -6c0.2 -2 3.3 -4 7.9 -6c4.6 -2 10.6 -4 15.2 -6c4.6 -2 7.7 -4 7.9 -6c0.3 -2 -2.3 -4 -6.4 -6c-0.8 -0.4 -1.5 -0.7 -2.4 -1.1" stroke="#00f" stroke-width="1.25"/>
</g></g>
<rect x="59.6" y="469.5" width="245.7" height="288.3" fill="none" stroke="#1a1a1a" stroke-width="1.5"/>
<path d="M59.6 757.8 v-3.4 M59.6 469.5 v3.4 M131.7 757.8 v-3.4 M131.7 469.5 v3.4 M203.9 757.8 v-3.4 M203.9 469.5 v3.4 M276 757.8 v-3.4 M276 469.5 v3.4 M59.6 757.8 h3.4 M305.3 757.8 h-3.4 M59.6 685.7 h3.4 M305.3 685.7 h-3.4 M59.6 613.6 h3.4 M305.3 613.6 h-3.4 M59.6 541.6 h3.4 M305.3 541.6 h-3.4 M59.6 469.5 h3.4 M305.3 469.5 h-3.4" stroke="#1a1a1a" stroke-width="1.4" fill="none"/>
<g font-size="18.9">
<text x="59.6" y="782" text-anchor="middle">-4</text>
<text x="131.7" y="782" text-anchor="middle">-3.95</text>
<text x="203.9" y="782" text-anchor="middle">-3.9</text>
<text x="276" y="782" text-anchor="middle">-3.85</text>
<text x="52.4" y="765.6" text-anchor="end">0.3</text>
<text x="52.4" y="693.5" text-anchor="end">0.35</text>
<text x="52.4" y="621.4" text-anchor="end">0.4</text>
<text x="52.4" y="549.4" text-anchor="end">0.45</text>
<text x="52.4" y="477.3" text-anchor="end">0.5</text>
<text x="197.7" y="807.8" font-size="21.1" text-anchor="middle"><tspan font-style="italic">x</tspan> (mm)</text>
<text transform="translate(16 617) rotate(-90)" font-size="21.1" text-anchor="middle"><tspan font-style="italic">y</tspan> (mm)</text>
</g>
<text x="9" y="454" font-size="24">(c)</text>
<text x="267.3" y="656.8" font-size="15.5">Tooth <tspan font-style="italic">i</tspan></text>
<text x="252.3" y="717.8" font-size="15.5">Tooth <tspan font-style="italic">i</tspan>+1</text>
<path d="M292.9 641.1 L284.9 631.3" stroke="#000" stroke-width="1.5" fill="none"/><polygon points="281,626.5 290.3,631.9 284.9,631.3 284.4,636.7" fill="#000"/>
<path d="M284.6 702.7 L272.3 694.3" stroke="#000" stroke-width="1.5" fill="none"/><polygon points="267.2,690.8 277.6,693.3 272.3,694.3 273.3,699.6" fill="#000"/>
<clipPath id="c3"><rect x="386.7" y="473" width="283.4" height="283"/></clipPath>
<g clip-path="url(#c3)" fill="none" stroke-linejoin="round"><g>
<path d="M436.1 756c-4.2 -1 -9.5 -1.9 -13.5 -2.9c-4.2 -0.9 -7 -1.9 -6.9 -2.9c0.1 -1 3 -2 7.3 -3c4.4 -1 10.1 -1.9 14.4 -2.9c4.4 -1 7.3 -2 7.3 -3c0.1 -1 -2.6 -2 -6.8 -2.9c-4.2 -1 -9.7 -2 -14 -3c-4.2 -1 -6.9 -2 -6.8 -3c0.1 -0.9 3 -1.9 7.3 -2.9c4.4 -1 10.1 -2 14.4 -3c4.4 -1 7.3 -1.9 7.4 -2.9c0 -1 -2.7 -2 -6.9 -3c-4.2 -1 -9.7 -2 -13.9 -2.9c-4.2 -1 -6.9 -2 -6.9 -3c0.1 -1 3 -2 7.4 -3c4.3 -0.9 10 -1.9 14.4 -2.9c4.4 -1 7.2 -2 7.3 -3c0.1 -1 -2.6 -1.9 -6.8 -2.9c-4.2 -1 -9.7 -2 -13.9 -3c-4.2 -1 -7 -2 -6.9 -2.9c0.1 -1 3 -2 7.4 -3c4.3 -1 10 -2 14.4 -3c4.4 -0.9 7.3 -1.9 7.3 -2.9c0.1 -1 -2.6 -2 -6.8 -3c-4.2 -1 -9.7 -1.9 -13.9 -2.9c-4.2 -1 -6.9 -2 -6.8 -3c0.1 -1 3 -1.9 7.3 -2.9c4.4 -1 10.1 -2 14.5 -3c4.3 -1 7.2 -2 7.3 -2.9c0.1 -1 -2.6 -2 -6.8 -3c-4.2 -1 -9.7 -2 -13.9 -3c-4.2 -0.9 -6.9 -1.9 -6.8 -2.9c0.1 -1 3 -2 7.3 -3c4.4 -0.9 10.1 -1.9 14.5 -2.9c4.4 -1 7.3 -2 7.4 -3c0 -1 -2.7 -1.9 -6.9 -2.9c-4.1 -1 -9.7 -2 -13.8 -3c-4.2 -1 -6.9 -1.9 -6.8 -2.9c0 -1 2.9 -2 7.3 -3c4.4 -1 10.1 -2 14.5 -2.9c4.4 -1 7.3 -2 7.3 -3c0.1 -1 -2.6 -2 -6.8 -2.9c-4.1 -1 -9.6 -2 -13.8 -3c-4.2 -1 -6.9 -2 -6.8 -3c0.1 -0.9 3 -1.9 7.3 -2.9c4.4 -1 10.1 -2 14.5 -3c4.4 -0.9 7.3 -1.9 7.4 -2.9c0.1 -1 -2.6 -2 -6.8 -3c-4.2 -0.9 -9.7 -1.9 -13.9 -2.9c-4.2 -1 -6.9 -2 -6.8 -3c0.1 -1 3 -1.9 7.4 -2.9c4.4 -1 10.1 -2 14.5 -3c4.4 -1 7.3 -1.9 7.4 -2.9c0.1 -1 -2.6 -2 -6.8 -3c-4.2 -1 -9.7 -1.9 -13.8 -2.9c-4.2 -1 -6.9 -2 -6.8 -3c0.1 -1 3 -1.9 7.4 -2.9c4.4 -1 10.1 -2 14.5 -3c4.3 -1 7.2 -1.9 7.4 -2.9c0.1 -1 -2.6 -2 -6.8 -3c-4.2 -1 -9.7 -1.9 -13.9 -2.9c-4.1 -1 -6.8 -2 -6.7 -3c0.1 -1 3 -1.9 7.4 -2.9c4.4 -1 10.1 -2 14.5 -3c4.3 -1 7.3 -1.9 7.4 -2.9c0.1 -1 -2.6 -2 -6.8 -3c-4.2 -1 -9.7 -1.9 -13.8 -2.9c-4.2 -1 -6.9 -2 -6.8 -3c0.1 -1 3 -1.9 7.4 -2.9c4.4 -1 10.1 -2 14.5 -3c4.4 -1 7.3 -1.9 7.4 -2.9c0.1 -1 -2.5 -2 -6.7 -3c-4.2 -1 -9.7 -1.9 -13.9 -2.9c-4.1 -1 -6.8 -2 -6.7 -3c0.1 -0.9 3 -1.9 7.4 -2.9c4.4 -1 10.1 -2 14.5 -3c4.4 -0.9 7.3 -1.9 7.5 -2.9c0.1 -1 -2.6 -2 -6.8 -3c-4.1 -0.9 -9.6 -1.9 -13.8 -2.9c-4.2 -1 -6.9 -2 -6.7 -3c0.1 -0.9 3 -1.9 7.4 -2.9c4.4 -1 10.1 -2 14.5 -2.9c4.4 -1 7.3 -2 7.4 -3c0.2 -1 -2.5 -2 -6.7 -2.9c-4.2 -1 -9.6 -2 -13.8 -3c-4.2 -1 -6.9 -1.9 -6.7 -2.9c0.1 -1 3 -2 7.4 -3c4.4 -1 10.1 -1.9 14.5 -2.9c4.4 -1 7.4 -2 7.5 -3c0.1 -0.9 -2.6 -1.9 -6.7 -2.9c-4.2 -1 -9.7 -2 -13.9 -3c-4.1 -0.9 -6.8 -1.9 -6.7 -2.9c0.1 -1 3.1 -2 7.5 -2.9c4.4 -1 10.1 -2 14.5 -3c4.4 -1 7.3 -2 7.5 -2.9c0.1 -0.9 -2.1 -1.8 -5.6 -2.7" stroke="#f00" stroke-width="1.15"/>
<path d="M492.7 756c-4.1 -1 -9.4 -1.9 -13.4 -2.9c-4.3 -0.9 -7 -1.9 -6.9 -2.9c0.1 -1 2.9 -2 7.3 -3c4.4 -1 10 -1.9 14.4 -2.9c4.4 -1 7.2 -2 7.3 -3c0.1 -1 -2.6 -2 -6.8 -2.9c-4.2 -1 -9.8 -2 -14 -3c-4.2 -1 -6.9 -2 -6.8 -3c0.1 -0.9 2.9 -1.9 7.3 -2.9c4.4 -1 10 -2 14.4 -3c4.4 -1 7.3 -1.9 7.3 -2.9c0.1 -1 -2.6 -2 -6.8 -3c-4.2 -1 -9.7 -2 -13.9 -2.9c-4.2 -1 -7 -2 -6.9 -3c0.1 -1 3 -2 7.3 -3c4.4 -0.9 10.1 -1.9 14.5 -2.9c4.3 -1 7.2 -2 7.3 -3c0.1 -1 -2.6 -1.9 -6.8 -2.9c-4.2 -1 -9.8 -2 -14 -3c-4.2 -1 -6.9 -2 -6.8 -2.9c0.1 -1 3 -2 7.4 -3c4.3 -1 10 -2 14.4 -3c4.3 -0.9 7.2 -1.9 7.3 -2.9c0.1 -1 -2.6 -2 -6.8 -3c-4.2 -1 -9.7 -1.9 -13.9 -2.9c-4.2 -1 -6.9 -2 -6.8 -3c0.1 -1 2.9 -1.9 7.3 -2.9c4.4 -1 10.1 -2 14.4 -3c4.4 -1 7.3 -2 7.4 -2.9c0.1 -1 -2.6 -2 -6.8 -3c-4.2 -1 -9.7 -2 -13.9 -3c-4.2 -0.9 -6.9 -1.9 -6.8 -2.9c0.1 -1 3 -2 7.3 -3c4.4 -0.9 10.1 -1.9 14.5 -2.9c4.3 -1 7.2 -2 7.3 -3c0.1 -1 -2.6 -1.9 -6.8 -2.9c-4.2 -1 -9.7 -2 -13.9 -3c-4.2 -1 -6.9 -1.9 -6.8 -2.9c0.1 -1 3 -2 7.4 -3c4.4 -1 10.1 -2 14.5 -2.9c4.3 -1 7.2 -2 7.3 -3c0.1 -1 -2.6 -2 -6.8 -2.9c-4.2 -1 -9.7 -2 -13.9 -3c-4.1 -1 -6.8 -2 -6.7 -3c0 -0.9 2.9 -1.9 7.3 -2.9c4.4 -1 10.1 -2 14.5 -3c4.4 -0.9 7.3 -1.9 7.4 -2.9c0.1 -1 -2.6 -2 -6.8 -3c-4.2 -0.9 -9.7 -1.9 -13.9 -2.9c-4.2 -1 -6.9 -2 -6.8 -3c0.1 -1 3 -1.9 7.4 -2.9c4.4 -1 10.1 -2 14.5 -3c4.4 -1 7.3 -1.9 7.4 -2.9c0.1 -1 -2.6 -2 -6.8 -3c-4.2 -1 -9.7 -1.9 -13.9 -2.9c-4.1 -1 -6.8 -2 -6.7 -3c0.1 -1 3 -1.9 7.4 -2.9c4.3 -1 10 -2 14.4 -3c4.4 -1 7.3 -1.9 7.4 -2.9c0.1 -1 -2.6 -2 -6.7 -3c-4.2 -1 -9.7 -1.9 -13.9 -2.9c-4.2 -1 -6.9 -2 -6.8 -3c0.1 -1 3.1 -1.9 7.4 -2.9c4.4 -1 10.1 -2 14.5 -3c4.4 -1 7.3 -1.9 7.4 -2.9c0.2 -1 -2.5 -2 -6.7 -3c-4.2 -1 -9.7 -1.9 -13.9 -2.9c-4.1 -1 -6.8 -2 -6.7 -3c0.1 -1 3 -1.9 7.4 -2.9c4.4 -1 10.1 -2 14.5 -3c4.4 -1 7.3 -1.9 7.4 -2.9c0.1 -1 -2.6 -2 -6.7 -3c-4.2 -1 -9.7 -1.9 -13.9 -2.9c-4.1 -1 -6.8 -2 -6.7 -3c0.1 -0.9 3 -1.9 7.4 -2.9c4.4 -1 10.1 -2 14.5 -3c4.4 -0.9 7.3 -1.9 7.4 -2.9c0.2 -1 -2.5 -2 -6.7 -3c-4.2 -0.9 -9.7 -1.9 -13.8 -2.9c-4.2 -1 -6.9 -2 -6.8 -3c0.2 -0.9 3.1 -1.9 7.5 -2.9c4.4 -1 10.1 -2 14.5 -2.9c4.4 -1 7.3 -2 7.4 -3c0.1 -1 -2.5 -2 -6.7 -2.9c-4.2 -1 -9.7 -2 -13.8 -3c-4.2 -1 -6.9 -1.9 -6.8 -2.9c0.2 -1 3.1 -2 7.5 -3c4.4 -1 10.1 -1.9 14.5 -2.9c4.4 -1 7.3 -2 7.5 -3c0.1 -0.9 -2.6 -1.9 -6.8 -2.9c-4.1 -1 -9.6 -2 -13.8 -3c-4.1 -0.9 -6.8 -1.9 -6.7 -2.9c0.1 -1 3.1 -2 7.5 -2.9c4.4 -1 10.1 -2 14.5 -3c4.4 -1 7.3 -2 7.5 -2.9c0.1 -0.9 -2.1 -1.8 -5.6 -2.7" stroke="#f00" stroke-width="1.15"/>
<path d="M549.4 756c-4.1 -1 -9.4 -1.9 -13.5 -2.9c-4.2 -0.9 -6.9 -1.9 -6.8 -2.9c0.1 -1 2.9 -2 7.3 -3c4.3 -1 10 -1.9 14.4 -2.9c4.3 -1 7.2 -2 7.3 -3c0.1 -1 -2.6 -2 -6.9 -2.9c-4.2 -1 -9.7 -2 -13.9 -3c-4.2 -1 -6.9 -2 -6.8 -3c0 -0.9 2.9 -1.9 7.3 -2.9c4.3 -1 10 -2 14.4 -3c4.4 -1 7.2 -1.9 7.3 -2.9c0.1 -1 -2.6 -2 -6.8 -3c-4.2 -1 -9.8 -2 -14 -2.9c-4.2 -1 -6.9 -2 -6.8 -3c0.1 -1 3 -2 7.3 -3c4.4 -0.9 10.1 -1.9 14.4 -2.9c4.4 -1 7.3 -2 7.4 -3c0.1 -1 -2.7 -1.9 -6.9 -2.9c-4.2 -1 -9.7 -2 -13.9 -3c-4.2 -1 -6.9 -2 -6.8 -2.9c0.1 -1 3 -2 7.3 -3c4.4 -1 10.1 -2 14.5 -3c4.3 -0.9 7.2 -1.9 7.3 -2.9c0.1 -1 -2.6 -2 -6.8 -3c-4.2 -1 -9.7 -1.9 -13.9 -2.9c-4.2 -1 -6.9 -2 -6.9 -3c0.1 -1 3 -1.9 7.4 -2.9c4.4 -1 10.1 -2 14.4 -3c4.4 -1 7.3 -2 7.4 -2.9c0.1 -1 -2.6 -2 -6.8 -3c-4.2 -1 -9.7 -2 -13.9 -3c-4.2 -0.9 -6.9 -1.9 -6.8 -2.9c0 -1 2.9 -2 7.3 -3c4.4 -0.9 10.1 -1.9 14.5 -2.9c4.3 -1 7.2 -2 7.3 -3c0.1 -1 -2.6 -1.9 -6.8 -2.9c-4.2 -1 -9.7 -2 -13.9 -3c-4.2 -1 -6.9 -1.9 -6.8 -2.9c0.1 -1 3 -2 7.4 -3c4.4 -1 10.1 -2 14.4 -2.9c4.4 -1 7.3 -2 7.4 -3c0.1 -1 -2.6 -2 -6.8 -2.9c-4.2 -1 -9.7 -2 -13.9 -3c-4.2 -1 -6.9 -2 -6.8 -3c0.1 -0.9 3 -1.9 7.4 -2.9c4.4 -1 10.1 -2 14.5 -3c4.4 -0.9 7.3 -1.9 7.4 -2.9c0.1 -1 -2.7 -2 -6.8 -3c-4.2 -0.9 -9.7 -1.9 -13.9 -2.9c-4.2 -1 -6.9 -2 -6.8 -3c0.1 -1 3 -1.9 7.4 -2.9c4.4 -1 10.1 -2 14.5 -3c4.4 -1 7.3 -1.9 7.4 -2.9c0.1 -1 -2.6 -2 -6.8 -3c-4.2 -1 -9.7 -1.9 -13.9 -2.9c-4.2 -1 -6.9 -2 -6.8 -3c0.1 -1 3 -1.9 7.4 -2.9c4.4 -1 10.1 -2 14.5 -3c4.4 -1 7.3 -1.9 7.4 -2.9c0.1 -1 -2.6 -2 -6.8 -3c-4.1 -1 -9.6 -1.9 -13.8 -2.9c-4.2 -1 -6.9 -2 -6.8 -3c0.1 -1 3 -1.9 7.4 -2.9c4.4 -1 10.1 -2 14.5 -3c4.4 -1 7.3 -1.9 7.4 -2.9c0.1 -1 -2.6 -2 -6.7 -3c-4.2 -1 -9.7 -1.9 -13.9 -2.9c-4.2 -1 -6.8 -2 -6.7 -3c0.1 -1 3 -1.9 7.4 -2.9c4.4 -1 10.1 -2 14.5 -3c4.4 -1 7.3 -1.9 7.4 -2.9c0.1 -1 -2.6 -2 -6.8 -3c-4.1 -1 -9.6 -1.9 -13.8 -2.9c-4.2 -1 -6.9 -2 -6.7 -3c0.1 -0.9 3 -1.9 7.4 -2.9c4.4 -1 10.1 -2 14.5 -3c4.4 -0.9 7.3 -1.9 7.4 -2.9c0.1 -1 -2.6 -2 -6.7 -3c-4.2 -0.9 -9.7 -1.9 -13.8 -2.9c-4.2 -1 -6.9 -2 -6.8 -3c0.1 -0.9 3 -1.9 7.4 -2.9c4.4 -1 10.2 -2 14.6 -2.9c4.4 -1 7.3 -2 7.4 -3c0.1 -1 -2.6 -2 -6.7 -2.9c-4.2 -1 -9.7 -2 -13.8 -3c-4.2 -1 -6.9 -1.9 -6.8 -2.9c0.1 -1 3.1 -2 7.5 -3c4.4 -1 10.1 -1.9 14.5 -2.9c4.4 -1 7.3 -2 7.4 -3c0.2 -0.9 -2.5 -1.9 -6.7 -2.9c-4.1 -1 -9.6 -2 -13.8 -3c-4.2 -0.9 -6.8 -1.9 -6.7 -2.9c0.1 -1 3 -2 7.4 -2.9c4.4 -1 10.2 -2 14.6 -3c4.4 -1 7.3 -2 7.4 -2.9c0.1 -0.9 -2 -1.8 -5.5 -2.7" stroke="#f00" stroke-width="1.15"/>
<path d="M606.1 756c-4.1 -1 -9.4 -1.9 -13.5 -2.9c-4.2 -0.9 -6.9 -1.9 -6.8 -2.9c0 -1 2.9 -2 7.3 -3c4.3 -1 10 -1.9 14.4 -2.9c4.3 -1 7.2 -2 7.3 -3c0.1 -1 -2.7 -2 -6.9 -2.9c-4.2 -1 -9.7 -2 -13.9 -3c-4.2 -1 -6.9 -2 -6.9 -3c0.1 -0.9 3 -1.9 7.4 -2.9c4.3 -1 10 -2 14.4 -3c4.3 -1 7.2 -1.9 7.3 -2.9c0.1 -1 -2.6 -2 -6.9 -3c-4.2 -1 -9.7 -2 -13.9 -2.9c-4.2 -1 -6.9 -2 -6.8 -3c0.1 -1 2.9 -2 7.3 -3c4.4 -0.9 10.1 -1.9 14.4 -2.9c4.4 -1 7.3 -2 7.4 -3c0 -1 -2.7 -1.9 -6.9 -2.9c-4.2 -1 -9.7 -2 -13.9 -3c-4.2 -1 -6.9 -2 -6.8 -2.9c0.1 -1 2.9 -2 7.3 -3c4.4 -1 10.1 -2 14.4 -3c4.4 -0.9 7.3 -1.9 7.4 -2.9c0.1 -1 -2.6 -2 -6.8 -3c-4.2 -1 -9.8 -1.9 -14 -2.9c-4.1 -1 -6.9 -2 -6.8 -3c0.1 -1 3 -1.9 7.4 -2.9c4.3 -1 10 -2 14.4 -3c4.4 -1 7.3 -2 7.4 -2.9c0.1 -1 -2.7 -2 -6.9 -3c-4.1 -1 -9.7 -2 -13.9 -3c-4.1 -0.9 -6.9 -1.9 -6.8 -2.9c0.1 -1 3 -2 7.4 -3c4.4 -0.9 10.1 -1.9 14.4 -2.9c4.4 -1 7.3 -2 7.4 -3c0.1 -1 -2.6 -1.9 -6.8 -2.9c-4.2 -1 -9.7 -2 -13.9 -3c-4.2 -1 -6.9 -1.9 -6.8 -2.9c0.1 -1 3 -2 7.4 -3c4.3 -1 10 -2 14.4 -2.9c4.4 -1 7.3 -2 7.4 -3c0.1 -1 -2.6 -2 -6.8 -2.9c-4.2 -1 -9.7 -2 -13.9 -3c-4.2 -1 -6.9 -2 -6.8 -3c0.1 -0.9 3 -1.9 7.4 -2.9c4.4 -1 10.1 -2 14.5 -3c4.3 -0.9 7.2 -1.9 7.3 -2.9c0.1 -1 -2.6 -2 -6.8 -3c-4.1 -0.9 -9.6 -1.9 -13.8 -2.9c-4.2 -1 -6.9 -2 -6.8 -3c0.1 -1 3 -1.9 7.4 -2.9c4.4 -1 10.1 -2 14.4 -3c4.4 -1 7.3 -1.9 7.4 -2.9c0.1 -1 -2.6 -2 -6.7 -3c-4.2 -1 -9.7 -1.9 -13.9 -2.9c-4.2 -1 -6.9 -2 -6.8 -3c0.1 -1 3 -1.9 7.4 -2.9c4.4 -1 10.1 -2 14.5 -3c4.4 -1 7.3 -1.9 7.4 -2.9c0.1 -1 -2.6 -2 -6.8 -3c-4.2 -1 -9.7 -1.9 -13.8 -2.9c-4.2 -1 -6.9 -2 -6.8 -3c0.1 -1 3 -1.9 7.4 -2.9c4.4 -1 10.1 -2 14.5 -3c4.4 -1 7.3 -1.9 7.4 -2.9c0.1 -1 -2.6 -2 -6.8 -3c-4.1 -1 -9.6 -1.9 -13.8 -2.9c-4.2 -1 -6.9 -2 -6.8 -3c0.2 -1 3.1 -1.9 7.5 -2.9c4.4 -1 10.1 -2 14.5 -3c4.4 -1 7.3 -1.9 7.4 -2.9c0.1 -1 -2.6 -2 -6.8 -3c-4.1 -1 -9.6 -1.9 -13.8 -2.9c-4.2 -1 -6.9 -2 -6.8 -3c0.2 -0.9 3.1 -1.9 7.5 -2.9c4.4 -1 10.1 -2 14.5 -3c4.4 -0.9 7.3 -1.9 7.4 -2.9c0.1 -1 -2.6 -2 -6.7 -3c-4.2 -0.9 -9.7 -1.9 -13.9 -2.9c-4.1 -1 -6.8 -2 -6.7 -3c0.1 -0.9 3 -1.9 7.4 -2.9c4.4 -1 10.1 -2 14.5 -2.9c4.4 -1 7.4 -2 7.5 -3c0.1 -1 -2.6 -2 -6.8 -2.9c-4.1 -1 -9.6 -2 -13.8 -3c-4.1 -1 -6.8 -1.9 -6.7 -2.9c0.1 -1 3 -2 7.4 -3c4.4 -1 10.2 -1.9 14.6 -2.9c4.4 -1 7.3 -2 7.4 -3c0.1 -0.9 -2.5 -1.9 -6.7 -2.9c-4.2 -1 -9.6 -2 -13.8 -3c-4.2 -0.9 -6.9 -1.9 -6.7 -2.9c0.1 -1 3 -2 7.4 -2.9c4.4 -1 10.2 -2 14.6 -3c4.4 -1 7.3 -2 7.4 -2.9c0.1 -0.9 -2 -1.8 -5.6 -2.7" stroke="#f00" stroke-width="1.15"/>
<path d="M464.4 756c-4.1 -1 -9.4 -1.9 -13.5 -2.9c-4.2 -0.9 -6.9 -1.9 -6.8 -2.9c0 -1 2.9 -2 7.3 -3c4.3 -1 10 -1.9 14.4 -2.9c4.3 -1 7.2 -2 7.3 -3c0.1 -1 -2.7 -2 -6.9 -2.9c-4.2 -1 -9.7 -2 -13.9 -3c-4.2 -1 -6.9 -2 -6.9 -3c0.1 -0.9 3 -1.9 7.4 -2.9c4.3 -1 10 -2 14.4 -3c4.3 -1 7.2 -1.9 7.3 -2.9c0.1 -1 -2.6 -2 -6.9 -3c-4.2 -1 -9.7 -2 -13.9 -2.9c-4.2 -1 -6.9 -2 -6.8 -3c0.1 -1 2.9 -2 7.3 -3c4.4 -0.9 10.1 -1.9 14.4 -2.9c4.4 -1 7.3 -2 7.4 -3c0 -1 -2.7 -1.9 -6.9 -2.9c-4.2 -1 -9.7 -2 -13.9 -3c-4.2 -1 -6.9 -2 -6.8 -2.9c0.1 -1 2.9 -2 7.3 -3c4.4 -1 10.1 -2 14.4 -3c4.4 -0.9 7.3 -1.9 7.4 -2.9c0.1 -1 -2.6 -2 -6.8 -3c-4.2 -1 -9.8 -1.9 -14 -2.9c-4.1 -1 -6.9 -2 -6.8 -3c0.1 -1 3 -1.9 7.4 -2.9c4.3 -1 10 -2 14.4 -3c4.4 -1 7.3 -2 7.4 -2.9c0.1 -1 -2.7 -2 -6.9 -3c-4.1 -1 -9.7 -2 -13.9 -3c-4.1 -0.9 -6.9 -1.9 -6.8 -2.9c0.1 -1 3 -2 7.4 -3c4.4 -0.9 10.1 -1.9 14.4 -2.9c4.4 -1 7.3 -2 7.4 -3c0.1 -1 -2.6 -1.9 -6.8 -2.9c-4.2 -1 -9.7 -2 -13.9 -3c-4.2 -1 -6.9 -1.9 -6.8 -2.9c0.1 -1 3 -2 7.4 -3c4.3 -1 10 -2 14.4 -2.9c4.4 -1 7.3 -2 7.4 -3c0.1 -1 -2.6 -2 -6.8 -2.9c-4.2 -1 -9.7 -2 -13.9 -3c-4.2 -1 -6.9 -2 -6.8 -3c0.1 -0.9 3 -1.9 7.4 -2.9c4.4 -1 10.1 -2 14.5 -3c4.3 -0.9 7.2 -1.9 7.3 -2.9c0.1 -1 -2.6 -2 -6.8 -3c-4.1 -0.9 -9.6 -1.9 -13.8 -2.9c-4.2 -1 -6.9 -2 -6.8 -3c0.1 -1 3 -1.9 7.4 -2.9c4.4 -1 10.1 -2 14.4 -3c4.4 -1 7.3 -1.9 7.4 -2.9c0.1 -1 -2.6 -2 -6.7 -3c-4.2 -1 -9.7 -1.9 -13.9 -2.9c-4.2 -1 -6.9 -2 -6.8 -3c0.1 -1 3 -1.9 7.4 -2.9c4.4 -1 10.1 -2 14.5 -3c4.4 -1 7.3 -1.9 7.4 -2.9c0.1 -1 -2.6 -2 -6.8 -3c-4.2 -1 -9.7 -1.9 -13.8 -2.9c-4.2 -1 -6.9 -2 -6.8 -3c0.1 -1 3 -1.9 7.4 -2.9c4.4 -1 10.1 -2 14.5 -3c4.4 -1 7.3 -1.9 7.4 -2.9c0.1 -1 -2.6 -2 -6.8 -3c-4.1 -1 -9.6 -1.9 -13.8 -2.9c-4.2 -1 -6.9 -2 -6.8 -3c0.2 -1 3.1 -1.9 7.5 -2.9c4.4 -1 10.1 -2 14.5 -3c4.4 -1 7.3 -1.9 7.4 -2.9c0.1 -1 -2.6 -2 -6.8 -3c-4.1 -1 -9.6 -1.9 -13.8 -2.9c-4.2 -1 -6.9 -2 -6.8 -3c0.2 -0.9 3.1 -1.9 7.5 -2.9c4.4 -1 10.1 -2 14.5 -3c4.4 -0.9 7.3 -1.9 7.4 -2.9c0.1 -1 -2.6 -2 -6.7 -3c-4.2 -0.9 -9.7 -1.9 -13.9 -2.9c-4.1 -1 -6.8 -2 -6.7 -3c0.1 -0.9 3 -1.9 7.4 -2.9c4.4 -1 10.1 -2 14.5 -2.9c4.4 -1 7.4 -2 7.5 -3c0.1 -1 -2.6 -2 -6.8 -2.9c-4.1 -1 -9.6 -2 -13.8 -3c-4.1 -1 -6.8 -1.9 -6.7 -2.9c0.1 -1 3 -2 7.4 -3c4.4 -1 10.2 -1.9 14.6 -2.9c4.4 -1 7.3 -2 7.4 -3c0.1 -0.9 -2.5 -1.9 -6.7 -2.9c-4.2 -1 -9.6 -2 -13.8 -3c-4.2 -0.9 -6.9 -1.9 -6.7 -2.9c0.1 -1 3 -2 7.4 -2.9c4.4 -1 10.2 -2 14.6 -3c4.4 -1 7.3 -2 7.4 -2.9c0.1 -0.9 -2 -1.8 -5.6 -2.7" stroke="#00f" stroke-width="1.15"/>
<path d="M521.1 756c-4.2 -1 -9.4 -1.9 -13.5 -2.9c-4.2 -0.9 -6.9 -1.9 -6.9 -2.9c0.1 -1 3 -2 7.3 -3c4.4 -1 10.1 -1.9 14.4 -2.9c4.4 -1 7.3 -2 7.4 -3c0 -1 -2.7 -2 -6.9 -2.9c-4.2 -1 -9.7 -2 -13.9 -3c-4.2 -1 -7 -2 -6.9 -3c0.1 -0.9 3 -1.9 7.3 -2.9c4.4 -1 10.1 -2 14.4 -3c4.4 -1 7.3 -1.9 7.4 -2.9c0.1 -1 -2.7 -2 -6.9 -3c-4.2 -1 -9.7 -2 -13.9 -2.9c-4.2 -1 -6.9 -2 -6.8 -3c0 -1 2.9 -2 7.3 -3c4.4 -0.9 10 -1.9 14.4 -2.9c4.4 -1 7.3 -2 7.3 -3c0.1 -1 -2.6 -1.9 -6.8 -2.9c-4.2 -1 -9.7 -2 -13.9 -3c-4.2 -1 -6.9 -2 -6.8 -2.9c0 -1 2.9 -2 7.3 -3c4.4 -1 10 -2 14.4 -3c4.4 -0.9 7.3 -1.9 7.4 -2.9c0 -1 -2.7 -2 -6.9 -3c-4.2 -1 -9.7 -1.9 -13.9 -2.9c-4.2 -1 -6.9 -2 -6.8 -3c0.1 -1 3 -1.9 7.4 -2.9c4.3 -1 10 -2 14.4 -3c4.4 -1 7.3 -2 7.3 -2.9c0.1 -1 -2.6 -2 -6.8 -3c-4.2 -1 -9.7 -2 -13.9 -3c-4.2 -0.9 -6.9 -1.9 -6.8 -2.9c0.1 -1 3 -2 7.4 -3c4.3 -0.9 10 -1.9 14.4 -2.9c4.4 -1 7.3 -2 7.4 -3c0.1 -1 -2.6 -1.9 -6.8 -2.9c-4.2 -1 -9.7 -2 -13.9 -3c-4.2 -1 -6.9 -1.9 -6.8 -2.9c0.1 -1 3 -2 7.3 -3c4.4 -1 10.1 -2 14.5 -2.9c4.4 -1 7.3 -2 7.4 -3c0.1 -1 -2.6 -2 -6.8 -2.9c-4.2 -1 -9.7 -2 -13.9 -3c-4.2 -1 -6.9 -2 -6.8 -3c0.1 -0.9 3 -1.9 7.4 -2.9c4.4 -1 10.1 -2 14.4 -3c4.4 -0.9 7.3 -1.9 7.4 -2.9c0.1 -1 -2.6 -2 -6.8 -3c-4.2 -0.9 -9.7 -1.9 -13.8 -2.9c-4.2 -1 -6.9 -2 -6.8 -3c0.1 -1 3 -1.9 7.4 -2.9c4.3 -1 10 -2 14.4 -3c4.4 -1 7.3 -1.9 7.4 -2.9c0.1 -1 -2.6 -2 -6.8 -3c-4.1 -1 -9.6 -1.9 -13.8 -2.9c-4.2 -1 -6.9 -2 -6.8 -3c0.1 -1 3 -1.9 7.4 -2.9c4.4 -1 10.1 -2 14.5 -3c4.4 -1 7.3 -1.9 7.4 -2.9c0.1 -1 -2.6 -2 -6.8 -3c-4.2 -1 -9.7 -1.9 -13.9 -2.9c-4.1 -1 -6.8 -2 -6.7 -3c0.1 -1 3 -1.9 7.4 -2.9c4.4 -1 10.1 -2 14.5 -3c4.4 -1 7.3 -1.9 7.4 -2.9c0.1 -1 -2.6 -2 -6.8 -3c-4.1 -1 -9.6 -1.9 -13.8 -2.9c-4.2 -1 -6.9 -2 -6.8 -3c0.1 -1 3 -1.9 7.4 -2.9c4.4 -1 10.1 -2 14.5 -3c4.4 -1 7.3 -1.9 7.5 -2.9c0.1 -1 -2.6 -2 -6.8 -3c-4.2 -1 -9.7 -1.9 -13.8 -2.9c-4.2 -1 -6.9 -2 -6.8 -3c0.1 -0.9 3 -1.9 7.4 -2.9c4.4 -1 10.2 -2 14.6 -3c4.4 -0.9 7.3 -1.9 7.4 -2.9c0.1 -1 -2.6 -2 -6.8 -3c-4.1 -0.9 -9.6 -1.9 -13.8 -2.9c-4.2 -1 -6.8 -2 -6.7 -3c0.1 -0.9 3 -1.9 7.4 -2.9c4.4 -1 10.1 -2 14.5 -2.9c4.4 -1 7.3 -2 7.5 -3c0.1 -1 -2.6 -2 -6.8 -2.9c-4.1 -1 -9.6 -2 -13.8 -3c-4.2 -1 -6.8 -1.9 -6.7 -2.9c0.1 -1 3 -2 7.4 -3c4.4 -1 10.2 -1.9 14.6 -2.9c4.4 -1 7.3 -2 7.4 -3c0.1 -0.9 -2.6 -1.9 -6.7 -2.9c-4.2 -1 -9.7 -2 -13.8 -3c-4.2 -0.9 -6.9 -1.9 -6.8 -2.9c0.2 -1 3.1 -2 7.5 -2.9c4.4 -1 10.1 -2 14.5 -3c4.4 -1 7.4 -2 7.5 -2.9c0.1 -0.9 -2.1 -1.8 -5.6 -2.7" stroke="#00f" stroke-width="1.15"/>
<path d="M577.8 756c-4.2 -1 -9.5 -1.9 -13.5 -2.9c-4.2 -0.9 -7 -1.9 -6.9 -2.9c0.1 -1 3 -2 7.3 -3c4.4 -1 10.1 -1.9 14.4 -2.9c4.4 -1 7.3 -2 7.3 -3c0.1 -1 -2.6 -2 -6.8 -2.9c-4.2 -1 -9.7 -2 -14 -3c-4.2 -1 -6.9 -2 -6.8 -3c0.1 -0.9 3 -1.9 7.3 -2.9c4.4 -1 10.1 -2 14.4 -3c4.4 -1 7.3 -1.9 7.4 -2.9c0 -1 -2.7 -2 -6.9 -3c-4.2 -1 -9.7 -2 -13.9 -2.9c-4.2 -1 -6.9 -2 -6.9 -3c0.1 -1 3 -2 7.4 -3c4.3 -0.9 10 -1.9 14.4 -2.9c4.4 -1 7.2 -2 7.3 -3c0.1 -1 -2.6 -1.9 -6.8 -2.9c-4.2 -1 -9.7 -2 -13.9 -3c-4.2 -1 -7 -2 -6.9 -2.9c0.1 -1 3 -2 7.4 -3c4.3 -1 10 -2 14.4 -3c4.4 -0.9 7.3 -1.9 7.3 -2.9c0.1 -1 -2.6 -2 -6.8 -3c-4.2 -1 -9.7 -1.9 -13.9 -2.9c-4.2 -1 -6.9 -2 -6.8 -3c0.1 -1 3 -1.9 7.3 -2.9c4.4 -1 10.1 -2 14.5 -3c4.3 -1 7.2 -2 7.3 -2.9c0.1 -1 -2.6 -2 -6.8 -3c-4.2 -1 -9.7 -2 -13.9 -3c-4.2 -0.9 -6.9 -1.9 -6.8 -2.9c0.1 -1 3 -2 7.3 -3c4.4 -0.9 10.1 -1.9 14.5 -2.9c4.4 -1 7.3 -2 7.4 -3c0 -1 -2.7 -1.9 -6.9 -2.9c-4.1 -1 -9.7 -2 -13.8 -3c-4.2 -1 -6.9 -1.9 -6.8 -2.9c0 -1 2.9 -2 7.3 -3c4.4 -1 10.1 -2 14.5 -2.9c4.4 -1 7.3 -2 7.3 -3c0.1 -1 -2.6 -2 -6.8 -2.9c-4.1 -1 -9.6 -2 -13.8 -3c-4.2 -1 -6.9 -2 -6.8 -3c0.1 -0.9 3 -1.9 7.3 -2.9c4.4 -1 10.1 -2 14.5 -3c4.4 -0.9 7.3 -1.9 7.4 -2.9c0.1 -1 -2.6 -2 -6.8 -3c-4.2 -0.9 -9.7 -1.9 -13.9 -2.9c-4.2 -1 -6.9 -2 -6.8 -3c0.1 -1 3 -1.9 7.4 -2.9c4.4 -1 10.1 -2 14.5 -3c4.4 -1 7.3 -1.9 7.4 -2.9c0.1 -1 -2.6 -2 -6.8 -3c-4.2 -1 -9.7 -1.9 -13.8 -2.9c-4.2 -1 -6.9 -2 -6.8 -3c0.1 -1 3 -1.9 7.4 -2.9c4.4 -1 10.1 -2 14.5 -3c4.3 -1 7.2 -1.9 7.4 -2.9c0.1 -1 -2.6 -2 -6.8 -3c-4.2 -1 -9.7 -1.9 -13.9 -2.9c-4.1 -1 -6.8 -2 -6.7 -3c0.1 -1 3 -1.9 7.4 -2.9c4.4 -1 10.1 -2 14.5 -3c4.3 -1 7.3 -1.9 7.4 -2.9c0.1 -1 -2.6 -2 -6.8 -3c-4.2 -1 -9.7 -1.9 -13.8 -2.9c-4.2 -1 -6.9 -2 -6.8 -3c0.1 -1 3 -1.9 7.4 -2.9c4.4 -1 10.1 -2 14.5 -3c4.4 -1 7.3 -1.9 7.4 -2.9c0.1 -1 -2.5 -2 -6.7 -3c-4.2 -1 -9.7 -1.9 -13.9 -2.9c-4.1 -1 -6.8 -2 -6.7 -3c0.1 -0.9 3 -1.9 7.4 -2.9c4.4 -1 10.1 -2 14.5 -3c4.4 -0.9 7.3 -1.9 7.5 -2.9c0.1 -1 -2.6 -2 -6.8 -3c-4.1 -0.9 -9.6 -1.9 -13.8 -2.9c-4.2 -1 -6.9 -2 -6.7 -3c0.1 -0.9 3 -1.9 7.4 -2.9c4.4 -1 10.1 -2 14.5 -2.9c4.4 -1 7.3 -2 7.4 -3c0.2 -1 -2.5 -2 -6.7 -2.9c-4.2 -1 -9.6 -2 -13.8 -3c-4.2 -1 -6.9 -1.9 -6.7 -2.9c0.1 -1 3 -2 7.4 -3c4.4 -1 10.1 -1.9 14.5 -2.9c4.4 -1 7.4 -2 7.5 -3c0.1 -0.9 -2.6 -1.9 -6.7 -2.9c-4.2 -1 -9.7 -2 -13.9 -3c-4.1 -0.9 -6.8 -1.9 -6.7 -2.9c0.1 -1 3.1 -2 7.5 -2.9c4.4 -1 10.1 -2 14.5 -3c4.4 -1 7.3 -2 7.5 -2.9c0.1 -0.9 -2.1 -1.8 -5.6 -2.7" stroke="#00f" stroke-width="1.15"/>
<path d="M634.4 756c-4.1 -1 -9.4 -1.9 -13.4 -2.9c-4.3 -0.9 -7 -1.9 -6.9 -2.9c0.1 -1 2.9 -2 7.3 -3c4.4 -1 10 -1.9 14.4 -2.9c4.4 -1 7.2 -2 7.3 -3c0.1 -1 -2.6 -2 -6.8 -2.9c-4.2 -1 -9.8 -2 -14 -3c-4.2 -1 -6.9 -2 -6.8 -3c0.1 -0.9 2.9 -1.9 7.3 -2.9c4.4 -1 10 -2 14.4 -3c4.4 -1 7.3 -1.9 7.3 -2.9c0.1 -1 -2.6 -2 -6.8 -3c-4.2 -1 -9.7 -2 -13.9 -2.9c-4.2 -1 -7 -2 -6.9 -3c0.1 -1 3 -2 7.3 -3c4.4 -0.9 10.1 -1.9 14.5 -2.9c4.3 -1 7.2 -2 7.3 -3c0.1 -1 -2.6 -1.9 -6.8 -2.9c-4.2 -1 -9.8 -2 -14 -3c-4.2 -1 -6.9 -2 -6.8 -2.9c0.1 -1 3 -2 7.4 -3c4.3 -1 10 -2 14.4 -3c4.3 -0.9 7.2 -1.9 7.3 -2.9c0.1 -1 -2.6 -2 -6.8 -3c-4.2 -1 -9.7 -1.9 -13.9 -2.9c-4.2 -1 -6.9 -2 -6.8 -3c0.1 -1 2.9 -1.9 7.3 -2.9c4.4 -1 10.1 -2 14.4 -3c4.4 -1 7.3 -2 7.4 -2.9c0.1 -1 -2.6 -2 -6.8 -3c-4.2 -1 -9.7 -2 -13.9 -3c-4.2 -0.9 -6.9 -1.9 -6.8 -2.9c0.1 -1 3 -2 7.3 -3c4.4 -0.9 10.1 -1.9 14.5 -2.9c4.3 -1 7.2 -2 7.3 -3c0.1 -1 -2.6 -1.9 -6.8 -2.9c-4.2 -1 -9.7 -2 -13.9 -3c-4.2 -1 -6.9 -1.9 -6.8 -2.9c0.1 -1 3 -2 7.4 -3c4.4 -1 10.1 -2 14.5 -2.9c4.3 -1 7.2 -2 7.3 -3c0.1 -1 -2.6 -2 -6.8 -2.9c-4.2 -1 -9.7 -2 -13.9 -3c-4.1 -1 -6.8 -2 -6.7 -3c0 -0.9 2.9 -1.9 7.3 -2.9c4.4 -1 10.1 -2 14.5 -3c4.4 -0.9 7.3 -1.9 7.4 -2.9c0.1 -1 -2.6 -2 -6.8 -3c-4.2 -0.9 -9.7 -1.9 -13.9 -2.9c-4.2 -1 -6.9 -2 -6.8 -3c0.1 -1 3 -1.9 7.4 -2.9c4.4 -1 10.1 -2 14.5 -3c4.4 -1 7.3 -1.9 7.4 -2.9c0.1 -1 -2.6 -2 -6.8 -3c-4.2 -1 -9.7 -1.9 -13.9 -2.9c-4.1 -1 -6.8 -2 -6.7 -3c0.1 -1 3 -1.9 7.4 -2.9c4.3 -1 10 -2 14.4 -3c4.4 -1 7.3 -1.9 7.4 -2.9c0.1 -1 -2.6 -2 -6.7 -3c-4.2 -1 -9.7 -1.9 -13.9 -2.9c-4.2 -1 -6.9 -2 -6.8 -3c0.1 -1 3.1 -1.9 7.4 -2.9c4.4 -1 10.1 -2 14.5 -3c4.4 -1 7.3 -1.9 7.4 -2.9c0.2 -1 -2.5 -2 -6.7 -3c-4.2 -1 -9.7 -1.9 -13.9 -2.9c-4.1 -1 -6.8 -2 -6.7 -3c0.1 -1 3 -1.9 7.4 -2.9c4.4 -1 10.1 -2 14.5 -3c4.4 -1 7.3 -1.9 7.4 -2.9c0.1 -1 -2.6 -2 -6.7 -3c-4.2 -1 -9.7 -1.9 -13.9 -2.9c-4.1 -1 -6.8 -2 -6.7 -3c0.1 -0.9 3 -1.9 7.4 -2.9c4.4 -1 10.1 -2 14.5 -3c4.4 -0.9 7.3 -1.9 7.4 -2.9c0.2 -1 -2.5 -2 -6.7 -3c-4.2 -0.9 -9.7 -1.9 -13.8 -2.9c-4.2 -1 -6.9 -2 -6.8 -3c0.2 -0.9 3.1 -1.9 7.5 -2.9c4.4 -1 10.1 -2 14.5 -2.9c4.4 -1 7.3 -2 7.4 -3c0.1 -1 -2.5 -2 -6.7 -2.9c-4.2 -1 -9.7 -2 -13.8 -3c-4.2 -1 -6.9 -1.9 -6.8 -2.9c0.2 -1 3.1 -2 7.5 -3c4.4 -1 10.1 -1.9 14.5 -2.9c4.4 -1 7.3 -2 7.5 -3c0.1 -0.9 -2.6 -1.9 -6.8 -2.9c-4.1 -1 -9.6 -2 -13.8 -3c-4.1 -0.9 -6.8 -1.9 -6.7 -2.9c0.1 -1 3.1 -2 7.5 -2.9c4.4 -1 10.1 -2 14.5 -3c4.4 -1 7.3 -2 7.5 -2.9c0.1 -0.9 -2.1 -1.8 -5.6 -2.7" stroke="#00f" stroke-width="1.15"/>
<g stroke="#000" stroke-width="1.15" stroke-dasharray="4.6 3.5"><path d="M429.4 756c1.2 -15.7 2.5 -31.4 3.8 -47.2c1.3 -15.7 2.7 -31.4 4.1 -47.1c1.5 -15.8 3 -31.5 4.6 -47.2c1.6 -15.7 3.2 -31.4 4.9 -47.2c1.8 -15.7 3.5 -31.4 5.4 -47.1c1.8 -15.8 3.8 -31.5 5.7 -47.2"/><path d="M457.8 756c1.2 -15.7 2.4 -31.4 3.7 -47.2c1.4 -15.7 2.7 -31.4 4.2 -47.1c1.4 -15.8 3 -31.5 4.5 -47.2c1.6 -15.7 3.3 -31.4 5 -47.2c1.7 -15.7 3.5 -31.4 5.3 -47.1c1.9 -15.8 3.8 -31.5 5.8 -47.2"/><path d="M486.1 756c1.2 -15.7 2.5 -31.4 3.8 -47.2c1.3 -15.7 2.7 -31.4 4.1 -47.1c1.5 -15.8 3 -31.5 4.6 -47.2c1.6 -15.7 3.2 -31.4 4.9 -47.2c1.7 -15.7 3.5 -31.4 5.4 -47.1c1.8 -15.8 3.7 -31.5 5.7 -47.2"/><path d="M514.5 756c1.1 -15.7 2.4 -31.4 3.7 -47.2c1.3 -15.7 2.7 -31.4 4.2 -47.1c1.4 -15.8 2.9 -31.5 4.5 -47.2c1.6 -15.7 3.2 -31.4 5 -47.2c1.7 -15.7 3.5 -31.4 5.3 -47.1c1.9 -15.8 3.8 -31.5 5.8 -47.2"/><path d="M542.8 756c1.2 -15.7 2.4 -31.4 3.8 -47.2c1.3 -15.7 2.7 -31.4 4.1 -47.1c1.5 -15.8 3 -31.5 4.6 -47.2c1.5 -15.7 3.2 -31.4 4.9 -47.2c1.7 -15.7 3.5 -31.4 5.3 -47.1c1.9 -15.8 3.8 -31.5 5.8 -47.2"/><path d="M571.1 756c1.2 -15.7 2.5 -31.4 3.8 -47.2c1.3 -15.7 2.7 -31.4 4.1 -47.1c1.5 -15.8 3 -31.5 4.6 -47.2c1.6 -15.7 3.2 -31.4 4.9 -47.2c1.8 -15.7 3.5 -31.4 5.4 -47.1c1.8 -15.8 3.8 -31.5 5.7 -47.2"/><path d="M599.5 756c1.2 -15.7 2.4 -31.4 3.7 -47.2c1.4 -15.7 2.7 -31.4 4.2 -47.1c1.4 -15.8 3 -31.5 4.5 -47.2c1.6 -15.7 3.3 -31.4 5 -47.2c1.7 -15.7 3.5 -31.4 5.3 -47.1c1.9 -15.8 3.8 -31.5 5.8 -47.2"/><path d="M627.8 756c1.2 -15.7 2.5 -31.4 3.8 -47.2c1.3 -15.7 2.7 -31.4 4.1 -47.1c1.5 -15.8 3 -31.5 4.6 -47.2c1.6 -15.7 3.2 -31.4 4.9 -47.2c1.7 -15.7 3.5 -31.4 5.4 -47.1c1.8 -15.8 3.7 -31.5 5.7 -47.2"/></g>
</g></g>
<rect x="386.7" y="473" width="283.4" height="283" fill="none" stroke="#1a1a1a" stroke-width="1.5"/>
<path d="M386.7 756 v-3.4 M386.7 473 v3.4 M457.5 756 v-3.4 M457.5 473 v3.4 M528.4 756 v-3.4 M528.4 473 v3.4 M599.2 756 v-3.4 M599.2 473 v3.4 M670.1 756 v-3.4 M670.1 473 v3.4 M386.7 756 h3.4 M670.1 756 h-3.4 M386.7 685.2 h3.4 M670.1 685.2 h-3.4 M386.7 614.5 h3.4 M670.1 614.5 h-3.4 M386.7 543.8 h3.4 M670.1 543.8 h-3.4 M386.7 473 h3.4 M670.1 473 h-3.4" stroke="#1a1a1a" stroke-width="1.4" fill="none"/>
<g font-size="18.0">
<text x="386.7" y="779" text-anchor="middle">-4</text>
<text x="457.5" y="779" text-anchor="middle">-3.95</text>
<text x="528.4" y="779" text-anchor="middle">-3.9</text>
<text x="599.2" y="779" text-anchor="middle">-3.85</text>
<text x="670.1" y="779" text-anchor="middle">-3.8</text>
<text x="379.9" y="763.2" text-anchor="end">0.3</text>
<text x="379.9" y="692.5" text-anchor="end">0.35</text>
<text x="379.9" y="621.7" text-anchor="end">0.4</text>
<text x="379.9" y="551" text-anchor="end">0.45</text>
<text x="379.9" y="480.2" text-anchor="end">0.5</text>
<text x="530" y="808.1" font-size="20.2" text-anchor="middle"><tspan font-style="italic">x</tspan> (mm)</text>
<text transform="translate(342 618) rotate(-90)" font-size="20.2" text-anchor="middle"><tspan font-style="italic">y</tspan> (mm)</text>
</g>
<text x="356.3" y="455" font-size="24">(d)</text>
<text x="624.5" y="679.3" font-size="15.0">Tooth <tspan font-style="italic">i</tspan></text>
<text x="618.4" y="733.4" font-size="15.0">Tooth <tspan font-style="italic">i</tspan>+1</text>
<path d="M657 665.4 L635.9 650.7" stroke="#000" stroke-width="1.5" fill="none"/><polygon points="630.8,647.2 641.2,649.8 635.9,650.7 636.8,656" fill="#000"/>
<path d="M621 721.2 L603.1 705.2" stroke="#000" stroke-width="1.5" fill="none"/><polygon points="598.5,701.1 608.5,704.9 603.1,705.2 603.4,710.6" fill="#000"/>
</svg>
</body></html>
